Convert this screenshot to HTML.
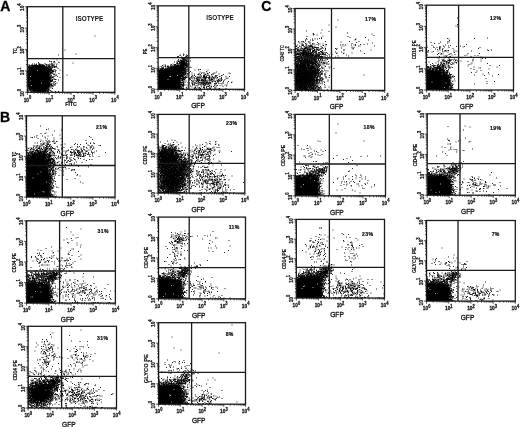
<!DOCTYPE html>
<html><head><meta charset="utf-8"><title>Figure</title>
<style>
html,body{margin:0;padding:0;background:#fff;}
svg{display:block;}
.d{fill:none;stroke-width:1.7;stroke-linecap:square;}
text{font-family:"Liberation Sans", sans-serif;fill:#111;font-weight:bold;}
.t{font-size:5.6px;stroke:#111;stroke-width:.25px;}
.s{font-size:4.7px;}
.yl{font-size:5.2px;stroke:#111;stroke-width:.15px;}
.xl{font-size:6.6px;font-weight:normal;fill:#111;stroke:#111;stroke-width:.3px;}
.iso{font-size:6.4px;}
.pc{font-size:5.1px;letter-spacing:.35px;stroke:#111;stroke-width:.2px;}
.pl{font-size:14px;fill:#000;stroke:#000;stroke-width:.3px;}
</style></head><body>
<svg width="520" height="427" viewBox="0 0 520 427">
<rect width="520" height="427" fill="#fff"/>
<defs><filter id="b" x="-30%" y="-30%" width="160%" height="160%"><feGaussianBlur stdDeviation="0.6"/></filter></defs>
<clipPath id="cA1"><rect x="27.4" y="6.7" width="87.40" height="85.60"/></clipPath>
<g clip-path="url(#cA1)">
<polygon points="42.2,65.6 44.0,65.8 45.7,66.5 47.1,67.6 48.2,69.0 48.9,70.7 49.1,72.5 49.1,84.7 48.9,86.5 48.2,88.2 47.1,89.6 45.7,90.7 44.0,91.4 42.2,91.6 35.3,91.6 33.5,91.4 31.8,90.7 30.4,89.6 29.3,88.2 28.6,86.5 28.4,84.7 28.4,72.5 28.6,70.7 29.3,69.0 30.4,67.6 31.8,66.5 33.5,65.8 35.3,65.6" fill="#000" filter="url(#b)"/>
<path class="d" transform="scale(.5)" d="M75 141zm-14 12zm-1 8zm23 5zm-20 5zm2 9z" stroke="#fff" opacity=".75"/>
<path class="d" transform="scale(.5)" d="M190 72zm-60 28zm22 8zm-35 2zm9 6zm-13 1zm1 3zm-15 2zm1 1zm3 0zm5 0zm1 0zm9 1zm-41 1zm31 0zm10 0zm-15 1zm7 0zm36 0zm-68 1zm12 0zm14 0zm-39 1zm4 0zm4 0zm5 0zm2 0zm20 0zm6 0zm8 0zm-56 1zm15 0zm6 0zm1 0zm4 0zm8 0zm1 0zm3 0zm2 0zm4 0zm2 0zm-41 1zm2 0zm3 0zm2 0zm1 0zm6 0zm1 0zm1 0zm1 0zm1 0zm1 0zm2 0zm1 0zm1 0zm1 0zm3 0zm3 0zm12 0zm2 0zm2 0zm4 0zm-54 1zm3 0zm2 0zm3 0zm2 0zm1 0zm1 0zm1 0zm2 0zm1 0zm1 0zm3 0zm2 0zm2 0zm2 0zm1 0zm2 0zm1 0zm5 0zm4 0zm1 0zm5 0zm2 0zm-50 1zm2 0zm2 0zm1 0zm2 0zm1 0zm1 0zm1 0zm3 0zm3 0zm1 0zm1 0zm1 0zm1 0zm1 0zm1 0zm2 0zm2 0zm1 0zm2 0zm1 0zm1 0zm2 0zm5 0zm3 0zm2 0zm1 0zm3 0zm2 0zm1 0zm-50 1zm2 0zm2 0zm7 0zm2 0zm1 0zm1 0zm2 0zm1 0zm2 0zm1 0zm1 0zm1 0zm2 0zm1 0zm1 0zm1 0zm2 0zm1 0zm6 0zm3 0zm1 0zm1 0zm2 0zm2 0zm6 0zm1 0zm2 0zm2 0zm-56 1zm1 0zm1 0zm3 0zm1 0zm1 0zm1 0zm1 0zm1 0zm19 0zm2 0zm1 0zm2 0zm1 0zm1 0zm7 0zm4 0zm2 0zm2 0zm-52 1zm1 0zm1 0zm1 0zm1 0zm2 0zm1 0zm28 0zm1 0zm2 0zm1 0zm3 0zm1 0zm1 0zm4 0zm1 0zm4 0zm1 0zm4 0zm-58 1zm2 0zm1 0zm2 0zm1 0zm31 0zm1 0zm1 0zm1 0zm1 0zm1 0zm1 0zm1 0zm1 0zm3 0zm-48 1zm2 0zm1 0zm1 0zm1 0zm1 0zm31 0zm2 0zm1 0zm1 0zm3 0zm2 0zm1 0zm13 0zm-60 1zm2 0zm2 0zm1 0zm33 0zm2 0zm1 0zm4 0zm1 0zm-46 1zm4 0zm34 0zm1 0zm1 0zm3 0zm1 0zm1 0zm1 0zm1 0zm7 0zm-54 1zm3 0zm1 0zm36 0zm1 0zm2 0zm1 0zm3 0zm3 0zm2 0zm12 0zm-64 1zm1 0zm1 0zm37 0zm3 0zm1 0zm2 0zm2 0zm1 0zm2 0zm6 0zm-56 1zm2 0zm1 0zm37 0zm1 0zm1 0zm6 0zm1 0zm1 0zm5 0zm-55 1zm1 0zm1 0zm1 0zm37 0zm1 0zm1 0zm1 0zm3 0zm3 0zm2 0zm1 0zm-52 1zm2 0zm39 0zm1 0zm1 0zm1 0zm1 0zm1 0zm2 0zm1 0zm1 0zm5 0zm-55 1zm2 0zm38 0zm1 0zm4 0zm2 0zm-47 1zm3 0zm38 0zm1 0zm1 0zm3 0zm2 0zm-47 1zm1 0zm1 0zm38 0zm1 0zm3 0zm3 0zm2 0zm12 0zm-62 1zm1 0zm39 0zm1 0zm4 0zm1 0zm8 0zm-54 1zm2 0zm39 0zm2 0zm1 0zm7 0zm2 0zm-53 1zm1 0zm2 0zm38 0zm16 0zm21 0zm-78 1zm40 0zm1 0zm3 0zm3 0zm9 0zm-56 1zm2 0zm38 0zm1 0zm1 0zm1 0zm2 0zm9 0zm-54 1zm3 0zm38 0zm1 0zm3 0zm7 0zm7 0zm-59 1zm1 0zm1 0zm38 0zm3 0zm4 0zm1 0zm1 0zm2 0zm-51 1zm1 0zm1 0zm39 0zm2 0zm2 0zm3 0zm1 0zm15 0zm-64 1zm2 0zm39 0zm2 0zm1 0zm2 0zm2 0zm3 0zm-51 1zm2 0zm1 0zm40 0zm3 0zm-46 1zm1 0zm1 0zm1 0zm38 0zm1 0zm1 0zm1 0zm1 0zm8 0zm-53 1zm1 0zm2 0zm37 0zm3 0zm1 0zm5 0zm3 0zm3 0zm1 0zm-56 1zm1 0zm1 0zm39 0zm1 0zm1 0zm1 0zm1 0zm2 0zm1 0zm13 0zm-61 1zm1 0zm1 0zm40 0zm3 0zm1 0zm2 0zm1 0zm-49 1zm1 0zm1 0zm1 0zm38 0zm2 0zm2 0zm2 0zm-47 1zm1 0zm1 0zm39 0zm4 0zm1 0zm1 0zm1 0zm2 0zm5 0zm-55 1zm1 0zm1 0zm1 0zm39 0zm1 0zm1 0zm1 0zm8 0zm-53 1zm1 0zm1 0zm1 0zm38 0zm1 0zm1 0zm-43 1zm3 0zm38 0zm2 0zm3 0zm5 0zm1 0zm6 0zm-58 1zm2 0zm1 0zm40 0zm1 0zm4 0zm7 0zm-55 1zm1 0zm1 0zm1 0zm39 0zm1 0zm1 0zm-44 1zm1 0zm1 0zm38 0zm1 0zm1 0zm2 0zm1 0zm1 0zm1 0zm5 0zm2 0zm-54 1zm1 0zm1 0zm1 0zm37 0zm2 0zm1 0zm1 0zm2 0zm2 0zm3 0zm-49 1zm39 0zm1 0zm1 0zm1 0zm3 0zm2 0zm5 0zm-54 1zm2 0zm39 0zm2 0zm1 0zm-44 1zm1 0zm1 0zm1 0zm37 0zm1 0zm1 0zm1 0zm1 0zm4 0zm2 0zm-50 1zm1 0zm1 0zm1 0zm1 0zm36 0zm1 0zm1 0zm6 0zm-45 1zm1 0zm34 0zm2 0zm4 0zm-44 1zm2 0zm1 0zm1 0zm1 0zm33 0zm1 0zm1 0zm6 0zm-46 1zm3 0zm1 0zm2 0zm31 0zm2 0zm1 0zm9 0zm-48 1zm2 0zm1 0zm32 0zm1 0zm1 0zm2 0zm1 0zm1 0zm1 0zm-40 1zm1 0zm1 0zm1 0zm1 0zm1 0zm27 0zm1 0zm4 0zm1 0zm-39 1zm3 0zm4 0zm1 0zm1 0zm22 0zm1 0zm2 0zm1 0zm3 0zm-40 1zm4 0zm1 0zm4 0zm2 0zm2 0zm2 0zm1 0zm6 0zm5 0zm1 0zm1 0zm1 0zm1 0zm2 0zm2 0zm1 0zm3 0zm1 0zm2 0zm3 0zm-44 1zm5 0zm1 0zm1 0zm2 0zm2 0zm4 0zm1 0zm1 0zm1 0zm2 0zm1 0zm1 0zm1 0zm1 0zm1 0zm1 0zm1 0zm1 0zm4 0zm1 0zm1 0zm1 0zm2 0zm3 0zm5 0zm-40 1zm2 0zm4 0zm1 0zm1 0zm1 0zm1 0zm1 0zm1 0zm2 0zm1 0zm1 0zm1 0zm1 0zm1 0zm1 0zm1 0zm2 0zm1 0zm1 0zm1 0zm1 0zm1 0zm1 0zm1 0zm3 0zm2 0zm7 0zm7 0zm6 0z" stroke="#000"/>
</g>
<rect x="27.4" y="6.7" width="87.40" height="85.60" fill="none" stroke="#1a1a1a" stroke-width="1.3"/>
<path d="M62.8 6.7V92.3M27.4 58.7H114.8" stroke="#1a1a1a" stroke-width="1.3" fill="none"/>
<path d="M27.4 92.3v2.6M27.4 92.3h-2.6M34.0 92.3v1.5M27.4 85.9h-1.5M37.8 92.3v1.5M27.4 82.1h-1.5M40.6 92.3v1.5M27.4 79.4h-1.5M42.7 92.3v1.5M27.4 77.3h-1.5M44.4 92.3v1.5M27.4 75.6h-1.5M45.9 92.3v1.5M27.4 74.2h-1.5M47.1 92.3v1.5M27.4 73.0h-1.5M48.3 92.3v1.5M27.4 71.9h-1.5M49.2 92.3v2.6M27.4 70.9h-2.6M55.8 92.3v1.5M27.4 64.5h-1.5M59.7 92.3v1.5M27.4 60.7h-1.5M62.4 92.3v1.5M27.4 58.0h-1.5M64.5 92.3v1.5M27.4 55.9h-1.5M66.3 92.3v1.5M27.4 54.2h-1.5M67.7 92.3v1.5M27.4 52.8h-1.5M69.0 92.3v1.5M27.4 51.6h-1.5M70.1 92.3v1.5M27.4 50.5h-1.5M71.1 92.3v2.6M27.4 49.5h-2.6M77.7 92.3v1.5M27.4 43.1h-1.5M81.5 92.3v1.5M27.4 39.3h-1.5M84.3 92.3v1.5M27.4 36.6h-1.5M86.4 92.3v1.5M27.4 34.5h-1.5M88.1 92.3v1.5M27.4 32.8h-1.5M89.6 92.3v1.5M27.4 31.4h-1.5M90.8 92.3v1.5M27.4 30.2h-1.5M92.0 92.3v1.5M27.4 29.1h-1.5M93.0 92.3v2.6M27.4 28.1h-2.6M99.5 92.3v1.5M27.4 21.7h-1.5M103.4 92.3v1.5M27.4 17.9h-1.5M106.1 92.3v1.5M27.4 15.2h-1.5M108.2 92.3v1.5M27.4 13.1h-1.5M110.0 92.3v1.5M27.4 11.4h-1.5M111.4 92.3v1.5M27.4 10.0h-1.5M112.7 92.3v1.5M27.4 8.8h-1.5M113.8 92.3v1.5M27.4 7.7h-1.5M114.8 92.3v2.6M27.4 6.7h-2.6" stroke="#111" stroke-width="0.7" fill="none"/>
<text transform="translate(27.5 101.5) scale(.86 1)" class="t" text-anchor="middle">10<tspan dy="-2.6" class="s">0</tspan></text>
<text transform="translate(23.8 92.8) rotate(-90) scale(.86 1)" class="t" text-anchor="middle">10<tspan dy="-2.6" class="s">0</tspan></text>
<text transform="translate(49.4 101.5) scale(.86 1)" class="t" text-anchor="middle">10<tspan dy="-2.6" class="s">1</tspan></text>
<text transform="translate(23.8 71.4) rotate(-90) scale(.86 1)" class="t" text-anchor="middle">10<tspan dy="-2.6" class="s">1</tspan></text>
<text transform="translate(71.2 101.5) scale(.86 1)" class="t" text-anchor="middle">10<tspan dy="-2.6" class="s">2</tspan></text>
<text transform="translate(23.8 50.0) rotate(-90) scale(.86 1)" class="t" text-anchor="middle">10<tspan dy="-2.6" class="s">2</tspan></text>
<text transform="translate(93.1 101.5) scale(.86 1)" class="t" text-anchor="middle">10<tspan dy="-2.6" class="s">3</tspan></text>
<text transform="translate(23.8 28.6) rotate(-90) scale(.86 1)" class="t" text-anchor="middle">10<tspan dy="-2.6" class="s">3</tspan></text>
<text transform="translate(114.9 101.5) scale(.86 1)" class="t" text-anchor="middle">10<tspan dy="-2.6" class="s">4</tspan></text>
<text transform="translate(23.8 7.2) rotate(-90) scale(.86 1)" class="t" text-anchor="middle">10<tspan dy="-2.6" class="s">4</tspan></text>
<text transform="translate(16.7 53.9) rotate(-90)" class="yl" textLength="5.9" lengthAdjust="spacingAndGlyphs">TC</text>
<text x="71.1" y="105.7" class="yl" text-anchor="middle">FITC</text>
<text x="89.5" y="20.8" class="iso" text-anchor="middle">ISOTYPE</text>
<clipPath id="cA2"><rect x="158.1" y="5.85" width="86.40" height="83.45"/></clipPath>
<g clip-path="url(#cA2)">
<polygon points="173.8,68.2 175.3,68.1 176.8,68.5 178.0,69.2 179.0,70.2 179.6,71.6 179.8,73.1 179.8,93.7 179.6,95.3 179.0,96.9 178.0,98.3 176.8,99.5 175.3,100.4 173.8,100.9 152.1,105.3 150.6,105.4 149.1,105.1 147.9,104.4 146.9,103.3 146.3,102.0 146.1,100.4 146.1,79.8 146.3,78.2 146.9,76.6 147.9,75.2 149.1,74.0 150.6,73.1 152.1,72.6" fill="#000" filter="url(#b)"/>
<path class="d" transform="scale(.5)" d="M355 151zm-15 2zm1 0zm-5 6z" stroke="#fff" opacity=".75"/>
<path class="d" transform="scale(.5)" d="M367 108zm1 1zm-7 1zm12 0zm-13 1zm7 0zm8 0zm-3 1zm-17 1zm2 0zm16 0zm1 0zm-11 1zm8 0zm2 0zm2 1zm-12 1zm1 0zm3 0zm8 0zm1 0zm-11 1zm1 0zm2 0zm1 0zm5 0zm6 0zm-15 1zm3 0zm2 0zm1 0zm1 0zm-15 1zm9 0zm1 0zm1 0zm6 0zm-13 1zm3 0zm3 0zm2 0zm1 0zm1 0zm1 0zm2 0zm-18 1zm5 0zm2 0zm1 0zm2 0zm1 0zm1 0zm2 0zm1 0zm1 0zm1 0zm3 0zm-19 1zm1 0zm4 0zm1 0zm1 0zm2 0zm1 0zm1 0zm4 0zm9 0zm-27 1zm3 0zm2 0zm4 0zm2 0zm1 0zm1 0zm1 0zm1 0zm5 0zm1 0zm2 0zm-28 1zm12 0zm1 0zm1 0zm1 0zm1 0zm1 0zm1 0zm2 0zm1 0zm2 0zm1 0zm3 0zm-21 1zm4 0zm1 0zm2 0zm1 0zm1 0zm1 0zm1 0zm1 0zm1 0zm1 0zm1 0zm2 0zm1 0zm-20 1zm6 0zm2 0zm1 0zm1 0zm1 0zm2 0zm1 0zm1 0zm1 0zm5 0zm-20 1zm1 0zm4 0zm4 0zm2 0zm1 0zm1 0zm1 0zm1 0zm2 0zm1 0zm1 0zm1 0zm3 0zm-31 1zm9 0zm1 0zm1 0zm3 0zm1 0zm1 0zm1 0zm1 0zm1 0zm1 0zm1 0zm1 0zm4 0zm2 0zm4 0zm-35 1zm6 0zm1 0zm1 0zm9 0zm1 0zm1 0zm1 0zm1 0zm1 0zm1 0zm1 0zm2 0zm2 0zm2 0zm3 0zm-48 1zm3 0zm10 0zm7 0zm4 0zm2 0zm2 0zm4 0zm1 0zm1 0zm1 0zm1 0zm1 0zm1 0zm1 0zm1 0zm1 0zm1 0zm1 0zm1 0zm1 0zm2 0zm1 0zm-51 1zm23 0zm1 0zm3 0zm1 0zm1 0zm2 0zm1 0zm1 0zm3 0zm1 0zm1 0zm2 0zm1 0zm1 0zm2 0zm1 0zm1 0zm2 0zm1 0zm2 0zm-45 1zm4 0zm2 0zm4 0zm2 0zm1 0zm1 0zm4 0zm1 0zm1 0zm2 0zm1 0zm1 0zm1 0zm1 0zm1 0zm1 0zm1 0zm1 0zm1 0zm2 0zm1 0zm1 0zm1 0zm1 0zm5 0zm-51 1zm8 0zm1 0zm4 0zm7 0zm1 0zm1 0zm3 0zm1 0zm1 0zm2 0zm1 0zm1 0zm1 0zm1 0zm1 0zm1 0zm1 0zm1 0zm1 0zm1 0zm1 0zm1 0zm1 0zm1 0zm1 0zm1 0zm2 0zm3 0zm1 0zm1 0zm1 0zm-58 1zm1 0zm6 0zm3 0zm7 0zm2 0zm1 0zm1 0zm2 0zm2 0zm2 0zm1 0zm2 0zm1 0zm1 0zm1 0zm2 0zm1 0zm1 0zm2 0zm1 0zm1 0zm3 0zm1 0zm1 0zm1 0zm1 0zm1 0zm1 0zm5 0zm1 0zm1 0zm1 0zm5 0zm-54 1zm10 0zm1 0zm3 0zm1 0zm1 0zm1 0zm1 0zm2 0zm1 0zm2 0zm2 0zm1 0zm1 0zm1 0zm1 0zm1 0zm1 0zm1 0zm1 0zm2 0zm1 0zm1 0zm1 0zm1 0zm1 0zm1 0zm3 0zm1 0zm1 0zm6 0zm4 0zm-59 1zm1 0zm2 0zm5 0zm5 0zm1 0zm1 0zm2 0zm2 0zm1 0zm1 0zm1 0zm2 0zm3 0zm1 0zm1 0zm1 0zm1 0zm1 0zm1 0zm1 0zm1 0zm1 0zm1 0zm1 0zm1 0zm1 0zm1 0zm1 0zm1 0zm2 0zm1 0zm2 0zm6 0zm-57 1zm5 0zm2 0zm4 0zm1 0zm3 0zm3 0zm1 0zm2 0zm1 0zm1 0zm1 0zm1 0zm1 0zm1 0zm1 0zm1 0zm1 0zm1 0zm1 0zm1 0zm1 0zm1 0zm1 0zm2 0zm1 0zm1 0zm1 0zm1 0zm1 0zm1 0zm1 0zm1 0zm1 0zm2 0zm1 0zm1 0zm3 0zm-57 1zm3 0zm1 0zm1 0zm2 0zm1 0zm2 0zm2 0zm2 0zm1 0zm1 0zm2 0zm1 0zm2 0zm1 0zm1 0zm2 0zm1 0zm1 0zm1 0zm1 0zm1 0zm1 0zm1 0zm1 0zm1 0zm1 0zm1 0zm1 0zm1 0zm1 0zm1 0zm1 0zm1 0zm1 0zm1 0zm1 0zm1 0zm1 0zm2 0zm1 0zm1 0zm1 0zm1 0zm1 0zm-54 1zm1 0zm3 0zm2 0zm2 0zm3 0zm1 0zm1 0zm1 0zm2 0zm3 0zm1 0zm2 0zm2 0zm1 0zm1 0zm1 0zm1 0zm1 0zm6 0zm1 0zm1 0zm1 0zm1 0zm1 0zm1 0zm1 0zm1 0zm1 0zm1 0zm1 0zm2 0zm1 0zm1 0zm1 0zm2 0zm4 0zm2 0zm22 0zm3 0zm-84 1zm4 0zm1 0zm1 0zm2 0zm1 0zm2 0zm1 0zm1 0zm1 0zm1 0zm2 0zm1 0zm1 0zm1 0zm1 0zm1 0zm2 0zm1 0zm12 0zm1 0zm1 0zm1 0zm1 0zm1 0zm1 0zm2 0zm1 0zm1 0zm1 0zm1 0zm1 0zm1 0zm1 0zm2 0zm1 0zm1 0zm17 0zm7 0zm19 0zm-99 1zm1 0zm1 0zm1 0zm1 0zm1 0zm1 0zm1 0zm1 0zm1 0zm1 0zm1 0zm2 0zm1 0zm1 0zm1 0zm2 0zm2 0zm19 0zm1 0zm1 0zm1 0zm1 0zm1 0zm2 0zm1 0zm1 0zm1 0zm2 0zm2 0zm6 0zm1 0zm-60 1zm1 0zm1 0zm1 0zm1 0zm1 0zm2 0zm1 0zm1 0zm1 0zm1 0zm1 0zm2 0zm25 0zm1 0zm1 0zm1 0zm1 0zm1 0zm1 0zm1 0zm1 0zm1 0zm2 0zm1 0zm2 0zm1 0zm3 0zm-57 1zm1 0zm1 0zm2 0zm1 0zm1 0zm1 0zm1 0zm1 0zm31 0zm1 0zm1 0zm1 0zm1 0zm1 0zm1 0zm3 0zm3 0zm2 0zm5 0zm5 0zm32 0zm-96 1zm1 0zm1 0zm1 0zm1 0zm1 0zm35 0zm1 0zm1 0zm1 0zm1 0zm1 0zm2 0zm2 0zm1 0zm3 0zm2 0zm1 0zm27 0zm14 0zm19 0zm-116 1zm1 0zm40 0zm1 0zm1 0zm2 0zm1 0zm2 0zm1 0zm1 0zm1 0zm1 0zm2 0zm8 0zm25 0zm15 0zm-60 1zm1 0zm1 0zm1 0zm2 0zm2 0zm1 0zm2 0zm1 0zm14 0zm23 0zm2 0zm19 0zm2 0zm28 0zm-100 1zm1 0zm1 0zm1 0zm2 0zm1 0zm1 0zm1 0zm1 0zm1 0zm3 0zm1 0zm3 0zm28 0zm12 0zm45 0zm-102 1zm1 0zm1 0zm1 0zm1 0zm1 0zm2 0zm2 0zm2 0zm5 0zm2 0zm13 0zm8 0zm2 0zm13 0zm5 0zm8 0zm2 0zm11 0zm-80 1zm1 0zm1 0zm1 0zm1 0zm1 0zm1 0zm1 0zm2 0zm2 0zm2 0zm25 0zm1 0zm4 0zm9 0zm1 0zm12 0zm24 0zm-89 1zm1 0zm1 0zm1 0zm1 0zm2 0zm1 0zm2 0zm2 0zm5 0zm10 0zm24 0zm7 0zm-57 1zm1 0zm1 0zm1 0zm1 0zm1 0zm1 0zm1 0zm1 0zm2 0zm21 0zm18 0zm2 0zm5 0zm4 0zm13 0zm3 0zm9 0zm1 0zm-86 1zm1 0zm1 0zm1 0zm1 0zm1 0zm1 0zm1 0zm1 0zm6 0zm2 0zm2 0zm9 0zm1 0zm12 0zm3 0zm2 0zm7 0zm8 0zm6 0zm9 0zm-75 1zm4 0zm1 0zm2 0zm1 0zm5 0zm12 0zm8 0zm16 0zm1 0zm1 0zm4 0zm6 0zm6 0zm5 0zm9 0zm1 0zm12 0zm7 0zm-101 1zm1 0zm1 0zm1 0zm1 0zm3 0zm2 0zm1 0zm2 0zm24 0zm1 0zm4 0zm4 0zm5 0zm1 0zm1 0zm2 0zm1 0zm9 0zm9 0zm1 0zm-75 1zm1 0zm1 0zm1 0zm1 0zm5 0zm1 0zm2 0zm1 0zm1 0zm2 0zm1 0zm8 0zm6 0zm6 0zm2 0zm1 0zm1 0zm3 0zm5 0zm1 0zm1 0zm3 0zm1 0zm2 0zm2 0zm2 0zm1 0zm7 0zm1 0zm8 0zm8 0zm-83 1zm1 0zm2 0zm2 0zm2 0zm11 0zm2 0zm3 0zm2 0zm3 0zm10 0zm10 0zm1 0zm8 0zm2 0zm3 0zm1 0zm3 0zm1 0zm2 0zm1 0zm4 0zm18 0zm4 0zm-98 1zm1 0zm1 0zm1 0zm1 0zm1 0zm2 0zm2 0zm1 0zm3 0zm8 0zm1 0zm10 0zm3 0zm1 0zm8 0zm8 0zm1 0zm1 0zm6 0zm22 0zm3 0zm11 0zm-97 1zm1 0zm2 0zm1 0zm1 0zm1 0zm1 0zm1 0zm4 0zm1 0zm9 0zm10 0zm6 0zm2 0zm2 0zm5 0zm3 0zm3 0zm8 0zm1 0zm1 0zm3 0zm1 0zm4 0zm6 0zm9 0zm-85 1zm1 0zm6 0zm1 0zm1 0zm1 0zm1 0zm12 0zm13 0zm1 0zm1 0zm8 0zm1 0zm6 0zm9 0zm3 0zm1 0zm1 0zm12 0zm3 0zm4 0zm6 0zm-92 1zm1 0zm1 0zm2 0zm2 0zm2 0zm13 0zm7 0zm7 0zm4 0zm2 0zm1 0zm3 0zm1 0zm1 0zm1 0zm2 0zm1 0zm2 0zm3 0zm6 0zm3 0zm2 0zm3 0zm9 0zm-78 1zm3 0zm2 0zm1 0zm18 0zm5 0zm4 0zm3 0zm1 0zm3 0zm3 0zm1 0zm1 0zm2 0zm1 0zm4 0zm1 0zm4 0zm4 0zm2 0zm12 0zm1 0zm4 0zm3 0zm1 0zm5 0zm-91 1zm1 0zm1 0zm1 0zm1 0zm3 0zm3 0zm2 0zm3 0zm12 0zm11 0zm2 0zm7 0zm2 0zm3 0zm2 0zm8 0zm8 0zm3 0zm7 0zm5 0zm-84 1zm1 0zm7 0zm20 0zm7 0zm4 0zm11 0zm6 0zm10 0zm1 0zm5 0zm1 0zm4 0zm2 0zm3 0zm7 0zm10 0zm-97 1zm1 0zm6 0zm18 0zm3 0zm4 0zm5 0zm1 0zm4 0zm3 0zm2 0zm1 0zm1 0zm2 0zm2 0zm1 0zm2 0zm4 0zm4 0zm11 0zm29 0zm-106 1zm1 0zm1 0zm1 0zm1 0zm1 0zm1 0zm1 0zm1 0zm4 0zm6 0zm14 0zm6 0zm3 0zm1 0zm2 0zm1 0zm1 0zm4 0zm6 0zm1 0zm4 0zm1 0zm1 0zm42 0zm-105 1zm1 0zm1 0zm3 0zm1 0zm3 0zm12 0zm4 0zm3 0zm4 0zm10 0zm5 0zm1 0zm1 0zm4 0zm1 0zm1 0zm1 0zm2 0zm1 0zm4 0zm10 0zm2 0zm4 0zm8 0zm2 0zm8 0zm-97 1zm1 0zm1 0zm7 0zm18 0zm5 0zm3 0zm3 0zm7 0zm4 0zm2 0zm3 0zm4 0zm1 0zm1 0zm2 0zm9 0zm4 0zm5 0zm4 0zm-84 1zm3 0zm1 0zm4 0zm2 0zm21 0zm7 0zm2 0zm3 0zm4 0zm3 0zm2 0zm2 0zm5 0zm5 0zm7 0zm2 0zm1 0zm-72 1zm1 0zm1 0zm1 0zm2 0zm2 0zm18 0zm3 0zm10 0zm4 0zm5 0zm4 0zm3 0zm2 0zm-58 1zm1 0zm1 0zm1 0zm2 0zm2 0zm1 0zm2 0zm2 0zm4 0zm4 0zm7 0zm1 0zm3 0zm13 0zm4 0zm2 0zm2 0zm9 0zm25 0zm6 0zm4 0zm-96 1zm1 0zm1 0zm4 0zm1 0zm2 0zm25 0zm4 0zm14 0zm9 0zm10 0zm6 0zm5 0zm-82 1zm2 0zm4 0zm17 0zm13 0zm9 0zm5 0zm1 0zm7 0zm6 0zm8 0zm3 0zm20 0zm-95 1zm1 0zm1 0zm1 0zm1 0zm5 0zm47 0zm2 0zm1 0zm6 0zm4 0zm19 0zm-88 1zm1 0zm1 0zm1 0zm3 0zm1 0zm11 0zm8 0zm7 0zm11 0zm5 0zm6 0zm6 0zm4 0zm-65 1zm1 0zm1 0zm3 0zm10 0zm18 0zm5 0zm3 0zm8 0zm2 0zm4 0zm7 0zm10 0zm-72 1zm1 0zm1 0zm7 0zm22 0zm1 0zm42 0zm-75 1zm1 0zm1 0zm1 0zm1 0zm1 0zm1 0zm1 0zm1 0zm1 0zm1 0zm7 0zm15 0zm3 0zm6 0zm2 0zm1 0zm8 0zm5 0zm4 0zm2 0zm1 0zm9 0zm8 0zm1 0zm13 0z" stroke="#000"/>
</g>
<rect x="158.1" y="5.85" width="86.40" height="83.45" fill="none" stroke="#1a1a1a" stroke-width="1.3"/>
<path d="M188.8 5.85V89.3M158.1 57.6H244.5" stroke="#1a1a1a" stroke-width="1.3" fill="none"/>
<path d="M158.1 89.3v2.6M158.1 89.3h-2.6M164.6 89.3v1.5M158.1 83.0h-1.5M168.4 89.3v1.5M158.1 79.3h-1.5M171.1 89.3v1.5M158.1 76.7h-1.5M173.2 89.3v1.5M158.1 74.7h-1.5M174.9 89.3v1.5M158.1 73.1h-1.5M176.4 89.3v1.5M158.1 71.7h-1.5M177.6 89.3v1.5M158.1 70.5h-1.5M178.7 89.3v1.5M158.1 69.4h-1.5M179.7 89.3v2.6M158.1 68.4h-2.6M186.2 89.3v1.5M158.1 62.2h-1.5M190.0 89.3v1.5M158.1 58.5h-1.5M192.7 89.3v1.5M158.1 55.9h-1.5M194.8 89.3v1.5M158.1 53.9h-1.5M196.5 89.3v1.5M158.1 52.2h-1.5M198.0 89.3v1.5M158.1 50.8h-1.5M199.2 89.3v1.5M158.1 49.6h-1.5M200.3 89.3v1.5M158.1 48.5h-1.5M201.3 89.3v2.6M158.1 47.6h-2.6M207.8 89.3v1.5M158.1 41.3h-1.5M211.6 89.3v1.5M158.1 37.6h-1.5M214.3 89.3v1.5M158.1 35.0h-1.5M216.4 89.3v1.5M158.1 33.0h-1.5M218.1 89.3v1.5M158.1 31.3h-1.5M219.6 89.3v1.5M158.1 29.9h-1.5M220.8 89.3v1.5M158.1 28.7h-1.5M221.9 89.3v1.5M158.1 27.7h-1.5M222.9 89.3v2.6M158.1 26.7h-2.6M229.4 89.3v1.5M158.1 20.4h-1.5M233.2 89.3v1.5M158.1 16.8h-1.5M235.9 89.3v1.5M158.1 14.2h-1.5M238.0 89.3v1.5M158.1 12.1h-1.5M239.7 89.3v1.5M158.1 10.5h-1.5M241.2 89.3v1.5M158.1 9.1h-1.5M242.4 89.3v1.5M158.1 7.9h-1.5M243.5 89.3v1.5M158.1 6.8h-1.5M244.5 89.3v2.6M158.1 5.8h-2.6" stroke="#111" stroke-width="0.7" fill="none"/>
<text transform="translate(158.2 98.5) scale(.86 1)" class="t" text-anchor="middle">10<tspan dy="-2.6" class="s">0</tspan></text>
<text transform="translate(154.5 89.8) rotate(-90) scale(.86 1)" class="t" text-anchor="middle">10<tspan dy="-2.6" class="s">0</tspan></text>
<text transform="translate(179.8 98.5) scale(.86 1)" class="t" text-anchor="middle">10<tspan dy="-2.6" class="s">1</tspan></text>
<text transform="translate(154.5 68.9) rotate(-90) scale(.86 1)" class="t" text-anchor="middle">10<tspan dy="-2.6" class="s">1</tspan></text>
<text transform="translate(201.4 98.5) scale(.86 1)" class="t" text-anchor="middle">10<tspan dy="-2.6" class="s">2</tspan></text>
<text transform="translate(154.5 48.1) rotate(-90) scale(.86 1)" class="t" text-anchor="middle">10<tspan dy="-2.6" class="s">2</tspan></text>
<text transform="translate(223.0 98.5) scale(.86 1)" class="t" text-anchor="middle">10<tspan dy="-2.6" class="s">3</tspan></text>
<text transform="translate(154.5 27.2) rotate(-90) scale(.86 1)" class="t" text-anchor="middle">10<tspan dy="-2.6" class="s">3</tspan></text>
<text transform="translate(244.6 98.5) scale(.86 1)" class="t" text-anchor="middle">10<tspan dy="-2.6" class="s">4</tspan></text>
<text transform="translate(154.5 6.3) rotate(-90) scale(.86 1)" class="t" text-anchor="middle">10<tspan dy="-2.6" class="s">4</tspan></text>
<text transform="translate(147.4 54.2) rotate(-90)" class="yl" textLength="5.6" lengthAdjust="spacingAndGlyphs">PE</text>
<text x="198.0" y="108.1" class="xl" text-anchor="middle">GFP</text>
<text x="220" y="19.7" class="iso" text-anchor="middle">ISOTYPE</text>
<clipPath id="cB1"><rect x="26.5" y="115.8" width="88.55" height="81.30"/></clipPath>
<g clip-path="url(#cB1)">
<polygon points="41.1,167.9 43.0,168.2 44.8,169.0 46.3,170.2 47.4,171.8 48.2,173.5 48.4,175.4 48.4,203.4 48.2,205.3 47.4,207.0 46.3,208.5 44.8,209.6 43.0,210.2 41.1,210.4 20.2,209.8 18.3,209.5 16.5,208.7 15.0,207.5 13.9,206.0 13.1,204.2 12.9,202.3 12.9,174.4 13.1,172.5 13.9,170.8 15.0,169.3 16.5,168.2 18.3,167.5 20.2,167.3" fill="#000" filter="url(#b)"/>
<path class="d" transform="scale(.5)" d="M82 344zm-6 4zm-10 8zm27 8zm-7 19zm2 1zm-19 4z" stroke="#fff" opacity=".75"/>
<path class="d" transform="scale(.5)" d="M81 252zm16 6zm-4 1zm30 1zm-14 2zm-17 4zm-10 1zm8 0zm15 3zm15 0zm-46 1zm11 1zm11 0zm83 1zm-110 1zm4 0zm17 0zm-28 1zm3 0zm117 0zm-91 1zm17 0zm-32 1zm46 0zm-27 1zm90 1zm-103 1zm26 0zm-16 1zm80 0zm-86 1zm11 0zm2 0zm8 0zm-26 1zm13 0zm11 0zm3 0zm5 0zm1 0zm-19 1zm4 0zm1 0zm-30 2zm5 0zm11 0zm3 0zm3 0zm3 0zm2 0zm11 0zm3 0zm62 0zm8 0zm6 0zm-100 1zm7 0zm15 0zm42 0zm22 0zm8 0zm8 0zm-108 1zm2 0zm4 0zm10 0zm33 0zm-44 1zm2 0zm7 0zm2 0zm3 0zm24 0zm25 0zm6 0zm6 0zm-76 1zm8 0zm2 0zm6 0zm21 0zm54 0zm-101 1zm7 0zm9 0zm8 0zm79 0zm6 0zm14 0zm3 0zm-134 1zm2 0zm3 0zm2 0zm2 0zm3 0zm5 0zm9 0zm2 0zm89 0zm-104 1zm8 0zm5 0zm3 0zm3 0zm4 0zm11 0zm41 0zm4 0zm9 0zm-95 1zm7 0zm7 0zm6 0zm2 0zm2 0zm4 0zm14 0zm29 0zm23 0zm1 0zm12 0zm1 0zm2 0zm4 0zm-120 1zm7 0zm5 0zm9 0zm3 0zm1 0zm10 0zm3 0zm23 0zm13 0zm15 0zm17 0zm9 0zm-128 1zm6 0zm3 0zm4 0zm4 0zm6 0zm6 0zm8 0zm2 0zm3 0zm27 0zm39 0zm26 0zm-131 1zm6 0zm13 0zm1 0zm1 0zm1 0zm4 0zm5 0zm5 0zm2 0zm1 0zm3 0zm2 0zm3 0zm2 0zm1 0zm1 0zm2 0zm64 0zm12 0zm-132 1zm9 0zm2 0zm3 0zm6 0zm5 0zm2 0zm3 0zm4 0zm3 0zm9 0zm3 0zm20 0zm30 0zm9 0zm5 0zm14 0zm-120 1zm7 0zm6 0zm10 0zm1 0zm5 0zm1 0zm2 0zm1 0zm6 0zm10 0zm6 0zm27 0zm3 0zm5 0zm12 0zm5 0zm17 0zm-131 1zm6 0zm1 0zm3 0zm3 0zm1 0zm5 0zm1 0zm1 0zm5 0zm1 0zm5 0zm3 0zm2 0zm1 0zm4 0zm2 0zm2 0zm3 0zm15 0zm19 0zm18 0zm8 0zm6 0zm9 0zm-124 1zm2 0zm14 0zm1 0zm2 0zm1 0zm1 0zm3 0zm12 0zm1 0zm1 0zm10 0zm1 0zm14 0zm19 0zm12 0zm6 0zm3 0zm1 0zm7 0zm7 0zm-101 1zm3 0zm1 0zm1 0zm1 0zm1 0zm2 0zm1 0zm2 0zm3 0zm2 0zm2 0zm1 0zm3 0zm2 0zm7 0zm3 0zm22 0zm4 0zm2 0zm16 0zm5 0zm3 0zm5 0zm12 0zm8 0zm10 0zm-133 1zm4 0zm1 0zm1 0zm1 0zm7 0zm1 0zm2 0zm3 0zm1 0zm3 0zm1 0zm1 0zm1 0zm1 0zm1 0zm2 0zm1 0zm2 0zm1 0zm10 0zm10 0zm4 0zm22 0zm7 0zm7 0zm3 0zm7 0zm7 0zm1 0zm-119 1zm6 0zm1 0zm1 0zm2 0zm1 0zm5 0zm1 0zm4 0zm2 0zm4 0zm1 0zm4 0zm4 0zm4 0zm6 0zm1 0zm5 0zm19 0zm7 0zm11 0zm5 0zm8 0zm1 0zm4 0zm2 0zm20 0zm6 0zm-135 1zm2 0zm3 0zm4 0zm6 0zm1 0zm4 0zm3 0zm2 0zm1 0zm1 0zm1 0zm2 0zm2 0zm1 0zm2 0zm1 0zm2 0zm1 0zm6 0zm3 0zm5 0zm1 0zm7 0zm26 0zm2 0zm2 0zm3 0zm2 0zm1 0zm4 0zm3 0zm1 0zm18 0zm7 0zm2 0zm25 0zm-157 1zm3 0zm3 0zm4 0zm1 0zm1 0zm1 0zm2 0zm1 0zm1 0zm1 0zm1 0zm3 0zm1 0zm1 0zm1 0zm2 0zm2 0zm1 0zm2 0zm4 0zm2 0zm6 0zm3 0zm3 0zm15 0zm3 0zm9 0zm30 0zm4 0zm3 0zm3 0zm-117 1zm3 0zm1 0zm3 0zm1 0zm1 0zm2 0zm3 0zm1 0zm1 0zm2 0zm2 0zm1 0zm1 0zm1 0zm2 0zm1 0zm1 0zm1 0zm1 0zm3 0zm1 0zm1 0zm1 0zm1 0zm4 0zm4 0zm2 0zm8 0zm1 0zm40 0zm2 0zm6 0zm3 0zm7 0zm3 0zm2 0zm5 0zm8 0zm-131 1zm10 0zm3 0zm1 0zm1 0zm4 0zm3 0zm2 0zm1 0zm1 0zm1 0zm1 0zm1 0zm1 0zm1 0zm1 0zm2 0zm1 0zm1 0zm2 0zm3 0zm1 0zm4 0zm5 0zm18 0zm2 0zm18 0zm1 0zm4 0zm5 0zm5 0zm-104 1zm3 0zm2 0zm3 0zm2 0zm1 0zm1 0zm2 0zm1 0zm1 0zm1 0zm1 0zm1 0zm1 0zm1 0zm1 0zm1 0zm1 0zm1 0zm1 0zm1 0zm2 0zm2 0zm1 0zm1 0zm1 0zm1 0zm1 0zm1 0zm2 0zm1 0zm1 0zm1 0zm2 0zm1 0zm1 0zm23 0zm11 0zm15 0zm9 0zm1 0zm1 0zm2 0zm5 0zm8 0zm1 0zm2 0zm2 0zm-123 1zm3 0zm1 0zm3 0zm1 0zm1 0zm1 0zm1 0zm2 0zm1 0zm2 0zm1 0zm1 0zm1 0zm2 0zm1 0zm2 0zm1 0zm1 0zm1 0zm1 0zm1 0zm1 0zm1 0zm1 0zm1 0zm1 0zm5 0zm2 0zm1 0zm3 0zm5 0zm2 0zm15 0zm1 0zm3 0zm4 0zm9 0zm8 0zm3 0zm1 0zm1 0zm1 0zm15 0zm15 0zm-131 1zm1 0zm2 0zm1 0zm1 0zm1 0zm1 0zm1 0zm2 0zm1 0zm1 0zm1 0zm1 0zm1 0zm1 0zm1 0zm1 0zm1 0zm1 0zm1 0zm1 0zm1 0zm1 0zm1 0zm1 0zm1 0zm1 0zm1 0zm1 0zm1 0zm1 0zm1 0zm1 0zm1 0zm1 0zm1 0zm1 0zm1 0zm1 0zm3 0zm2 0zm1 0zm1 0zm1 0zm1 0zm3 0zm6 0zm15 0zm3 0zm3 0zm9 0zm2 0zm9 0zm3 0zm1 0zm3 0zm2 0zm5 0zm4 0zm-117 1zm2 0zm2 0zm1 0zm2 0zm1 0zm2 0zm1 0zm1 0zm2 0zm1 0zm1 0zm1 0zm1 0zm1 0zm1 0zm1 0zm1 0zm1 0zm1 0zm1 0zm1 0zm1 0zm1 0zm1 0zm2 0zm1 0zm1 0zm2 0zm1 0zm2 0zm1 0zm1 0zm4 0zm1 0zm2 0zm1 0zm2 0zm5 0zm8 0zm42 0zm9 0zm11 0zm-125 1zm3 0zm4 0zm2 0zm1 0zm1 0zm1 0zm1 0zm1 0zm1 0zm1 0zm1 0zm1 0zm1 0zm1 0zm1 0zm1 0zm1 0zm1 0zm1 0zm1 0zm1 0zm1 0zm1 0zm1 0zm1 0zm2 0zm1 0zm1 0zm1 0zm2 0zm3 0zm1 0zm1 0zm1 0zm1 0zm2 0zm16 0zm32 0zm7 0zm5 0zm3 0zm1 0zm2 0zm1 0zm12 0zm6 0zm12 0zm-144 1zm1 0zm1 0zm1 0zm1 0zm1 0zm1 0zm1 0zm1 0zm1 0zm1 0zm1 0zm1 0zm1 0zm1 0zm1 0zm1 0zm1 0zm1 0zm2 0zm1 0zm1 0zm1 0zm1 0zm1 0zm1 0zm1 0zm1 0zm1 0zm1 0zm1 0zm1 0zm1 0zm1 0zm1 0zm1 0zm2 0zm1 0zm2 0zm4 0zm22 0zm1 0zm11 0zm1 0zm1 0zm-81 1zm2 0zm1 0zm3 0zm1 0zm1 0zm1 0zm1 0zm1 0zm1 0zm1 0zm1 0zm1 0zm1 0zm1 0zm1 0zm2 0zm1 0zm1 0zm1 0zm1 0zm1 0zm1 0zm1 0zm1 0zm1 0zm1 0zm2 0zm1 0zm1 0zm2 0zm1 0zm1 0zm3 0zm1 0zm2 0zm1 0zm12 0zm5 0zm12 0zm14 0zm14 0zm-102 1zm1 0zm1 0zm1 0zm1 0zm1 0zm1 0zm1 0zm1 0zm1 0zm1 0zm1 0zm1 0zm1 0zm1 0zm1 0zm1 0zm1 0zm1 0zm1 0zm1 0zm2 0zm1 0zm1 0zm1 0zm2 0zm1 0zm1 0zm1 0zm1 0zm1 0zm1 0zm1 0zm1 0zm1 0zm1 0zm6 0zm1 0zm1 0zm2 0zm2 0zm4 0zm10 0zm3 0zm1 0zm12 0zm6 0zm-85 1zm1 0zm1 0zm1 0zm1 0zm2 0zm1 0zm1 0zm1 0zm1 0zm1 0zm1 0zm1 0zm1 0zm1 0zm1 0zm1 0zm1 0zm1 0zm1 0zm1 0zm1 0zm1 0zm1 0zm1 0zm1 0zm1 0zm1 0zm2 0zm1 0zm1 0zm1 0zm1 0zm1 0zm1 0zm1 0zm1 0zm1 0zm4 0zm1 0zm4 0zm1 0zm1 0zm1 0zm8 0zm21 0zm13 0zm10 0zm4 0zm-107 1zm1 0zm1 0zm2 0zm1 0zm2 0zm2 0zm1 0zm1 0zm1 0zm1 0zm1 0zm1 0zm1 0zm1 0zm1 0zm1 0zm1 0zm1 0zm1 0zm1 0zm1 0zm1 0zm1 0zm1 0zm1 0zm1 0zm1 0zm1 0zm1 0zm1 0zm3 0zm1 0zm1 0zm1 0zm1 0zm1 0zm1 0zm1 0zm1 0zm2 0zm1 0zm2 0zm1 0zm5 0zm5 0zm19 0zm7 0zm-86 1zm1 0zm1 0zm1 0zm2 0zm1 0zm1 0zm1 0zm1 0zm1 0zm1 0zm1 0zm1 0zm1 0zm1 0zm1 0zm1 0zm1 0zm1 0zm1 0zm1 0zm1 0zm1 0zm1 0zm1 0zm1 0zm1 0zm1 0zm1 0zm1 0zm1 0zm1 0zm1 0zm1 0zm1 0zm1 0zm2 0zm1 0zm1 0zm1 0zm1 0zm1 0zm1 0zm1 0zm2 0zm1 0zm3 0zm1 0zm1 0zm35 0zm7 0zm19 0zm11 0zm5 0zm-130 1zm1 0zm1 0zm1 0zm1 0zm1 0zm1 0zm2 0zm1 0zm1 0zm1 0zm2 0zm1 0zm1 0zm1 0zm1 0zm1 0zm1 0zm1 0zm1 0zm1 0zm1 0zm1 0zm1 0zm1 0zm1 0zm1 0zm1 0zm1 0zm1 0zm1 0zm1 0zm1 0zm1 0zm2 0zm1 0zm1 0zm1 0zm2 0zm1 0zm1 0zm1 0zm1 0zm1 0zm3 0zm25 0zm22 0zm-97 1zm1 0zm1 0zm1 0zm1 0zm1 0zm1 0zm1 0zm1 0zm1 0zm1 0zm1 0zm2 0zm1 0zm1 0zm1 0zm1 0zm1 0zm1 0zm1 0zm1 0zm1 0zm1 0zm1 0zm1 0zm1 0zm1 0zm1 0zm1 0zm1 0zm1 0zm1 0zm1 0zm1 0zm1 0zm2 0zm2 0zm2 0zm1 0zm1 0zm2 0zm2 0zm1 0zm4 0zm1 0zm1 0zm1 0zm22 0zm5 0zm1 0zm5 0zm2 0zm29 0zm-119 1zm1 0zm1 0zm2 0zm1 0zm1 0zm1 0zm1 0zm1 0zm1 0zm1 0zm1 0zm1 0zm1 0zm1 0zm1 0zm1 0zm1 0zm1 0zm1 0zm1 0zm1 0zm1 0zm1 0zm1 0zm1 0zm1 0zm1 0zm1 0zm1 0zm1 0zm1 0zm1 0zm1 0zm1 0zm2 0zm2 0zm2 0zm1 0zm4 0zm29 0zm-75 1zm1 0zm2 0zm1 0zm1 0zm1 0zm1 0zm1 0zm1 0zm1 0zm1 0zm1 0zm1 0zm1 0zm1 0zm1 0zm1 0zm1 0zm1 0zm1 0zm1 0zm1 0zm1 0zm1 0zm1 0zm1 0zm1 0zm1 0zm1 0zm1 0zm1 0zm1 0zm1 0zm1 0zm1 0zm1 0zm1 0zm2 0zm1 0zm1 0zm1 0zm1 0zm1 0zm3 0zm1 0zm3 0zm2 0zm1 0zm2 0zm8 0zm21 0zm2 0zm-87 1zm1 0zm1 0zm1 0zm1 0zm1 0zm1 0zm1 0zm1 0zm1 0zm1 0zm1 0zm1 0zm1 0zm1 0zm1 0zm1 0zm1 0zm1 0zm1 0zm1 0zm1 0zm1 0zm1 0zm1 0zm1 0zm1 0zm1 0zm1 0zm1 0zm1 0zm1 0zm1 0zm1 0zm1 0zm1 0zm1 0zm1 0zm1 0zm1 0zm1 0zm1 0zm1 0zm2 0zm2 0zm1 0zm4 0zm20 0zm9 0zm1 0zm18 0zm-99 1zm1 0zm1 0zm1 0zm1 0zm1 0zm1 0zm1 0zm1 0zm1 0zm1 0zm1 0zm1 0zm1 0zm1 0zm1 0zm1 0zm1 0zm1 0zm1 0zm1 0zm1 0zm1 0zm1 0zm1 0zm1 0zm1 0zm1 0zm1 0zm1 0zm1 0zm1 0zm1 0zm1 0zm1 0zm1 0zm1 0zm1 0zm2 0zm2 0zm1 0zm2 0zm2 0zm2 0zm1 0zm1 0zm1 0zm3 0zm1 0zm6 0zm1 0zm7 0zm1 0zm9 0zm31 0zm-110 1zm1 0zm1 0zm2 0zm1 0zm1 0zm1 0zm1 0zm1 0zm1 0zm1 0zm1 0zm1 0zm1 0zm2 0zm1 0zm1 0zm1 0zm1 0zm1 0zm1 0zm1 0zm1 0zm1 0zm1 0zm1 0zm1 0zm1 0zm1 0zm1 0zm1 0zm1 0zm1 0zm1 0zm1 0zm1 0zm1 0zm1 0zm1 0zm1 0zm1 0zm1 0zm1 0zm1 0zm2 0zm3 0zm1 0zm1 0zm5 0zm3 0zm9 0zm6 0zm20 0zm-95 1zm1 0zm1 0zm1 0zm1 0zm1 0zm1 0zm1 0zm1 0zm1 0zm1 0zm3 0zm1 0zm1 0zm1 0zm1 0zm1 0zm1 0zm1 0zm1 0zm1 0zm1 0zm1 0zm1 0zm1 0zm1 0zm1 0zm1 0zm1 0zm2 0zm1 0zm1 0zm1 0zm1 0zm1 0zm1 0zm2 0zm1 0zm1 0zm1 0zm3 0zm2 0zm1 0zm2 0zm4 0zm33 0zm-88 1zm2 0zm1 0zm1 0zm1 0zm1 0zm2 0zm1 0zm1 0zm1 0zm1 0zm1 0zm1 0zm1 0zm1 0zm1 0zm1 0zm1 0zm1 0zm1 0zm1 0zm1 0zm1 0zm1 0zm1 0zm1 0zm1 0zm1 0zm1 0zm1 0zm1 0zm1 0zm1 0zm1 0zm1 0zm1 0zm3 0zm1 0zm1 0zm1 0zm1 0zm4 0zm3 0zm2 0zm1 0zm1 0zm11 0zm19 0zm4 0zm5 0zm-94 1zm1 0zm1 0zm2 0zm1 0zm1 0zm1 0zm1 0zm1 0zm1 0zm1 0zm2 0zm1 0zm1 0zm1 0zm1 0zm1 0zm1 0zm1 0zm1 0zm1 0zm1 0zm1 0zm1 0zm1 0zm1 0zm1 0zm1 0zm1 0zm1 0zm1 0zm1 0zm1 0zm1 0zm1 0zm1 0zm1 0zm1 0zm3 0zm1 0zm1 0zm3 0zm6 0zm3 0zm21 0zm12 0zm39 0zm-128 1zm1 0zm1 0zm1 0zm1 0zm1 0zm1 0zm1 0zm1 0zm2 0zm1 0zm1 0zm1 0zm1 0zm1 0zm1 0zm1 0zm1 0zm1 0zm1 0zm1 0zm1 0zm1 0zm1 0zm1 0zm1 0zm1 0zm1 0zm1 0zm1 0zm1 0zm1 0zm2 0zm1 0zm1 0zm1 0zm1 0zm1 0zm1 0zm1 0zm1 0zm1 0zm1 0zm3 0zm2 0zm6 0zm1 0zm1 0zm3 0zm5 0zm34 0zm-99 1zm2 0zm2 0zm1 0zm1 0zm1 0zm1 0zm1 0zm1 0zm1 0zm2 0zm1 0zm1 0zm1 0zm1 0zm1 0zm1 0zm1 0zm1 0zm1 0zm1 0zm1 0zm1 0zm1 0zm1 0zm1 0zm1 0zm1 0zm1 0zm1 0zm1 0zm1 0zm1 0zm1 0zm2 0zm1 0zm1 0zm1 0zm1 0zm1 0zm3 0zm2 0zm3 0zm3 0zm6 0zm2 0zm20 0zm-82 1zm3 0zm2 0zm1 0zm1 0zm1 0zm1 0zm1 0zm1 0zm1 0zm1 0zm1 0zm1 0zm1 0zm1 0zm1 0zm1 0zm2 0zm1 0zm1 0zm1 0zm1 0zm1 0zm1 0zm1 0zm1 0zm1 0zm1 0zm1 0zm1 0zm2 0zm1 0zm1 0zm1 0zm1 0zm3 0zm4 0zm2 0zm4 0zm2 0zm-54 1zm1 0zm1 0zm1 0zm1 0zm1 0zm1 0zm1 0zm2 0zm1 0zm1 0zm1 0zm1 0zm1 0zm1 0zm1 0zm1 0zm1 0zm1 0zm1 0zm1 0zm1 0zm2 0zm1 0zm2 0zm1 0zm1 0zm1 0zm1 0zm1 0zm1 0zm1 0zm1 0zm1 0zm1 0zm1 0zm2 0zm1 0zm1 0zm1 0zm2 0zm2 0zm1 0zm5 0zm50 0zm-103 1zm1 0zm1 0zm1 0zm1 0zm1 0zm1 0zm1 0zm2 0zm1 0zm1 0zm1 0zm1 0zm1 0zm1 0zm1 0zm1 0zm1 0zm1 0zm1 0zm3 0zm2 0zm1 0zm1 0zm3 0zm1 0zm1 0zm1 0zm1 0zm1 0zm1 0zm1 0zm1 0zm3 0zm2 0zm1 0zm1 0zm5 0zm1 0zm3 0zm21 0zm48 0zm-123 1zm1 0zm1 0zm1 0zm1 0zm2 0zm2 0zm1 0zm1 0zm1 0zm1 0zm1 0zm1 0zm1 0zm1 0zm1 0zm1 0zm1 0zm1 0zm1 0zm1 0zm1 0zm1 0zm1 0zm1 0zm1 0zm1 0zm1 0zm1 0zm1 0zm1 0zm1 0zm2 0zm1 0zm1 0zm1 0zm1 0zm1 0zm2 0zm3 0zm1 0zm2 0zm3 0zm2 0zm11 0zm2 0zm2 0zm5 0zm4 0zm-77 1zm1 0zm1 0zm1 0zm1 0zm1 0zm1 0zm1 0zm1 0zm1 0zm1 0zm1 0zm1 0zm1 0zm1 0zm1 0zm1 0zm1 0zm1 0zm1 0zm1 0zm1 0zm1 0zm1 0zm1 0zm1 0zm1 0zm1 0zm1 0zm1 0zm2 0zm1 0zm1 0zm1 0zm1 0zm1 0zm1 0zm1 0zm1 0zm1 0zm1 0zm3 0zm3 0zm5 0zm6 0zm-58 1zm1 0zm1 0zm1 0zm3 0zm2 0zm1 0zm1 0zm1 0zm1 0zm1 0zm1 0zm1 0zm1 0zm1 0zm1 0zm1 0zm1 0zm1 0zm1 0zm1 0zm1 0zm1 0zm1 0zm1 0zm1 0zm1 0zm2 0zm3 0zm2 0zm1 0zm1 0zm1 0zm1 0zm1 0zm1 0zm6 0zm1 0zm3 0zm5 0zm6 0zm21 0zm-70 1zm1 0zm2 0zm1 0zm1 0zm1 0zm1 0zm1 0zm1 0zm1 0zm1 0zm2 0zm1 0zm1 0zm2 0zm1 0zm1 0zm3 0zm1 0zm1 0zm2 0zm1 0zm3 0zm4 0zm1 0zm3 0zm9 0zm11 0zm6 0zm-46 1zm1 0zm1 0zm1 0zm1 0zm2 0zm1 0zm1 0zm1 0zm1 0zm3 0zm1 0zm2 0zm1 0zm3 0zm6 0zm32 0zm2 0zm3 0zm-60 1zm1 0zm2 0zm4 0zm1 0zm7 0zm3 0zm3 0zm10 0zm26 0zm3 0zm-59 1zm1 0zm1 0zm2 0zm1 0zm1 0zm3 0zm2 0zm1 0zm3 0zm1 0zm1 0zm1 0zm16 0zm19 0zm-50 1zm2 0zm1 0zm4 0zm6 0zm1 0zm20 0zm-35 1zm1 0zm1 0zm2 0zm1 0zm3 0zm1 0zm4 0zm5 0zm2 0zm-19 1zm1 0zm1 0zm1 0zm2 0zm2 0zm5 0zm6 0zm-18 1zm1 0zm1 0zm3 0zm1 0zm7 0zm45 0zm-57 1zm1 0zm1 0zm5 0zm1 0zm2 0zm2 0zm2 0zm2 0zm16 0zm-30 1zm2 0zm1 0zm8 0zm5 0zm-15 1zm1 0zm2 0zm1 0zm3 0zm2 0zm1 0zm3 0zm-13 1zm2 0zm2 0zm1 0zm3 0zm2 0zm48 0zm-56 1zm2 0zm7 0zm3 0zm16 0zm-32 1zm1 0zm1 0zm1 0zm4 0zm1 0zm1 0zm14 0zm36 0zm-59 1zm1 0zm1 0zm1 0zm1 0zm3 0zm1 0zm57 0zm-65 1zm1 0zm2 0zm1 0zm1 0zm1 0zm3 0zm2 0zm19 0zm-29 1zm1 0zm2 0zm2 0zm8 0zm-14 1zm1 0zm1 0zm1 0zm2 0zm1 0zm1 0zm1 0zm1 0zm-9 1zm1 0zm1 0zm1 0zm1 0zm2 0zm-6 1zm1 0zm1 0zm1 0zm2 0zm1 0zm2 0zm1 0zm5 0zm41 0zm-55 1zm1 0zm1 0zm2 0zm1 0zm1 0zm1 0zm3 0zm1 0zm-10 1zm1 0zm1 0zm3 0zm4 0zm29 0zm-39 1zm1 0zm3 0zm1 0zm1 0zm2 0zm3 0zm-11 1zm1 0zm3 0zm3 0zm4 0zm2 0zm-13 1zm1 0zm1 0zm1 0zm1 0zm2 0zm1 0zm-6 1zm3 0zm1 0zm2 0zm1 0zm7 0zm1 0zm-16 1zm2 0zm2 0zm2 0zm3 0zm3 0zm54 0zm-66 1zm4 0zm2 0zm1 0zm-7 1zm1 0zm1 0zm1 0zm3 0zm2 0zm2 0zm1 0zm60 0zm-71 1zm1 0zm1 0zm4 0zm-6 1zm1 0zm1 0zm1 0zm1 0zm2 0zm1 0zm2 0zm1 0zm6 0zm-13 1zm1 0zm-4 1zm2 0zm1 0zm1 0zm1 0zm1 0zm1 0zm3 0zm-10 1zm1 0zm1 0zm2 0zm8 0zm-12 1zm2 0zm1 0zm1 0zm3 0zm1 0zm-8 1zm1 0zm1 0zm3 0zm1 0zm1 0zm6 0zm-13 1zm1 0zm1 0zm1 0zm3 0zm2 0zm1 0zm3 0zm6 0zm-17 1zm1 0zm2 0zm1 0zm2 0zm3 0zm11 0zm-21 1zm1 0zm1 0zm2 0zm1 0zm3 0zm1 0zm1 0zm-10 1zm1 0zm1 0zm1 0zm1 0zm1 0zm1 0zm5 0zm-11 1zm1 0zm1 0zm1 0zm1 0zm4 0zm1 0zm-8 1zm3 0zm2 0zm-6 1zm1 0zm1 0zm1 0zm1 0zm2 0zm-5 1zm2 0zm1 0zm3 0zm-7 1zm1 0zm2 0zm3 0zm4 0zm1 0zm1 0zm-12 1zm1 0zm1 0zm1 0zm2 0zm-5 1zm2 0zm1 0zm3 0zm1 0zm7 0zm3 0zm-17 1zm1 0zm1 0zm1 0zm2 0zm1 0zm-6 1zm1 0zm1 0zm1 0zm2 0zm-5 1zm1 0zm2 0zm1 0zm3 0zm-7 1zm1 0zm1 0zm1 0zm1 0zm1 0zm1 0zm9 0zm-15 1zm1 0zm1 0zm1 0zm1 0zm3 0zm1 0zm1 0zm2 0zm-11 1zm1 0zm1 0zm3 0zm1 0zm2 0zm1 0zm-8 1zm2 0zm1 0zm1 0zm1 0zm3 0zm4 0zm-13 1zm2 0zm1 0zm1 0zm1 0zm2 0zm3 0zm8 0zm-18 1zm1 0zm1 0zm1 0zm1 0zm1 0zm1 0zm1 0zm1 0zm1 0zm1 0zm1 0zm1 0zm1 0zm3 0z" stroke="#000"/>
</g>
<rect x="26.5" y="115.8" width="88.55" height="81.30" fill="none" stroke="#1a1a1a" stroke-width="1.3"/>
<path d="M62.3 115.8V197.1M26.5 165.5H115.05" stroke="#1a1a1a" stroke-width="1.3" fill="none"/>
<path d="M26.5 197.1v2.6M26.5 197.1h-2.6M33.2 197.1v1.5M26.5 191.0h-1.5M37.1 197.1v1.5M26.5 187.4h-1.5M39.8 197.1v1.5M26.5 184.9h-1.5M42.0 197.1v1.5M26.5 182.9h-1.5M43.7 197.1v1.5M26.5 181.3h-1.5M45.2 197.1v1.5M26.5 179.9h-1.5M46.5 197.1v1.5M26.5 178.7h-1.5M47.6 197.1v1.5M26.5 177.7h-1.5M48.6 197.1v2.6M26.5 176.8h-2.6M55.3 197.1v1.5M26.5 170.7h-1.5M59.2 197.1v1.5M26.5 167.1h-1.5M62.0 197.1v1.5M26.5 164.5h-1.5M64.1 197.1v1.5M26.5 162.6h-1.5M65.9 197.1v1.5M26.5 161.0h-1.5M67.3 197.1v1.5M26.5 159.6h-1.5M68.6 197.1v1.5M26.5 158.4h-1.5M69.8 197.1v1.5M26.5 157.4h-1.5M70.8 197.1v2.6M26.5 156.4h-2.6M77.4 197.1v1.5M26.5 150.3h-1.5M81.3 197.1v1.5M26.5 146.8h-1.5M84.1 197.1v1.5M26.5 144.2h-1.5M86.2 197.1v1.5M26.5 142.2h-1.5M88.0 197.1v1.5M26.5 140.6h-1.5M89.5 197.1v1.5M26.5 139.3h-1.5M90.8 197.1v1.5M26.5 138.1h-1.5M91.9 197.1v1.5M26.5 137.1h-1.5M92.9 197.1v2.6M26.5 136.1h-2.6M99.6 197.1v1.5M26.5 130.0h-1.5M103.5 197.1v1.5M26.5 126.4h-1.5M106.2 197.1v1.5M26.5 123.9h-1.5M108.4 197.1v1.5M26.5 121.9h-1.5M110.1 197.1v1.5M26.5 120.3h-1.5M111.6 197.1v1.5M26.5 118.9h-1.5M112.9 197.1v1.5M26.5 117.8h-1.5M114.0 197.1v1.5M26.5 116.7h-1.5M115.0 197.1v2.6M26.5 115.8h-2.6" stroke="#111" stroke-width="0.7" fill="none"/>
<text transform="translate(26.6 206.3) scale(.86 1)" class="t" text-anchor="middle">10<tspan dy="-2.6" class="s">0</tspan></text>
<text transform="translate(22.9 197.6) rotate(-90) scale(.86 1)" class="t" text-anchor="middle">10<tspan dy="-2.6" class="s">0</tspan></text>
<text transform="translate(48.7 206.3) scale(.86 1)" class="t" text-anchor="middle">10<tspan dy="-2.6" class="s">1</tspan></text>
<text transform="translate(22.9 177.3) rotate(-90) scale(.86 1)" class="t" text-anchor="middle">10<tspan dy="-2.6" class="s">1</tspan></text>
<text transform="translate(70.9 206.3) scale(.86 1)" class="t" text-anchor="middle">10<tspan dy="-2.6" class="s">2</tspan></text>
<text transform="translate(22.9 156.9) rotate(-90) scale(.86 1)" class="t" text-anchor="middle">10<tspan dy="-2.6" class="s">2</tspan></text>
<text transform="translate(93.0 206.3) scale(.86 1)" class="t" text-anchor="middle">10<tspan dy="-2.6" class="s">3</tspan></text>
<text transform="translate(22.9 136.6) rotate(-90) scale(.86 1)" class="t" text-anchor="middle">10<tspan dy="-2.6" class="s">3</tspan></text>
<text transform="translate(115.1 206.3) scale(.86 1)" class="t" text-anchor="middle">10<tspan dy="-2.6" class="s">4</tspan></text>
<text transform="translate(22.9 116.3) rotate(-90) scale(.86 1)" class="t" text-anchor="middle">10<tspan dy="-2.6" class="s">4</tspan></text>
<text transform="translate(15.8 167.5) rotate(-90)" class="yl" textLength="15.7" lengthAdjust="spacingAndGlyphs">CD45 TC</text>
<text x="67.4" y="215.9" class="xl" text-anchor="middle">GFP</text>
<text x="101.7" y="128.8" class="pc" text-anchor="middle">21%</text>
<clipPath id="cB2"><rect x="158.1" y="114.4" width="86.70" height="78.70"/></clipPath>
<g clip-path="url(#cB2)">
<path class="d" transform="scale(.5)" d="" stroke="#fff" opacity=".75"/>
<path class="d" transform="scale(.5)" d="M344 280zm6 1zm-15 1zm85 1zm12 0zm-111 1zm33 0zm77 0zm-84 1zm65 0zm-50 1zm-45 1zm13 0zm89 0zm-82 1zm4 0zm73 0zm7 0zm11 0zm-96 1zm11 0zm1 0zm9 0zm48 0zm26 0zm-114 1zm8 0zm15 0zm4 0zm1 0zm2 0zm44 0zm9 0zm37 0zm1 0zm-121 1zm10 0zm1 0zm1 0zm11 0zm2 0zm2 0zm-27 1zm7 0zm1 0zm2 0zm4 0zm5 0zm6 0zm1 0zm11 0zm40 0zm18 0zm-95 1zm1 0zm7 0zm2 0zm6 0zm5 0zm5 0zm5 0zm3 0zm58 0zm-92 1zm5 0zm3 0zm2 0zm13 0zm5 0zm7 0zm1 0zm11 0zm22 0zm14 0zm28 0zm-111 1zm3 0zm4 0zm2 0zm2 0zm3 0zm2 0zm4 0zm3 0zm2 0zm2 0zm1 0zm4 0zm2 0zm42 0zm12 0zm21 0zm8 0zm4 0zm-121 1zm7 0zm2 0zm4 0zm1 0zm3 0zm2 0zm5 0zm6 0zm4 0zm6 0zm14 0zm43 0zm4 0zm-101 1zm3 0zm4 0zm1 0zm2 0zm2 0zm1 0zm1 0zm6 0zm2 0zm1 0zm2 0zm3 0zm4 0zm4 0zm5 0zm36 0zm6 0zm1 0zm14 0zm1 0zm5 0zm3 0zm-107 1zm9 0zm1 0zm1 0zm2 0zm3 0zm7 0zm1 0zm1 0zm5 0zm1 0zm3 0zm27 0zm13 0zm3 0zm21 0zm3 0zm10 0zm-111 1zm2 0zm5 0zm3 0zm1 0zm1 0zm1 0zm1 0zm1 0zm1 0zm2 0zm2 0zm2 0zm4 0zm2 0zm1 0zm2 0zm3 0zm50 0zm4 0zm9 0zm3 0zm2 0zm1 0zm1 0zm-104 1zm4 0zm2 0zm1 0zm1 0zm1 0zm7 0zm2 0zm2 0zm1 0zm1 0zm1 0zm1 0zm1 0zm1 0zm1 0zm1 0zm2 0zm2 0zm1 0zm1 0zm1 0zm2 0zm3 0zm27 0zm5 0zm2 0zm11 0zm7 0zm3 0zm11 0zm6 0zm1 0zm-113 1zm1 0zm1 0zm4 0zm2 0zm3 0zm1 0zm1 0zm1 0zm1 0zm2 0zm3 0zm1 0zm1 0zm1 0zm1 0zm2 0zm2 0zm1 0zm3 0zm2 0zm3 0zm2 0zm2 0zm2 0zm3 0zm2 0zm4 0zm11 0zm9 0zm10 0zm1 0zm6 0zm18 0zm-107 1zm6 0zm2 0zm1 0zm1 0zm1 0zm1 0zm1 0zm3 0zm1 0zm1 0zm1 0zm1 0zm2 0zm2 0zm1 0zm1 0zm2 0zm1 0zm1 0zm3 0zm1 0zm1 0zm1 0zm1 0zm2 0zm1 0zm1 0zm38 0zm1 0zm14 0zm8 0zm2 0zm7 0zm10 0zm2 0zm-123 1zm1 0zm3 0zm2 0zm2 0zm1 0zm1 0zm1 0zm1 0zm1 0zm1 0zm1 0zm2 0zm1 0zm1 0zm2 0zm1 0zm1 0zm3 0zm1 0zm1 0zm1 0zm3 0zm10 0zm2 0zm25 0zm7 0zm6 0zm4 0zm5 0zm4 0zm7 0zm44 0zm-146 1zm2 0zm1 0zm5 0zm1 0zm3 0zm2 0zm1 0zm2 0zm1 0zm1 0zm2 0zm1 0zm1 0zm1 0zm1 0zm2 0zm1 0zm1 0zm1 0zm2 0zm1 0zm4 0zm8 0zm20 0zm6 0zm5 0zm14 0zm2 0zm7 0zm1 0zm4 0zm-101 1zm1 0zm1 0zm1 0zm1 0zm1 0zm1 0zm1 0zm1 0zm1 0zm1 0zm1 0zm2 0zm2 0zm2 0zm1 0zm3 0zm1 0zm1 0zm1 0zm1 0zm1 0zm1 0zm4 0zm1 0zm1 0zm44 0zm1 0zm4 0zm5 0zm8 0zm24 0zm-122 1zm2 0zm1 0zm1 0zm3 0zm1 0zm1 0zm1 0zm2 0zm2 0zm2 0zm2 0zm1 0zm1 0zm3 0zm3 0zm3 0zm1 0zm1 0zm4 0zm1 0zm3 0zm6 0zm5 0zm3 0zm4 0zm14 0zm9 0zm2 0zm6 0zm15 0zm2 0zm-105 1zm1 0zm1 0zm2 0zm1 0zm1 0zm1 0zm1 0zm1 0zm1 0zm1 0zm1 0zm1 0zm1 0zm1 0zm1 0zm1 0zm1 0zm1 0zm1 0zm2 0zm1 0zm1 0zm1 0zm1 0zm1 0zm1 0zm1 0zm1 0zm3 0zm1 0zm1 0zm3 0zm5 0zm30 0zm3 0zm23 0zm-99 1zm3 0zm1 0zm2 0zm1 0zm2 0zm1 0zm1 0zm1 0zm1 0zm1 0zm1 0zm1 0zm1 0zm1 0zm1 0zm1 0zm1 0zm1 0zm1 0zm1 0zm1 0zm2 0zm1 0zm1 0zm1 0zm4 0zm1 0zm1 0zm4 0zm3 0zm2 0zm5 0zm3 0zm6 0zm3 0zm9 0zm8 0zm5 0zm4 0zm5 0zm2 0zm9 0zm-104 1zm1 0zm2 0zm1 0zm1 0zm1 0zm2 0zm2 0zm1 0zm3 0zm1 0zm1 0zm1 0zm1 0zm1 0zm2 0zm2 0zm1 0zm1 0zm1 0zm1 0zm1 0zm1 0zm1 0zm1 0zm2 0zm3 0zm1 0zm1 0zm3 0zm2 0zm3 0zm2 0zm6 0zm4 0zm9 0zm14 0zm4 0zm1 0zm2 0zm1 0zm2 0zm5 0zm1 0zm2 0zm14 0zm-113 1zm1 0zm1 0zm2 0zm2 0zm1 0zm1 0zm1 0zm1 0zm1 0zm2 0zm1 0zm1 0zm1 0zm1 0zm1 0zm1 0zm1 0zm1 0zm1 0zm1 0zm1 0zm1 0zm1 0zm1 0zm2 0zm1 0zm1 0zm2 0zm1 0zm1 0zm4 0zm1 0zm1 0zm5 0zm1 0zm27 0zm6 0zm3 0zm5 0zm12 0zm-100 1zm1 0zm3 0zm1 0zm2 0zm1 0zm1 0zm1 0zm2 0zm1 0zm1 0zm1 0zm1 0zm2 0zm1 0zm1 0zm1 0zm1 0zm1 0zm1 0zm2 0zm1 0zm1 0zm1 0zm1 0zm1 0zm1 0zm1 0zm2 0zm1 0zm1 0zm1 0zm1 0zm9 0zm6 0zm5 0zm1 0zm10 0zm13 0zm2 0zm1 0zm3 0zm13 0zm8 0zm-110 1zm3 0zm1 0zm1 0zm1 0zm1 0zm1 0zm1 0zm1 0zm1 0zm1 0zm1 0zm1 0zm1 0zm1 0zm1 0zm2 0zm1 0zm1 0zm1 0zm2 0zm1 0zm1 0zm1 0zm1 0zm2 0zm1 0zm1 0zm1 0zm1 0zm1 0zm2 0zm1 0zm1 0zm1 0zm1 0zm3 0zm2 0zm3 0zm3 0zm9 0zm3 0zm4 0zm18 0zm4 0zm5 0zm-95 1zm2 0zm1 0zm1 0zm1 0zm1 0zm1 0zm1 0zm1 0zm1 0zm1 0zm1 0zm1 0zm1 0zm1 0zm1 0zm1 0zm2 0zm1 0zm1 0zm2 0zm1 0zm1 0zm1 0zm1 0zm1 0zm1 0zm1 0zm1 0zm1 0zm1 0zm1 0zm1 0zm1 0zm1 0zm2 0zm1 0zm1 0zm4 0zm1 0zm5 0zm16 0zm2 0zm6 0zm5 0zm17 0zm2 0zm2 0zm2 0zm-103 1zm2 0zm2 0zm1 0zm1 0zm1 0zm1 0zm1 0zm1 0zm2 0zm1 0zm1 0zm1 0zm1 0zm1 0zm1 0zm2 0zm1 0zm1 0zm1 0zm2 0zm1 0zm1 0zm1 0zm1 0zm1 0zm1 0zm1 0zm1 0zm1 0zm3 0zm1 0zm2 0zm1 0zm1 0zm2 0zm1 0zm14 0zm7 0zm2 0zm11 0zm8 0zm6 0zm9 0zm-102 1zm2 0zm3 0zm1 0zm2 0zm1 0zm1 0zm1 0zm1 0zm1 0zm1 0zm1 0zm1 0zm1 0zm1 0zm1 0zm1 0zm1 0zm1 0zm1 0zm1 0zm1 0zm1 0zm1 0zm1 0zm1 0zm1 0zm1 0zm1 0zm1 0zm1 0zm2 0zm1 0zm1 0zm2 0zm3 0zm2 0zm1 0zm3 0zm2 0zm11 0zm13 0zm1 0zm4 0zm4 0zm2 0zm8 0zm-94 1zm1 0zm1 0zm1 0zm2 0zm1 0zm1 0zm1 0zm1 0zm1 0zm1 0zm1 0zm1 0zm1 0zm1 0zm1 0zm1 0zm1 0zm1 0zm1 0zm1 0zm1 0zm1 0zm1 0zm1 0zm1 0zm1 0zm1 0zm1 0zm1 0zm1 0zm1 0zm3 0zm1 0zm2 0zm1 0zm9 0zm4 0zm2 0zm7 0zm7 0zm8 0zm3 0zm5 0zm7 0zm2 0zm9 0zm-102 1zm1 0zm4 0zm1 0zm2 0zm1 0zm1 0zm1 0zm1 0zm1 0zm1 0zm1 0zm1 0zm1 0zm1 0zm1 0zm1 0zm1 0zm1 0zm1 0zm1 0zm1 0zm1 0zm1 0zm1 0zm1 0zm1 0zm1 0zm1 0zm1 0zm1 0zm1 0zm1 0zm2 0zm1 0zm3 0zm1 0zm9 0zm1 0zm4 0zm3 0zm10 0zm6 0zm23 0zm2 0zm-101 1zm1 0zm1 0zm1 0zm2 0zm1 0zm1 0zm1 0zm1 0zm1 0zm1 0zm1 0zm1 0zm1 0zm1 0zm1 0zm1 0zm1 0zm1 0zm1 0zm1 0zm1 0zm1 0zm1 0zm1 0zm2 0zm1 0zm1 0zm1 0zm1 0zm1 0zm1 0zm1 0zm1 0zm1 0zm6 0zm3 0zm1 0zm6 0zm2 0zm3 0zm31 0zm6 0zm3 0zm13 0zm-110 1zm1 0zm1 0zm1 0zm1 0zm1 0zm1 0zm1 0zm1 0zm1 0zm1 0zm1 0zm1 0zm1 0zm1 0zm1 0zm1 0zm1 0zm1 0zm1 0zm1 0zm1 0zm1 0zm1 0zm1 0zm1 0zm1 0zm1 0zm1 0zm1 0zm1 0zm1 0zm1 0zm1 0zm1 0zm2 0zm1 0zm3 0zm1 0zm2 0zm1 0zm1 0zm1 0zm4 0zm3 0zm3 0zm9 0zm14 0zm18 0zm2 0zm4 0zm-103 1zm3 0zm2 0zm1 0zm1 0zm1 0zm2 0zm1 0zm1 0zm1 0zm1 0zm1 0zm1 0zm1 0zm1 0zm1 0zm1 0zm1 0zm1 0zm1 0zm1 0zm1 0zm1 0zm1 0zm1 0zm1 0zm1 0zm1 0zm1 0zm1 0zm1 0zm2 0zm1 0zm5 0zm1 0zm6 0zm2 0zm2 0zm7 0zm5 0zm2 0zm12 0zm9 0zm-88 1zm2 0zm1 0zm1 0zm1 0zm2 0zm1 0zm1 0zm1 0zm1 0zm1 0zm1 0zm1 0zm1 0zm1 0zm1 0zm1 0zm1 0zm1 0zm1 0zm1 0zm1 0zm1 0zm1 0zm1 0zm1 0zm1 0zm1 0zm1 0zm1 0zm1 0zm1 0zm1 0zm1 0zm1 0zm1 0zm2 0zm6 0zm1 0zm1 0zm2 0zm5 0zm3 0zm6 0zm4 0zm9 0zm9 0zm2 0zm12 0zm2 0zm-101 1zm1 0zm2 0zm2 0zm2 0zm1 0zm2 0zm1 0zm1 0zm1 0zm1 0zm1 0zm1 0zm1 0zm2 0zm1 0zm1 0zm2 0zm1 0zm1 0zm1 0zm1 0zm1 0zm1 0zm1 0zm1 0zm2 0zm1 0zm1 0zm1 0zm2 0zm1 0zm1 0zm1 0zm1 0zm2 0zm2 0zm1 0zm2 0zm3 0zm5 0zm3 0zm1 0zm5 0zm11 0zm2 0zm4 0zm10 0zm10 0zm18 0zm-121 1zm1 0zm3 0zm1 0zm1 0zm2 0zm1 0zm1 0zm2 0zm2 0zm1 0zm1 0zm1 0zm1 0zm1 0zm1 0zm2 0zm1 0zm3 0zm1 0zm2 0zm1 0zm1 0zm1 0zm1 0zm1 0zm3 0zm2 0zm1 0zm5 0zm1 0zm1 0zm2 0zm1 0zm1 0zm2 0zm1 0zm3 0zm1 0zm1 0zm1 0zm7 0zm7 0zm8 0zm41 0zm-123 1zm1 0zm2 0zm2 0zm1 0zm1 0zm2 0zm1 0zm1 0zm1 0zm2 0zm1 0zm1 0zm1 0zm1 0zm1 0zm1 0zm1 0zm1 0zm1 0zm1 0zm1 0zm1 0zm1 0zm1 0zm1 0zm2 0zm1 0zm1 0zm2 0zm1 0zm1 0zm2 0zm1 0zm1 0zm2 0zm1 0zm2 0zm1 0zm1 0zm3 0zm1 0zm1 0zm1 0zm2 0zm1 0zm1 0zm1 0zm6 0zm37 0zm-102 1zm3 0zm1 0zm1 0zm2 0zm1 0zm1 0zm1 0zm1 0zm1 0zm1 0zm1 0zm1 0zm2 0zm1 0zm1 0zm1 0zm1 0zm1 0zm1 0zm1 0zm1 0zm2 0zm1 0zm1 0zm1 0zm1 0zm3 0zm1 0zm1 0zm1 0zm1 0zm1 0zm4 0zm3 0zm4 0zm2 0zm1 0zm1 0zm12 0zm5 0zm3 0zm12 0zm14 0zm6 0zm-106 1zm2 0zm1 0zm1 0zm1 0zm1 0zm1 0zm1 0zm1 0zm1 0zm3 0zm1 0zm1 0zm1 0zm1 0zm1 0zm1 0zm1 0zm1 0zm1 0zm1 0zm1 0zm1 0zm1 0zm1 0zm1 0zm1 0zm1 0zm1 0zm1 0zm1 0zm1 0zm1 0zm3 0zm1 0zm2 0zm2 0zm1 0zm1 0zm2 0zm1 0zm1 0zm2 0zm1 0zm1 0zm1 0zm1 0zm2 0zm2 0zm4 0zm4 0zm36 0zm16 0zm-119 1zm3 0zm1 0zm1 0zm1 0zm1 0zm1 0zm2 0zm1 0zm1 0zm1 0zm1 0zm1 0zm1 0zm1 0zm1 0zm1 0zm1 0zm1 0zm1 0zm2 0zm1 0zm1 0zm1 0zm1 0zm1 0zm1 0zm1 0zm1 0zm1 0zm1 0zm1 0zm1 0zm2 0zm1 0zm1 0zm1 0zm1 0zm4 0zm4 0zm2 0zm1 0zm1 0zm1 0zm4 0zm4 0zm6 0zm-69 1zm3 0zm1 0zm2 0zm1 0zm1 0zm1 0zm1 0zm2 0zm1 0zm1 0zm1 0zm1 0zm1 0zm1 0zm1 0zm1 0zm1 0zm1 0zm1 0zm1 0zm1 0zm1 0zm1 0zm1 0zm1 0zm2 0zm1 0zm1 0zm1 0zm1 0zm1 0zm1 0zm1 0zm6 0zm2 0zm1 0zm1 0zm1 0zm1 0zm1 0zm1 0zm3 0zm4 0zm3 0zm3 0zm7 0zm-72 1zm2 0zm1 0zm1 0zm2 0zm1 0zm1 0zm1 0zm1 0zm1 0zm1 0zm1 0zm1 0zm3 0zm1 0zm1 0zm1 0zm1 0zm2 0zm1 0zm1 0zm1 0zm1 0zm1 0zm1 0zm2 0zm3 0zm1 0zm2 0zm3 0zm1 0zm1 0zm2 0zm2 0zm1 0zm1 0zm1 0zm1 0zm1 0zm1 0zm2 0zm2 0zm1 0zm2 0zm2 0zm3 0zm1 0zm7 0zm29 0zm-101 1zm1 0zm1 0zm1 0zm1 0zm1 0zm1 0zm1 0zm1 0zm1 0zm1 0zm1 0zm2 0zm1 0zm1 0zm1 0zm1 0zm1 0zm2 0zm2 0zm2 0zm1 0zm2 0zm1 0zm1 0zm1 0zm1 0zm1 0zm2 0zm1 0zm1 0zm1 0zm1 0zm1 0zm2 0zm2 0zm2 0zm1 0zm3 0zm2 0zm1 0zm1 0zm1 0zm2 0zm2 0zm9 0zm42 0zm17 0zm-126 1zm2 0zm1 0zm3 0zm2 0zm1 0zm1 0zm1 0zm2 0zm1 0zm1 0zm3 0zm1 0zm1 0zm1 0zm1 0zm1 0zm1 0zm1 0zm1 0zm1 0zm1 0zm1 0zm1 0zm1 0zm3 0zm2 0zm2 0zm2 0zm2 0zm3 0zm1 0zm2 0zm2 0zm1 0zm1 0zm1 0zm2 0zm2 0zm6 0zm-63 1zm2 0zm1 0zm1 0zm2 0zm1 0zm1 0zm1 0zm2 0zm1 0zm1 0zm1 0zm1 0zm1 0zm1 0zm1 0zm1 0zm1 0zm1 0zm1 0zm1 0zm2 0zm1 0zm2 0zm2 0zm1 0zm1 0zm1 0zm1 0zm1 0zm4 0zm2 0zm1 0zm2 0zm3 0zm1 0zm2 0zm1 0zm1 0zm1 0zm1 0zm2 0zm5 0zm1 0zm1 0zm2 0zm4 0zm2 0zm20 0zm-91 1zm1 0zm1 0zm3 0zm1 0zm1 0zm1 0zm1 0zm1 0zm1 0zm2 0zm1 0zm1 0zm1 0zm1 0zm1 0zm3 0zm1 0zm1 0zm1 0zm1 0zm1 0zm3 0zm1 0zm1 0zm2 0zm1 0zm1 0zm1 0zm2 0zm3 0zm1 0zm1 0zm1 0zm2 0zm2 0zm2 0zm1 0zm1 0zm1 0zm1 0zm2 0zm1 0zm3 0zm3 0zm7 0zm18 0zm-88 1zm3 0zm3 0zm3 0zm1 0zm1 0zm1 0zm1 0zm1 0zm1 0zm1 0zm1 0zm1 0zm1 0zm1 0zm2 0zm1 0zm2 0zm2 0zm1 0zm2 0zm1 0zm1 0zm1 0zm1 0zm1 0zm2 0zm1 0zm1 0zm1 0zm2 0zm1 0zm1 0zm3 0zm1 0zm1 0zm1 0zm1 0zm1 0zm1 0zm4 0zm1 0zm2 0zm20 0zm18 0zm1 0zm-99 1zm2 0zm1 0zm1 0zm1 0zm2 0zm1 0zm1 0zm1 0zm2 0zm2 0zm1 0zm2 0zm2 0zm1 0zm1 0zm1 0zm1 0zm1 0zm3 0zm1 0zm2 0zm1 0zm1 0zm1 0zm2 0zm1 0zm1 0zm1 0zm1 0zm2 0zm1 0zm1 0zm1 0zm1 0zm1 0zm3 0zm1 0zm1 0zm1 0zm1 0zm2 0zm2 0zm1 0zm3 0zm24 0zm7 0zm2 0zm2 0zm-96 1zm2 0zm1 0zm3 0zm2 0zm2 0zm3 0zm2 0zm1 0zm1 0zm1 0zm2 0zm2 0zm1 0zm1 0zm1 0zm1 0zm1 0zm1 0zm2 0zm1 0zm2 0zm1 0zm1 0zm3 0zm3 0zm2 0zm3 0zm1 0zm1 0zm2 0zm1 0zm2 0zm1 0zm2 0zm2 0zm1 0zm2 0zm9 0zm-70 1zm4 0zm2 0zm1 0zm1 0zm1 0zm3 0zm2 0zm1 0zm1 0zm1 0zm1 0zm2 0zm4 0zm1 0zm1 0zm1 0zm2 0zm1 0zm1 0zm1 0zm2 0zm1 0zm3 0zm1 0zm3 0zm1 0zm1 0zm1 0zm1 0zm2 0zm1 0zm3 0zm3 0zm5 0zm4 0zm-63 1zm1 0zm2 0zm1 0zm1 0zm1 0zm3 0zm1 0zm1 0zm1 0zm1 0zm1 0zm1 0zm1 0zm3 0zm1 0zm1 0zm1 0zm1 0zm1 0zm1 0zm1 0zm1 0zm1 0zm2 0zm1 0zm1 0zm1 0zm1 0zm1 0zm1 0zm2 0zm1 0zm1 0zm2 0zm1 0zm1 0zm1 0zm2 0zm2 0zm1 0zm1 0zm1 0zm4 0zm1 0zm1 0zm2 0zm1 0zm3 0zm4 0zm-69 1zm1 0zm4 0zm1 0zm2 0zm1 0zm1 0zm1 0zm1 0zm1 0zm2 0zm1 0zm1 0zm1 0zm2 0zm2 0zm1 0zm1 0zm1 0zm1 0zm2 0zm1 0zm1 0zm2 0zm1 0zm1 0zm2 0zm1 0zm2 0zm1 0zm1 0zm1 0zm1 0zm1 0zm1 0zm1 0zm1 0zm2 0zm1 0zm1 0zm1 0zm1 0zm1 0zm2 0zm2 0zm5 0zm26 0zm5 0zm6 0zm15 0zm10 0zm-125 1zm2 0zm4 0zm2 0zm1 0zm1 0zm3 0zm3 0zm3 0zm1 0zm1 0zm1 0zm3 0zm1 0zm1 0zm1 0zm2 0zm2 0zm1 0zm1 0zm1 0zm1 0zm3 0zm1 0zm2 0zm1 0zm1 0zm2 0zm1 0zm1 0zm3 0zm2 0zm1 0zm3 0zm1 0zm5 0zm3 0zm3 0zm20 0zm4 0zm3 0zm2 0zm35 0zm-133 1zm4 0zm1 0zm1 0zm1 0zm1 0zm2 0zm2 0zm1 0zm1 0zm1 0zm1 0zm1 0zm2 0zm1 0zm1 0zm1 0zm1 0zm1 0zm2 0zm2 0zm1 0zm1 0zm1 0zm1 0zm1 0zm1 0zm2 0zm1 0zm1 0zm1 0zm2 0zm1 0zm2 0zm1 0zm1 0zm1 0zm1 0zm2 0zm1 0zm2 0zm1 0zm2 0zm3 0zm1 0zm6 0zm11 0zm12 0zm11 0zm7 0zm-107 1zm2 0zm1 0zm1 0zm4 0zm1 0zm1 0zm1 0zm1 0zm1 0zm2 0zm1 0zm1 0zm1 0zm1 0zm2 0zm1 0zm1 0zm1 0zm1 0zm1 0zm1 0zm1 0zm3 0zm2 0zm1 0zm2 0zm1 0zm1 0zm1 0zm1 0zm2 0zm1 0zm4 0zm1 0zm2 0zm1 0zm9 0zm1 0zm3 0zm1 0zm11 0zm21 0zm5 0zm6 0zm-108 1zm1 0zm1 0zm3 0zm1 0zm2 0zm1 0zm2 0zm2 0zm1 0zm1 0zm1 0zm1 0zm1 0zm1 0zm1 0zm1 0zm1 0zm1 0zm1 0zm1 0zm1 0zm2 0zm1 0zm1 0zm1 0zm1 0zm1 0zm1 0zm1 0zm1 0zm1 0zm1 0zm2 0zm1 0zm2 0zm1 0zm1 0zm1 0zm1 0zm2 0zm3 0zm2 0zm1 0zm2 0zm10 0zm1 0zm1 0zm8 0zm5 0zm8 0zm14 0zm8 0zm13 0zm-125 1zm5 0zm2 0zm1 0zm1 0zm1 0zm1 0zm1 0zm1 0zm3 0zm1 0zm3 0zm1 0zm1 0zm1 0zm1 0zm1 0zm2 0zm1 0zm1 0zm1 0zm1 0zm1 0zm1 0zm1 0zm3 0zm1 0zm2 0zm1 0zm1 0zm1 0zm1 0zm1 0zm1 0zm2 0zm5 0zm2 0zm1 0zm2 0zm1 0zm5 0zm16 0zm6 0zm2 0zm7 0zm8 0zm-103 1zm3 0zm1 0zm1 0zm1 0zm2 0zm1 0zm2 0zm1 0zm2 0zm1 0zm1 0zm2 0zm1 0zm1 0zm1 0zm2 0zm1 0zm1 0zm1 0zm2 0zm1 0zm1 0zm1 0zm1 0zm4 0zm1 0zm1 0zm1 0zm1 0zm1 0zm1 0zm1 0zm3 0zm1 0zm1 0zm1 0zm1 0zm1 0zm2 0zm8 0zm3 0zm1 0zm21 0zm4 0zm-90 1zm5 0zm2 0zm2 0zm2 0zm1 0zm1 0zm1 0zm2 0zm4 0zm2 0zm2 0zm2 0zm1 0zm2 0zm1 0zm1 0zm1 0zm1 0zm1 0zm1 0zm1 0zm1 0zm2 0zm1 0zm1 0zm1 0zm2 0zm2 0zm1 0zm2 0zm4 0zm3 0zm1 0zm10 0zm10 0zm2 0zm2 0zm14 0zm3 0zm8 0zm1 0zm7 0zm9 0zm-119 1zm1 0zm4 0zm1 0zm1 0zm1 0zm1 0zm1 0zm1 0zm1 0zm1 0zm1 0zm2 0zm2 0zm1 0zm1 0zm1 0zm1 0zm3 0zm1 0zm1 0zm1 0zm1 0zm1 0zm1 0zm1 0zm1 0zm2 0zm1 0zm1 0zm1 0zm1 0zm1 0zm1 0zm4 0zm1 0zm2 0zm2 0zm4 0zm4 0zm1 0zm28 0zm8 0zm5 0zm3 0zm1 0zm-108 1zm2 0zm3 0zm2 0zm1 0zm1 0zm1 0zm1 0zm1 0zm1 0zm1 0zm1 0zm1 0zm1 0zm1 0zm1 0zm1 0zm1 0zm1 0zm1 0zm1 0zm1 0zm1 0zm1 0zm1 0zm1 0zm1 0zm1 0zm3 0zm1 0zm1 0zm1 0zm1 0zm1 0zm1 0zm1 0zm2 0zm1 0zm1 0zm1 0zm1 0zm1 0zm2 0zm1 0zm2 0zm1 0zm4 0zm1 0zm1 0zm16 0zm27 0zm1 0zm24 0zm-128 1zm3 0zm3 0zm1 0zm4 0zm1 0zm1 0zm1 0zm2 0zm1 0zm1 0zm1 0zm2 0zm2 0zm1 0zm1 0zm1 0zm1 0zm1 0zm1 0zm1 0zm1 0zm1 0zm1 0zm1 0zm2 0zm1 0zm1 0zm2 0zm1 0zm1 0zm1 0zm2 0zm1 0zm1 0zm1 0zm2 0zm3 0zm1 0zm1 0zm1 0zm2 0zm8 0zm13 0zm5 0zm6 0zm8 0zm2 0zm5 0zm5 0zm1 0zm17 0zm-128 1zm2 0zm4 0zm1 0zm1 0zm3 0zm1 0zm1 0zm1 0zm1 0zm1 0zm1 0zm1 0zm1 0zm1 0zm1 0zm1 0zm1 0zm1 0zm2 0zm1 0zm1 0zm1 0zm1 0zm1 0zm1 0zm1 0zm2 0zm1 0zm1 0zm1 0zm1 0zm1 0zm2 0zm1 0zm2 0zm1 0zm1 0zm1 0zm1 0zm2 0zm1 0zm1 0zm7 0zm1 0zm18 0zm3 0zm45 0zm-127 1zm3 0zm1 0zm2 0zm2 0zm1 0zm1 0zm1 0zm1 0zm1 0zm1 0zm1 0zm2 0zm1 0zm1 0zm1 0zm2 0zm1 0zm1 0zm1 0zm1 0zm1 0zm1 0zm1 0zm1 0zm1 0zm1 0zm1 0zm1 0zm1 0zm1 0zm1 0zm1 0zm1 0zm1 0zm1 0zm1 0zm1 0zm1 0zm1 0zm1 0zm1 0zm2 0zm2 0zm1 0zm3 0zm1 0zm1 0zm1 0zm5 0zm15 0zm5 0zm2 0zm9 0zm7 0zm11 0zm9 0zm4 0zm1 0zm3 0zm1 0zm4 0zm-134 1zm3 0zm1 0zm1 0zm1 0zm2 0zm3 0zm1 0zm3 0zm1 0zm1 0zm2 0zm2 0zm2 0zm2 0zm1 0zm1 0zm1 0zm1 0zm1 0zm1 0zm3 0zm1 0zm1 0zm1 0zm1 0zm2 0zm1 0zm1 0zm1 0zm3 0zm1 0zm1 0zm3 0zm1 0zm1 0zm5 0zm1 0zm1 0zm8 0zm22 0zm5 0zm3 0zm19 0zm1 0zm13 0zm16 0zm-147 1zm3 0zm1 0zm1 0zm5 0zm1 0zm1 0zm1 0zm3 0zm1 0zm1 0zm1 0zm1 0zm1 0zm1 0zm1 0zm1 0zm1 0zm1 0zm1 0zm1 0zm1 0zm1 0zm1 0zm1 0zm1 0zm2 0zm1 0zm1 0zm1 0zm1 0zm2 0zm1 0zm5 0zm1 0zm1 0zm1 0zm6 0zm1 0zm2 0zm8 0zm8 0zm9 0zm6 0zm4 0zm3 0zm5 0zm2 0zm1 0zm4 0zm3 0zm2 0zm1 0zm8 0zm3 0zm-126 1zm1 0zm3 0zm1 0zm1 0zm2 0zm1 0zm1 0zm1 0zm1 0zm1 0zm1 0zm2 0zm1 0zm4 0zm1 0zm1 0zm1 0zm1 0zm1 0zm2 0zm1 0zm1 0zm1 0zm1 0zm3 0zm1 0zm1 0zm2 0zm1 0zm1 0zm3 0zm2 0zm2 0zm2 0zm2 0zm3 0zm1 0zm26 0zm4 0zm2 0zm5 0zm5 0zm15 0zm5 0zm-118 1zm1 0zm4 0zm1 0zm4 0zm1 0zm2 0zm2 0zm1 0zm1 0zm1 0zm1 0zm1 0zm1 0zm1 0zm1 0zm1 0zm1 0zm1 0zm1 0zm1 0zm1 0zm1 0zm1 0zm1 0zm1 0zm1 0zm1 0zm1 0zm1 0zm2 0zm1 0zm1 0zm1 0zm1 0zm1 0zm2 0zm1 0zm1 0zm1 0zm1 0zm14 0zm5 0zm19 0zm11 0zm13 0zm19 0zm-131 1zm1 0zm3 0zm3 0zm1 0zm1 0zm1 0zm1 0zm1 0zm1 0zm2 0zm1 0zm1 0zm1 0zm1 0zm1 0zm1 0zm2 0zm1 0zm1 0zm1 0zm1 0zm1 0zm1 0zm1 0zm3 0zm2 0zm1 0zm2 0zm2 0zm2 0zm1 0zm1 0zm1 0zm1 0zm3 0zm1 0zm1 0zm1 0zm1 0zm1 0zm3 0zm3 0zm26 0zm1 0zm15 0zm3 0zm3 0zm10 0zm3 0zm-121 1zm1 0zm2 0zm1 0zm1 0zm6 0zm1 0zm2 0zm2 0zm2 0zm1 0zm3 0zm1 0zm1 0zm1 0zm1 0zm1 0zm1 0zm1 0zm1 0zm1 0zm1 0zm1 0zm1 0zm1 0zm1 0zm1 0zm1 0zm1 0zm2 0zm1 0zm1 0zm1 0zm1 0zm1 0zm2 0zm1 0zm1 0zm2 0zm1 0zm5 0zm2 0zm3 0zm19 0zm33 0zm-115 1zm2 0zm1 0zm1 0zm1 0zm1 0zm2 0zm2 0zm1 0zm1 0zm1 0zm1 0zm1 0zm1 0zm1 0zm2 0zm1 0zm1 0zm2 0zm1 0zm1 0zm1 0zm1 0zm1 0zm2 0zm1 0zm2 0zm1 0zm1 0zm1 0zm1 0zm1 0zm1 0zm1 0zm1 0zm2 0zm1 0zm1 0zm1 0zm1 0zm1 0zm2 0zm12 0zm15 0zm14 0zm8 0zm3 0zm20 0zm4 0zm-126 1zm1 0zm4 0zm3 0zm2 0zm3 0zm1 0zm1 0zm1 0zm1 0zm1 0zm1 0zm1 0zm1 0zm1 0zm1 0zm1 0zm1 0zm1 0zm1 0zm1 0zm1 0zm1 0zm1 0zm1 0zm1 0zm1 0zm1 0zm1 0zm1 0zm2 0zm1 0zm1 0zm2 0zm1 0zm1 0zm1 0zm1 0zm1 0zm3 0zm1 0zm2 0zm23 0zm7 0zm4 0zm7 0zm6 0zm4 0zm1 0zm1 0zm1 0zm4 0zm3 0zm3 0zm5 0zm1 0zm8 0zm2 0zm-134 1zm2 0zm3 0zm4 0zm1 0zm1 0zm2 0zm1 0zm1 0zm1 0zm1 0zm2 0zm2 0zm1 0zm1 0zm1 0zm1 0zm1 0zm1 0zm1 0zm1 0zm1 0zm1 0zm1 0zm2 0zm1 0zm1 0zm1 0zm1 0zm1 0zm1 0zm1 0zm1 0zm1 0zm2 0zm1 0zm1 0zm4 0zm1 0zm1 0zm5 0zm30 0zm8 0zm5 0zm4 0zm6 0zm1 0zm3 0zm16 0zm10 0zm-141 1zm4 0zm1 0zm3 0zm1 0zm2 0zm1 0zm1 0zm1 0zm1 0zm1 0zm1 0zm1 0zm1 0zm1 0zm1 0zm1 0zm1 0zm2 0zm1 0zm1 0zm1 0zm1 0zm1 0zm1 0zm1 0zm1 0zm1 0zm1 0zm1 0zm1 0zm1 0zm1 0zm1 0zm1 0zm1 0zm1 0zm1 0zm4 0zm2 0zm1 0zm3 0zm8 0zm1 0zm2 0zm7 0zm12 0zm9 0zm2 0zm8 0zm4 0zm6 0zm1 0zm-114 1zm4 0zm2 0zm3 0zm1 0zm1 0zm1 0zm1 0zm1 0zm1 0zm1 0zm1 0zm1 0zm1 0zm1 0zm1 0zm1 0zm1 0zm1 0zm1 0zm1 0zm1 0zm1 0zm1 0zm1 0zm1 0zm1 0zm1 0zm1 0zm2 0zm1 0zm1 0zm1 0zm1 0zm1 0zm2 0zm1 0zm1 0zm1 0zm1 0zm1 0zm2 0zm4 0zm1 0zm2 0zm1 0zm18 0zm2 0zm2 0zm1 0zm9 0zm2 0zm1 0zm1 0zm4 0zm1 0zm1 0zm9 0zm6 0zm2 0zm1 0zm3 0zm2 0zm-123 1zm4 0zm1 0zm1 0zm2 0zm1 0zm1 0zm1 0zm1 0zm1 0zm1 0zm1 0zm1 0zm2 0zm1 0zm1 0zm1 0zm1 0zm1 0zm2 0zm1 0zm1 0zm1 0zm1 0zm1 0zm2 0zm1 0zm1 0zm1 0zm2 0zm1 0zm1 0zm1 0zm2 0zm1 0zm2 0zm2 0zm3 0zm3 0zm8 0zm2 0zm30 0zm15 0zm13 0zm6 0zm-127 1zm2 0zm1 0zm2 0zm2 0zm1 0zm2 0zm1 0zm1 0zm3 0zm1 0zm1 0zm2 0zm2 0zm1 0zm1 0zm1 0zm1 0zm1 0zm1 0zm1 0zm1 0zm2 0zm1 0zm1 0zm1 0zm1 0zm1 0zm1 0zm2 0zm1 0zm1 0zm1 0zm1 0zm1 0zm4 0zm5 0zm11 0zm9 0zm16 0zm4 0zm1 0zm2 0zm2 0zm13 0zm1 0zm6 0zm1 0zm-119 1zm1 0zm4 0zm2 0zm2 0zm1 0zm1 0zm2 0zm1 0zm2 0zm2 0zm1 0zm1 0zm1 0zm1 0zm1 0zm2 0zm1 0zm1 0zm1 0zm1 0zm1 0zm1 0zm1 0zm1 0zm1 0zm1 0zm1 0zm1 0zm1 0zm2 0zm3 0zm1 0zm2 0zm1 0zm1 0zm2 0zm8 0zm1 0zm9 0zm13 0zm13 0zm19 0zm3 0zm1 0zm1 0zm2 0zm14 0zm36 0zm-165 1zm2 0zm1 0zm1 0zm1 0zm1 0zm1 0zm1 0zm1 0zm1 0zm1 0zm1 0zm1 0zm1 0zm1 0zm1 0zm1 0zm2 0zm1 0zm1 0zm1 0zm1 0zm1 0zm1 0zm1 0zm1 0zm1 0zm2 0zm1 0zm1 0zm1 0zm1 0zm1 0zm1 0zm5 0zm1 0zm4 0zm1 0zm1 0zm6 0zm5 0zm4 0zm4 0zm10 0zm4 0zm4 0zm8 0zm1 0zm9 0zm1 0zm1 0zm1 0zm2 0zm10 0zm5 0zm-128 1zm3 0zm3 0zm1 0zm2 0zm2 0zm1 0zm1 0zm3 0zm1 0zm1 0zm1 0zm1 0zm1 0zm1 0zm1 0zm1 0zm1 0zm1 0zm1 0zm1 0zm1 0zm1 0zm1 0zm1 0zm1 0zm1 0zm1 0zm1 0zm1 0zm1 0zm1 0zm1 0zm2 0zm2 0zm1 0zm1 0zm1 0zm4 0zm4 0zm7 0zm24 0zm9 0zm2 0zm4 0zm5 0zm1 0zm1 0zm2 0zm6 0zm-116 1zm1 0zm1 0zm5 0zm1 0zm1 0zm1 0zm1 0zm1 0zm1 0zm1 0zm1 0zm1 0zm1 0zm1 0zm1 0zm1 0zm1 0zm1 0zm1 0zm1 0zm1 0zm1 0zm1 0zm1 0zm2 0zm1 0zm1 0zm2 0zm1 0zm1 0zm1 0zm3 0zm1 0zm1 0zm1 0zm3 0zm2 0zm3 0zm1 0zm1 0zm1 0zm3 0zm19 0zm3 0zm9 0zm1 0zm8 0zm6 0zm1 0zm5 0zm9 0zm3 0zm1 0zm2 0zm3 0zm6 0zm-133 1zm3 0zm3 0zm4 0zm1 0zm1 0zm1 0zm1 0zm1 0zm1 0zm2 0zm2 0zm2 0zm1 0zm1 0zm1 0zm1 0zm1 0zm1 0zm1 0zm1 0zm1 0zm1 0zm1 0zm2 0zm1 0zm1 0zm1 0zm1 0zm2 0zm1 0zm1 0zm4 0zm1 0zm2 0zm1 0zm1 0zm10 0zm15 0zm10 0zm22 0zm2 0zm1 0zm1 0zm3 0zm17 0zm-133 1zm1 0zm2 0zm1 0zm3 0zm2 0zm5 0zm1 0zm2 0zm1 0zm1 0zm1 0zm1 0zm1 0zm1 0zm1 0zm1 0zm1 0zm1 0zm1 0zm1 0zm1 0zm1 0zm2 0zm1 0zm1 0zm1 0zm1 0zm1 0zm1 0zm2 0zm2 0zm2 0zm1 0zm2 0zm1 0zm2 0zm2 0zm1 0zm2 0zm9 0zm24 0zm14 0zm15 0zm6 0zm8 0zm3 0zm4 0zm-139 1zm1 0zm4 0zm1 0zm1 0zm3 0zm2 0zm1 0zm3 0zm1 0zm1 0zm1 0zm1 0zm3 0zm1 0zm1 0zm1 0zm1 0zm1 0zm3 0zm1 0zm1 0zm1 0zm1 0zm1 0zm1 0zm1 0zm1 0zm2 0zm3 0zm3 0zm4 0zm1 0zm2 0zm5 0zm10 0zm2 0zm40 0zm5 0zm18 0zm-134 1zm4 0zm2 0zm1 0zm2 0zm1 0zm1 0zm1 0zm1 0zm3 0zm1 0zm1 0zm1 0zm1 0zm1 0zm1 0zm2 0zm1 0zm1 0zm1 0zm1 0zm1 0zm1 0zm1 0zm2 0zm1 0zm2 0zm2 0zm1 0zm1 0zm1 0zm1 0zm1 0zm1 0zm4 0zm1 0zm2 0zm1 0zm30 0zm16 0zm7 0zm16 0zm5 0zm4 0zm10 0zm-140 1zm1 0zm1 0zm1 0zm3 0zm1 0zm1 0zm1 0zm1 0zm1 0zm1 0zm1 0zm2 0zm1 0zm1 0zm1 0zm1 0zm1 0zm1 0zm1 0zm1 0zm1 0zm1 0zm1 0zm1 0zm1 0zm2 0zm1 0zm2 0zm1 0zm2 0zm2 0zm2 0zm1 0zm1 0zm2 0zm1 0zm1 0zm2 0zm1 0zm9 0zm8 0zm8 0zm15 0zm23 0zm7 0zm11 0zm-130 1zm2 0zm2 0zm4 0zm1 0zm1 0zm1 0zm1 0zm2 0zm1 0zm1 0zm1 0zm1 0zm1 0zm3 0zm1 0zm3 0zm1 0zm1 0zm1 0zm1 0zm1 0zm1 0zm1 0zm1 0zm1 0zm1 0zm1 0zm2 0zm1 0zm1 0zm2 0zm3 0zm2 0zm2 0zm5 0zm27 0zm5 0zm9 0zm15 0zm2 0zm11 0zm3 0zm-127 1zm1 0zm2 0zm1 0zm1 0zm1 0zm2 0zm3 0zm1 0zm1 0zm4 0zm1 0zm1 0zm1 0zm2 0zm1 0zm1 0zm2 0zm1 0zm1 0zm2 0zm1 0zm3 0zm2 0zm1 0zm1 0zm1 0zm1 0zm2 0zm1 0zm1 0zm4 0zm6 0zm1 0zm6 0zm27 0zm10 0zm11 0zm1 0zm11 0zm2 0zm1 0zm16 0zm-140 1zm4 0zm1 0zm1 0zm1 0zm2 0zm2 0zm3 0zm2 0zm1 0zm1 0zm1 0zm1 0zm1 0zm1 0zm1 0zm1 0zm1 0zm1 0zm2 0zm1 0zm1 0zm1 0zm3 0zm1 0zm2 0zm2 0zm1 0zm1 0zm1 0zm1 0zm5 0zm1 0zm3 0zm11 0zm3 0zm41 0zm1 0zm10 0zm16 0zm-134 1zm4 0zm2 0zm1 0zm1 0zm2 0zm2 0zm2 0zm2 0zm2 0zm1 0zm1 0zm1 0zm1 0zm1 0zm3 0zm1 0zm1 0zm1 0zm1 0zm1 0zm1 0zm1 0zm2 0zm1 0zm1 0zm7 0zm5 0zm6 0zm9 0zm39 0zm16 0zm2 0zm3 0zm-124 1zm2 0zm3 0zm3 0zm2 0zm1 0zm4 0zm1 0zm1 0zm1 0zm1 0zm1 0zm1 0zm1 0zm1 0zm1 0zm1 0zm1 0zm3 0zm1 0zm2 0zm1 0zm1 0zm1 0zm1 0zm2 0zm3 0zm1 0zm6 0zm3 0zm7 0zm35 0zm6 0zm9 0zm3 0zm11 0zm6 0zm-128 1zm1 0zm6 0zm2 0zm1 0zm1 0zm2 0zm2 0zm2 0zm1 0zm1 0zm2 0zm1 0zm1 0zm1 0zm2 0zm1 0zm1 0zm1 0zm1 0zm3 0zm2 0zm3 0zm1 0zm1 0zm2 0zm4 0zm1 0zm3 0zm5 0zm1 0zm1 0zm30 0zm8 0zm7 0zm1 0zm12 0zm3 0zm33 0zm-151 1zm1 0zm1 0zm3 0zm3 0zm1 0zm5 0zm2 0zm1 0zm2 0zm1 0zm1 0zm1 0zm1 0zm2 0zm3 0zm1 0zm1 0zm1 0zm3 0zm1 0zm1 0zm1 0zm2 0zm2 0zm1 0zm1 0zm2 0zm3 0zm5 0zm61 0zm20 0zm3 0zm7 0zm-144 1zm3 0zm5 0zm1 0zm5 0zm1 0zm2 0zm3 0zm1 0zm2 0zm1 0zm3 0zm1 0zm2 0zm2 0zm1 0zm1 0zm2 0zm1 0zm2 0zm1 0zm2 0zm4 0zm9 0zm28 0zm14 0zm20 0zm1 0zm2 0zm-120 1zm2 0zm2 0zm1 0zm5 0zm1 0zm2 0zm1 0zm4 0zm1 0zm7 0zm1 0zm1 0zm2 0zm2 0zm1 0zm1 0zm1 0zm1 0zm1 0zm1 0zm1 0zm2 0zm3 0zm1 0zm51 0zm15 0zm3 0zm14 0zm-128 1zm7 0zm3 0zm3 0zm1 0zm2 0zm1 0zm1 0zm1 0zm1 0zm2 0zm2 0zm1 0zm1 0zm1 0zm2 0zm2 0zm2 0zm3 0zm1 0zm14 0zm1 0zm4 0zm50 0zm12 0zm-118 1zm2 0zm2 0zm1 0zm6 0zm1 0zm2 0zm2 0zm3 0zm1 0zm2 0zm2 0zm1 0zm1 0zm1 0zm1 0zm1 0zm1 0zm2 0zm4 0zm1 0zm4 0zm14 0zm58 0zm1 0zm16 0zm3 0zm3 0zm-136 1zm1 0zm1 0zm1 0zm1 0zm1 0zm1 0zm1 0zm1 0zm1 0zm1 0zm1 0zm1 0zm1 0zm1 0zm1 0zm1 0zm1 0zm1 0zm1 0zm1 0zm1 0zm1 0zm1 0zm1 0zm1 0zm1 0zm1 0zm1 0zm1 0zm1 0zm1 0zm1 0zm1 0zm1 0zm1 0zm1 0zm1 0zm1 0zm1 0zm1 0zm1 0zm1 0zm1 0zm1 0zm1 0zm1 0zm1 0zm1 0zm1 0zm2 0zm1 0zm5 0zm12 0zm14 0zm3 0zm6 0zm11 0zm1 0zm4 0zm4 0zm2 0zm1 0zm6 0zm5 0zm1 0zm3 0zm3 0zm1 0zm4 0zm5 0zm8 0z" stroke="#000"/>
</g>
<rect x="158.1" y="114.4" width="86.70" height="78.70" fill="none" stroke="#1a1a1a" stroke-width="1.3"/>
<path d="M189.2 114.4V193.1M158.1 163.4H244.8" stroke="#1a1a1a" stroke-width="1.3" fill="none"/>
<path d="M158.1 193.1v2.6M158.1 193.1h-2.6M164.6 193.1v1.5M158.1 187.2h-1.5M168.4 193.1v1.5M158.1 183.7h-1.5M171.1 193.1v1.5M158.1 181.3h-1.5M173.3 193.1v1.5M158.1 179.3h-1.5M175.0 193.1v1.5M158.1 177.8h-1.5M176.4 193.1v1.5M158.1 176.5h-1.5M177.7 193.1v1.5M158.1 175.3h-1.5M178.8 193.1v1.5M158.1 174.3h-1.5M179.8 193.1v2.6M158.1 173.4h-2.6M186.3 193.1v1.5M158.1 167.5h-1.5M190.1 193.1v1.5M158.1 164.0h-1.5M192.8 193.1v1.5M158.1 161.6h-1.5M194.9 193.1v1.5M158.1 159.7h-1.5M196.6 193.1v1.5M158.1 158.1h-1.5M198.1 193.1v1.5M158.1 156.8h-1.5M199.3 193.1v1.5M158.1 155.7h-1.5M200.5 193.1v1.5M158.1 154.7h-1.5M201.4 193.1v2.6M158.1 153.8h-2.6M208.0 193.1v1.5M158.1 147.8h-1.5M211.8 193.1v1.5M158.1 144.4h-1.5M214.5 193.1v1.5M158.1 141.9h-1.5M216.6 193.1v1.5M158.1 140.0h-1.5M218.3 193.1v1.5M158.1 138.4h-1.5M219.8 193.1v1.5M158.1 137.1h-1.5M221.0 193.1v1.5M158.1 136.0h-1.5M222.1 193.1v1.5M158.1 135.0h-1.5M223.1 193.1v2.6M158.1 134.1h-2.6M229.6 193.1v1.5M158.1 128.2h-1.5M233.5 193.1v1.5M158.1 124.7h-1.5M236.2 193.1v1.5M158.1 122.2h-1.5M238.3 193.1v1.5M158.1 120.3h-1.5M240.0 193.1v1.5M158.1 118.8h-1.5M241.4 193.1v1.5M158.1 117.4h-1.5M242.7 193.1v1.5M158.1 116.3h-1.5M243.8 193.1v1.5M158.1 115.3h-1.5M244.8 193.1v2.6M158.1 114.4h-2.6" stroke="#111" stroke-width="0.7" fill="none"/>
<text transform="translate(158.2 202.3) scale(.86 1)" class="t" text-anchor="middle">10<tspan dy="-2.6" class="s">0</tspan></text>
<text transform="translate(154.5 193.6) rotate(-90) scale(.86 1)" class="t" text-anchor="middle">10<tspan dy="-2.6" class="s">0</tspan></text>
<text transform="translate(179.9 202.3) scale(.86 1)" class="t" text-anchor="middle">10<tspan dy="-2.6" class="s">1</tspan></text>
<text transform="translate(154.5 173.9) rotate(-90) scale(.86 1)" class="t" text-anchor="middle">10<tspan dy="-2.6" class="s">1</tspan></text>
<text transform="translate(201.5 202.3) scale(.86 1)" class="t" text-anchor="middle">10<tspan dy="-2.6" class="s">2</tspan></text>
<text transform="translate(154.5 154.2) rotate(-90) scale(.86 1)" class="t" text-anchor="middle">10<tspan dy="-2.6" class="s">2</tspan></text>
<text transform="translate(223.2 202.3) scale(.86 1)" class="t" text-anchor="middle">10<tspan dy="-2.6" class="s">3</tspan></text>
<text transform="translate(154.5 134.6) rotate(-90) scale(.86 1)" class="t" text-anchor="middle">10<tspan dy="-2.6" class="s">3</tspan></text>
<text transform="translate(244.9 202.3) scale(.86 1)" class="t" text-anchor="middle">10<tspan dy="-2.6" class="s">4</tspan></text>
<text transform="translate(154.5 114.9) rotate(-90) scale(.86 1)" class="t" text-anchor="middle">10<tspan dy="-2.6" class="s">4</tspan></text>
<text transform="translate(147.4 164.5) rotate(-90)" class="yl" textLength="18.9" lengthAdjust="spacingAndGlyphs">CD19 PE</text>
<text x="198.2" y="211.9" class="xl" text-anchor="middle">GFP</text>
<text x="231.7" y="124.5" class="pc" text-anchor="middle">23%</text>
<clipPath id="cB3"><rect x="26.6" y="220.8" width="88.80" height="82.30"/></clipPath>
<g clip-path="url(#cB3)">
<polygon points="43.2,284.2 44.7,284.4 46.0,284.9 47.2,285.8 48.1,287.0 48.6,288.3 48.8,289.8 48.8,314.7 48.6,316.2 48.1,317.5 47.2,318.7 46.0,319.6 44.7,320.1 43.2,320.3 17.8,320.3 16.3,320.1 15.0,319.6 13.8,318.7 12.9,317.5 12.4,316.2 12.2,314.7 12.2,289.8 12.4,288.3 12.9,287.0 13.8,285.8 15.0,284.9 16.3,284.4 17.8,284.2" fill="#000" filter="url(#b)"/>
<path class="d" transform="scale(.5)" d="M80 574zm-9 9zm11 1zm-20 10zm3 0z" stroke="#fff" opacity=".75"/>
<path class="d" transform="scale(.5)" d="M133 455zm29 3zm-20 6zm4 6zm10 5zm-4 1zm-9 1zm-9 1zm-6 2zm16 1zm-9 4zm2 1zm17 0zm0 4zm8 0zm-59 4zm58 0zm-39 2zm-30 1zm52 1zm3 0zm-71 2zm6 1zm59 0zm-37 1zm12 0zm41 1zm-19 1zm-31 1zm-28 1zm27 0zm-31 1zm12 0zm-8 1zm57 0zm1 0zm1 1zm24 1zm-85 1zm4 0zm27 0zm36 0zm-61 1zm20 0zm-40 1zm8 0zm87 0zm-76 1zm24 0zm-43 1zm9 0zm12 0zm15 0zm25 0zm-30 1zm8 0zm11 0zm26 0zm-65 1zm15 0zm14 0zm13 0zm8 0zm-48 1zm58 0zm28 0zm-86 1zm7 0zm4 0zm28 0zm26 0zm-68 1zm10 0zm5 0zm46 0zm-39 1zm3 0zm24 0zm8 0zm2 0zm5 0zm-71 1zm14 0zm37 0zm11 0zm2 0zm5 0zm-81 1zm21 0zm17 0zm5 0zm7 0zm16 0zm30 0zm-69 1zm9 0zm7 0zm12 0zm-30 1zm1 0zm10 0zm-12 1zm55 0zm13 0zm-68 1zm60 0zm-29 1zm24 0zm-49 1zm59 0zm-55 1zm4 0zm3 0zm3 0zm24 0zm18 0zm-56 1zm50 0zm2 0zm4 0zm-61 1zm46 0zm6 0zm1 0zm-18 1zm2 0zm27 1zm-81 1zm72 0zm10 0zm-25 1zm5 1zm5 0zm-48 1zm14 0zm4 0zm8 0zm3 0zm3 0zm4 0zm4 0zm-41 1zm5 0zm42 0zm-40 1zm41 0zm-55 1zm17 0zm10 0zm7 0zm4 0zm5 0zm4 0zm-51 1zm6 0zm13 0zm2 0zm3 0zm14 0zm12 0zm6 0zm14 0zm-68 1zm12 0zm37 0zm21 0zm-87 1zm9 0zm17 0zm13 0zm1 0zm5 0zm2 0zm2 0zm1 0zm1 0zm1 0zm2 0zm5 0zm4 0zm5 0zm1 0zm10 0zm-72 1zm10 0zm6 0zm10 0zm9 0zm4 0zm7 0zm2 0zm4 0zm1 0zm4 0zm-64 1zm9 0zm1 0zm1 0zm7 0zm11 0zm3 0zm2 0zm7 0zm1 0zm4 0zm1 0zm4 0zm1 0zm1 0zm2 0zm1 0zm3 0zm3 0zm2 0zm30 0zm-94 1zm22 0zm1 0zm6 0zm1 0zm2 0zm1 0zm2 0zm3 0zm1 0zm4 0zm1 0zm3 0zm2 0zm4 0zm1 0zm1 0zm1 0zm2 0zm1 0zm1 0zm1 0zm15 0zm2 0zm35 0zm-100 1zm3 0zm1 0zm1 0zm1 0zm5 0zm2 0zm3 0zm1 0zm5 0zm3 0zm4 0zm1 0zm2 0zm1 0zm1 0zm2 0zm3 0zm2 0zm2 0zm1 0zm1 0zm1 0zm3 0zm-62 1zm2 0zm7 0zm6 0zm3 0zm1 0zm1 0zm1 0zm1 0zm3 0zm4 0zm4 0zm2 0zm2 0zm2 0zm1 0zm1 0zm1 0zm8 0zm2 0zm1 0zm2 0zm1 0zm1 0zm1 0zm1 0zm1 0zm2 0zm2 0zm1 0zm1 0zm-64 1zm1 0zm2 0zm8 0zm6 0zm2 0zm2 0zm8 0zm1 0zm4 0zm3 0zm9 0zm1 0zm3 0zm1 0zm2 0zm1 0zm1 0zm1 0zm1 0zm1 0zm7 0zm1 0zm-68 1zm1 0zm3 0zm1 0zm4 0zm1 0zm7 0zm5 0zm1 0zm3 0zm4 0zm2 0zm2 0zm11 0zm1 0zm2 0zm1 0zm2 0zm1 0zm1 0zm2 0zm1 0zm2 0zm1 0zm10 0zm-67 1zm5 0zm3 0zm3 0zm4 0zm2 0zm3 0zm1 0zm2 0zm1 0zm1 0zm1 0zm1 0zm1 0zm4 0zm3 0zm1 0zm1 0zm1 0zm2 0zm1 0zm2 0zm1 0zm1 0zm1 0zm1 0zm1 0zm3 0zm1 0zm1 0zm1 0zm1 0zm1 0zm4 0zm-62 1zm2 0zm1 0zm9 0zm8 0zm4 0zm3 0zm1 0zm4 0zm2 0zm1 0zm1 0zm4 0zm1 0zm3 0zm1 0zm1 0zm1 0zm1 0zm1 0zm2 0zm1 0zm1 0zm1 0zm1 0zm1 0zm12 0zm-68 1zm4 0zm6 0zm2 0zm1 0zm6 0zm1 0zm1 0zm2 0zm8 0zm1 0zm4 0zm1 0zm4 0zm2 0zm1 0zm3 0zm1 0zm1 0zm1 0zm2 0zm1 0zm2 0zm1 0zm56 0zm21 0zm-133 1zm3 0zm3 0zm5 0zm1 0zm10 0zm4 0zm2 0zm1 0zm5 0zm6 0zm1 0zm4 0zm2 0zm2 0zm1 0zm1 0zm1 0zm1 0zm3 0zm1 0zm1 0zm4 0zm1 0zm4 0zm-67 1zm10 0zm2 0zm1 0zm3 0zm1 0zm2 0zm1 0zm2 0zm3 0zm4 0zm1 0zm1 0zm2 0zm1 0zm7 0zm1 0zm1 0zm1 0zm2 0zm1 0zm2 0zm1 0zm1 0zm3 0zm1 0zm1 0zm2 0zm1 0zm9 0zm-68 1zm5 0zm2 0zm4 0zm1 0zm1 0zm2 0zm4 0zm1 0zm2 0zm11 0zm4 0zm1 0zm2 0zm1 0zm2 0zm2 0zm1 0zm1 0zm3 0zm1 0zm3 0zm1 0zm3 0zm-58 1zm2 0zm3 0zm1 0zm5 0zm3 0zm2 0zm6 0zm7 0zm1 0zm4 0zm1 0zm3 0zm1 0zm1 0zm1 0zm2 0zm1 0zm2 0zm1 0zm1 0zm1 0zm1 0zm3 0zm2 0zm1 0zm1 0zm3 0zm2 0zm3 0zm-65 1zm2 0zm1 0zm11 0zm1 0zm3 0zm5 0zm2 0zm1 0zm2 0zm4 0zm5 0zm2 0zm4 0zm3 0zm3 0zm2 0zm1 0zm5 0zm3 0zm36 0zm-96 1zm1 0zm4 0zm3 0zm3 0zm3 0zm1 0zm4 0zm3 0zm4 0zm4 0zm1 0zm1 0zm1 0zm4 0zm1 0zm4 0zm2 0zm1 0zm3 0zm3 0zm1 0zm1 0zm1 0zm23 0zm8 0zm2 0zm-87 1zm3 0zm2 0zm1 0zm4 0zm1 0zm2 0zm2 0zm3 0zm4 0zm4 0zm2 0zm1 0zm5 0zm1 0zm1 0zm1 0zm1 0zm1 0zm5 0zm3 0zm3 0zm1 0zm3 0zm47 0zm-101 1zm8 0zm2 0zm1 0zm1 0zm2 0zm1 0zm1 0zm1 0zm2 0zm6 0zm1 0zm2 0zm2 0zm1 0zm1 0zm2 0zm2 0zm1 0zm1 0zm1 0zm4 0zm1 0zm8 0zm50 0zm11 0zm-113 1zm3 0zm1 0zm2 0zm1 0zm1 0zm1 0zm1 0zm1 0zm1 0zm3 0zm1 0zm1 0zm8 0zm8 0zm4 0zm3 0zm3 0zm1 0zm4 0zm1 0zm1 0zm2 0zm15 0zm-67 1zm4 0zm1 0zm1 0zm1 0zm1 0zm1 0zm2 0zm1 0zm2 0zm2 0zm1 0zm4 0zm1 0zm1 0zm2 0zm4 0zm3 0zm2 0zm1 0zm2 0zm1 0zm1 0zm1 0zm3 0zm1 0zm1 0zm9 0zm19 0zm7 0zm16 0zm-96 1zm1 0zm1 0zm1 0zm5 0zm1 0zm1 0zm3 0zm1 0zm1 0zm1 0zm1 0zm1 0zm1 0zm3 0zm2 0zm1 0zm1 0zm2 0zm2 0zm1 0zm2 0zm1 0zm1 0zm3 0zm3 0zm1 0zm2 0zm6 0zm43 0zm-93 1zm1 0zm2 0zm1 0zm1 0zm5 0zm1 0zm1 0zm1 0zm4 0zm1 0zm2 0zm1 0zm2 0zm3 0zm2 0zm1 0zm2 0zm4 0zm1 0zm5 0zm2 0zm2 0zm6 0zm2 0zm20 0zm43 0zm-116 1zm1 0zm2 0zm1 0zm1 0zm2 0zm1 0zm1 0zm1 0zm1 0zm1 0zm1 0zm2 0zm1 0zm1 0zm1 0zm1 0zm4 0zm2 0zm1 0zm1 0zm2 0zm1 0zm1 0zm4 0zm3 0zm1 0zm1 0zm2 0zm2 0zm7 0zm5 0zm40 0zm16 0zm22 0zm-134 1zm1 0zm1 0zm1 0zm1 0zm1 0zm1 0zm1 0zm1 0zm2 0zm1 0zm1 0zm1 0zm3 0zm1 0zm5 0zm1 0zm1 0zm2 0zm2 0zm1 0zm1 0zm1 0zm1 0zm2 0zm2 0zm3 0zm7 0zm3 0zm2 0zm29 0zm3 0zm6 0zm17 0zm4 0zm-110 1zm1 0zm1 0zm2 0zm1 0zm1 0zm1 0zm3 0zm1 0zm2 0zm2 0zm1 0zm2 0zm1 0zm2 0zm1 0zm1 0zm4 0zm2 0zm1 0zm1 0zm1 0zm1 0zm1 0zm3 0zm1 0zm2 0zm2 0zm1 0zm2 0zm1 0zm54 0zm21 0zm41 0zm-162 1zm1 0zm1 0zm2 0zm1 0zm1 0zm1 0zm1 0zm1 0zm1 0zm1 0zm1 0zm1 0zm1 0zm2 0zm1 0zm1 0zm1 0zm1 0zm2 0zm2 0zm1 0zm4 0zm1 0zm2 0zm3 0zm1 0zm1 0zm1 0zm1 0zm1 0zm1 0zm1 0zm1 0zm2 0zm36 0zm29 0zm-110 1zm9 0zm14 0zm1 0zm7 0zm4 0zm1 0zm2 0zm1 0zm1 0zm1 0zm1 0zm4 0zm34 0zm5 0zm10 0zm23 0zm9 0zm-88 1zm1 0zm1 0zm1 0zm1 0zm1 0zm1 0zm4 0zm8 0zm15 0zm31 0zm6 0zm20 0zm-90 1zm1 0zm1 0zm2 0zm2 0zm3 0zm1 0zm22 0zm43 0zm-74 1zm4 0zm2 0zm4 0zm7 0zm19 0zm7 0zm6 0zm7 0zm17 0zm25 0zm-98 1zm1 0zm1 0zm1 0zm1 0zm3 0zm26 0zm8 0zm25 0zm4 0zm8 0zm-77 1zm1 0zm1 0zm1 0zm1 0zm1 0zm7 0zm19 0zm19 0zm15 0zm3 0zm6 0zm4 0zm-78 1zm4 0zm1 0zm6 0zm4 0zm57 0zm1 0zm21 0zm21 0zm-114 1zm2 0zm2 0zm1 0zm3 0zm1 0zm11 0zm38 0zm2 0zm3 0zm11 0zm11 0zm-85 1zm1 0zm1 0zm26 0zm12 0zm9 0zm3 0zm23 0zm8 0zm4 0zm-88 1zm2 0zm1 0zm2 0zm2 0zm1 0zm2 0zm18 0zm13 0zm17 0zm18 0zm2 0zm3 0zm18 0zm-98 1zm2 0zm3 0zm3 0zm40 0zm8 0zm13 0zm2 0zm16 0zm-86 1zm1 0zm3 0zm3 0zm3 0zm14 0zm23 0zm5 0zm12 0zm8 0zm24 0zm28 0zm9 0zm-134 1zm1 0zm1 0zm2 0zm2 0zm1 0zm34 0zm5 0zm6 0zm16 0zm17 0zm11 0zm7 0zm4 0zm-107 1zm1 0zm1 0zm1 0zm1 0zm3 0zm8 0zm17 0zm2 0zm3 0zm23 0zm5 0zm4 0zm2 0zm16 0zm12 0zm-98 1zm2 0zm1 0zm4 0zm6 0zm13 0zm10 0zm7 0zm19 0zm11 0zm9 0zm11 0zm-94 1zm1 0zm1 0zm2 0zm3 0zm3 0zm1 0zm7 0zm42 0zm8 0zm5 0zm2 0zm13 0zm-87 1zm1 0zm3 0zm2 0zm3 0zm14 0zm27 0zm7 0zm4 0zm11 0zm17 0zm17 0zm-107 1zm1 0zm1 0zm1 0zm1 0zm3 0zm2 0zm16 0zm23 0zm2 0zm32 0zm2 0zm8 0zm4 0zm-97 1zm1 0zm1 0zm1 0zm2 0zm2 0zm8 0zm22 0zm5 0zm38 0zm25 0zm19 0zm-123 1zm1 0zm1 0zm1 0zm1 0zm1 0zm7 0zm5 0zm37 0zm10 0zm27 0zm3 0zm8 0zm-101 1zm1 0zm1 0zm2 0zm2 0zm43 0zm17 0zm10 0zm32 0zm8 0zm-117 1zm2 0zm1 0zm2 0zm1 0zm2 0zm1 0zm9 0zm1 0zm11 0zm5 0zm3 0zm43 0zm27 0zm8 0zm-116 1zm5 0zm2 0zm1 0zm41 0zm39 0zm18 0zm-106 1zm1 0zm2 0zm2 0zm2 0zm1 0zm33 0zm13 0zm69 0zm-123 1zm1 0zm1 0zm1 0zm1 0zm1 0zm2 0zm2 0zm41 0zm42 0zm-93 1zm1 0zm1 0zm1 0zm2 0zm4 0zm1 0zm21 0zm49 0zm10 0zm21 0zm-110 1zm1 0zm1 0zm1 0zm66 0zm6 0zm8 0zm6 0zm17 0zm4 0zm15 0zm-125 1zm2 0zm1 0zm1 0zm1 0zm48 0zm12 0zm28 0zm-92 1zm1 0zm1 0zm3 0zm4 0zm1 0zm32 0zm72 0zm11 0zm-127 1zm1 0zm3 0zm1 0zm1 0zm3 0zm3 0zm1 0zm24 0zm17 0zm16 0zm12 0zm1 0zm3 0zm8 0zm-92 1zm2 0zm2 0zm1 0zm30 0zm18 0zm14 0zm6 0zm-73 1zm1 0zm1 0zm2 0zm10 0zm1 0zm-17 1zm1 0zm1 0zm1 0zm5 0zm2 0zm3 0zm1 0zm1 0zm41 0zm-55 1zm1 0zm1 0zm1 0zm1 0zm1 0zm2 0zm2 0zm50 0zm-60 1zm1 0zm1 0zm1 0zm1 0zm1 0zm1 0zm1 0zm1 0zm1 0zm1 0zm1 0zm1 0zm2 0zm7 0zm6 0zm3 0zm5 0zm15 0zm4 0zm2 0zm3 0zm1 0zm3 0zm6 0zm5 0zm15 0zm3 0zm3 0zm1 0zm4 0zm2 0zm5 0zm14 0zm3 0z" stroke="#000"/>
</g>
<rect x="26.6" y="220.8" width="88.80" height="82.30" fill="none" stroke="#1a1a1a" stroke-width="1.3"/>
<path d="M59.6 220.8V303.1M26.6 271H115.4" stroke="#1a1a1a" stroke-width="1.3" fill="none"/>
<path d="M26.6 303.1v2.6M26.6 303.1h-2.6M33.3 303.1v1.5M26.6 296.9h-1.5M37.2 303.1v1.5M26.6 293.3h-1.5M40.0 303.1v1.5M26.6 290.7h-1.5M42.1 303.1v1.5M26.6 288.7h-1.5M43.9 303.1v1.5M26.6 287.1h-1.5M45.4 303.1v1.5M26.6 285.7h-1.5M46.6 303.1v1.5M26.6 284.5h-1.5M47.8 303.1v1.5M26.6 283.5h-1.5M48.8 303.1v2.6M26.6 282.5h-2.6M55.5 303.1v1.5M26.6 276.3h-1.5M59.4 303.1v1.5M26.6 272.7h-1.5M62.2 303.1v1.5M26.6 270.1h-1.5M64.3 303.1v1.5M26.6 268.1h-1.5M66.1 303.1v1.5M26.6 266.5h-1.5M67.6 303.1v1.5M26.6 265.1h-1.5M68.8 303.1v1.5M26.6 263.9h-1.5M70.0 303.1v1.5M26.6 262.9h-1.5M71.0 303.1v2.6M26.6 262.0h-2.6M77.7 303.1v1.5M26.6 255.8h-1.5M81.6 303.1v1.5M26.6 252.1h-1.5M84.4 303.1v1.5M26.6 249.6h-1.5M86.5 303.1v1.5M26.6 247.6h-1.5M88.3 303.1v1.5M26.6 245.9h-1.5M89.8 303.1v1.5M26.6 244.6h-1.5M91.0 303.1v1.5M26.6 243.4h-1.5M92.2 303.1v1.5M26.6 242.3h-1.5M93.2 303.1v2.6M26.6 241.4h-2.6M99.9 303.1v1.5M26.6 235.2h-1.5M103.8 303.1v1.5M26.6 231.6h-1.5M106.6 303.1v1.5M26.6 229.0h-1.5M108.7 303.1v1.5M26.6 227.0h-1.5M110.5 303.1v1.5M26.6 225.4h-1.5M112.0 303.1v1.5M26.6 224.0h-1.5M113.2 303.1v1.5M26.6 222.8h-1.5M114.4 303.1v1.5M26.6 221.7h-1.5M115.4 303.1v2.6M26.6 220.8h-2.6" stroke="#111" stroke-width="0.7" fill="none"/>
<text transform="translate(26.7 312.3) scale(.86 1)" class="t" text-anchor="middle">10<tspan dy="-2.6" class="s">0</tspan></text>
<text transform="translate(23.0 303.6) rotate(-90) scale(.86 1)" class="t" text-anchor="middle">10<tspan dy="-2.6" class="s">0</tspan></text>
<text transform="translate(48.9 312.3) scale(.86 1)" class="t" text-anchor="middle">10<tspan dy="-2.6" class="s">1</tspan></text>
<text transform="translate(23.0 283.0) rotate(-90) scale(.86 1)" class="t" text-anchor="middle">10<tspan dy="-2.6" class="s">1</tspan></text>
<text transform="translate(71.1 312.3) scale(.86 1)" class="t" text-anchor="middle">10<tspan dy="-2.6" class="s">2</tspan></text>
<text transform="translate(23.0 262.5) rotate(-90) scale(.86 1)" class="t" text-anchor="middle">10<tspan dy="-2.6" class="s">2</tspan></text>
<text transform="translate(93.3 312.3) scale(.86 1)" class="t" text-anchor="middle">10<tspan dy="-2.6" class="s">3</tspan></text>
<text transform="translate(23.0 241.9) rotate(-90) scale(.86 1)" class="t" text-anchor="middle">10<tspan dy="-2.6" class="s">3</tspan></text>
<text transform="translate(115.5 312.3) scale(.86 1)" class="t" text-anchor="middle">10<tspan dy="-2.6" class="s">4</tspan></text>
<text transform="translate(23.0 221.3) rotate(-90) scale(.86 1)" class="t" text-anchor="middle">10<tspan dy="-2.6" class="s">4</tspan></text>
<text transform="translate(15.9 272.5) rotate(-90)" class="yl" textLength="19.4" lengthAdjust="spacingAndGlyphs">CD34 PE</text>
<text x="67.6" y="321.9" class="xl" text-anchor="middle">GFP</text>
<text x="103.2" y="232.5" class="pc" text-anchor="middle">31%</text>
<clipPath id="cB4"><rect x="158.5" y="217.1" width="87.00" height="81.70"/></clipPath>
<g clip-path="url(#cB4)">
<polygon points="172.1,279.5 174.3,279.8 176.3,280.6 178.1,281.9 179.4,283.7 180.2,285.7 180.5,287.9 180.5,304.4 180.2,306.6 179.4,308.6 178.1,310.4 176.3,311.7 174.3,312.5 172.1,312.8 153.7,312.8 151.5,312.5 149.5,311.7 147.7,310.4 146.4,308.6 145.6,306.6 145.3,304.4 145.3,287.9 145.6,285.7 146.4,283.7 147.7,281.9 149.5,280.6 151.5,279.8 153.7,279.5" fill="#000" filter="url(#b)"/>
<path class="d" transform="scale(.5)" d="M343 571zm-12 17zm16 0zm11 4zm-31 1z" stroke="#fff" opacity=".75"/>
<path class="d" transform="scale(.5)" d="M370 462zm56 1zm-64 1zm-19 1zm8 1zm4 1zm14 0zm2 0zm6 0zm-16 1zm15 0zm-19 1zm-14 1zm3 0zm8 0zm5 0zm5 0zm57 0zm-69 1zm14 0zm3 0zm41 0zm-60 1zm6 0zm16 0zm23 0zm20 0zm-72 1zm9 0zm7 0zm15 0zm7 0zm3 0zm-38 1zm11 0zm8 0zm-23 1zm11 0zm4 0zm4 0zm10 0zm-21 1zm7 0zm1 0zm2 0zm3 0zm4 0zm5 0zm4 0zm55 0zm3 0zm-87 1zm8 0zm1 0zm2 0zm8 0zm-16 1zm6 0zm2 0zm2 0zm2 0zm1 0zm3 0zm2 0zm37 0zm-51 1zm1 0zm3 0zm1 0zm3 0zm2 0zm9 0zm4 0zm-16 1zm2 0zm2 0zm-14 1zm1 0zm7 0zm6 0zm2 0zm3 0zm2 0zm48 0zm38 0zm-109 1zm3 0zm5 0zm2 0zm-16 1zm6 0zm2 0zm1 0zm3 0zm1 0zm2 0zm4 0zm-7 1zm1 0zm5 0zm3 0zm61 0zm-86 1zm5 0zm1 0zm10 0zm3 0zm-13 1zm9 0zm1 0zm2 0zm2 0zm-18 1zm21 0zm2 0zm5 0zm6 0zm44 0zm-54 1zm-21 1zm4 1zm1 0zm3 0zm18 0zm-23 1zm15 0zm69 1zm29 0zm-128 1zm32 0zm-15 1zm-4 1zm8 0zm-1 1zm3 0zm62 0zm5 0zm11 0zm-98 1zm19 0zm9 0zm-13 1zm-4 1zm3 0zm5 1zm15 1zm6 0zm82 0zm-106 1zm67 0zm-66 1zm74 0zm-81 1zm11 0zm6 0zm-15 1zm102 0zm-100 2zm7 0zm6 1zm-22 1zm9 1zm1 0zm11 0zm2 0zm-9 1zm1 1zm-6 1zm2 1zm-16 1zm34 1zm-18 1zm19 1zm-22 1zm10 0zm3 0zm-8 1zm-3 1zm65 0zm-86 2zm3 0zm11 0zm3 1zm2 0zm6 1zm-8 1zm43 0zm-44 1zm7 0zm-5 1zm-9 1zm22 0zm40 0zm-23 2zm17 0zm7 0zm-59 1zm41 0zm-21 1zm8 0zm20 0zm3 0zm2 0zm-16 1zm-18 1zm10 0zm7 0zm3 0zm12 0zm-69 1zm7 0zm5 0zm23 0zm4 0zm3 0zm1 0zm5 0zm3 0zm3 0zm2 0zm-33 1zm12 0zm2 0zm2 0zm6 0zm1 0zm1 0zm2 0zm1 0zm9 0zm8 0zm-61 1zm33 0zm2 0zm3 0zm10 0zm-36 1zm2 0zm23 0zm3 0zm1 0zm1 0zm3 0zm3 0zm-41 1zm3 0zm6 0zm2 0zm4 0zm11 0zm2 0zm4 0zm2 0zm1 0zm2 0zm1 0zm-34 1zm5 0zm10 0zm9 0zm2 0zm1 0zm1 0zm3 0zm2 0zm1 0zm1 0zm1 0zm3 0zm-47 1zm23 0zm3 0zm3 0zm1 0zm2 0zm3 0zm3 0zm1 0zm4 0zm3 0zm3 0zm-37 1zm2 0zm1 0zm7 0zm2 0zm6 0zm1 0zm1 0zm4 0zm1 0zm1 0zm1 0zm2 0zm-37 1zm5 0zm3 0zm6 0zm1 0zm8 0zm1 0zm3 0zm1 0zm1 0zm7 0zm1 0zm1 0zm4 0zm4 0zm-45 1zm4 0zm8 0zm8 0zm1 0zm2 0zm1 0zm1 0zm1 0zm2 0zm1 0zm2 0zm1 0zm2 0zm-45 1zm1 0zm17 0zm2 0zm1 0zm8 0zm2 0zm1 0zm1 0zm1 0zm1 0zm2 0zm1 0zm1 0zm2 0zm1 0zm1 0zm2 0zm1 0zm4 0zm-53 1zm1 0zm2 0zm3 0zm8 0zm4 0zm2 0zm2 0zm8 0zm2 0zm2 0zm4 0zm4 0zm1 0zm1 0zm1 0zm2 0zm1 0zm1 0zm3 0zm-50 1zm6 0zm3 0zm2 0zm3 0zm9 0zm8 0zm2 0zm1 0zm4 0zm2 0zm1 0zm1 0zm2 0zm1 0zm4 0zm6 0zm-53 1zm10 0zm5 0zm2 0zm4 0zm2 0zm5 0zm2 0zm3 0zm2 0zm1 0zm1 0zm1 0zm3 0zm1 0zm6 0zm-58 1zm11 0zm5 0zm8 0zm2 0zm6 0zm2 0zm10 0zm2 0zm2 0zm1 0zm13 0zm-62 1zm1 0zm2 0zm10 0zm12 0zm1 0zm3 0zm3 0zm6 0zm1 0zm1 0zm4 0zm2 0zm1 0zm1 0zm1 0zm2 0zm1 0zm2 0zm-54 1zm6 0zm2 0zm2 0zm1 0zm1 0zm5 0zm6 0zm9 0zm3 0zm6 0zm2 0zm1 0zm2 0zm2 0zm7 0zm1 0zm-56 1zm1 0zm2 0zm5 0zm2 0zm5 0zm3 0zm2 0zm1 0zm6 0zm4 0zm12 0zm4 0zm1 0zm1 0zm1 0zm4 0zm24 0zm-78 1zm1 0zm1 0zm1 0zm4 0zm3 0zm4 0zm1 0zm3 0zm1 0zm1 0zm1 0zm1 0zm4 0zm1 0zm2 0zm1 0zm1 0zm6 0zm1 0zm1 0zm3 0zm3 0zm2 0zm4 0zm-51 1zm3 0zm1 0zm1 0zm3 0zm1 0zm1 0zm5 0zm1 0zm2 0zm4 0zm1 0zm1 0zm3 0zm1 0zm1 0zm1 0zm4 0zm3 0zm2 0zm1 0zm1 0zm8 0zm1 0zm56 0zm-106 1zm1 0zm1 0zm2 0zm1 0zm1 0zm1 0zm1 0zm1 0zm2 0zm2 0zm4 0zm1 0zm1 0zm2 0zm3 0zm2 0zm2 0zm4 0zm2 0zm8 0zm12 0zm-54 1zm5 0zm1 0zm1 0zm1 0zm2 0zm3 0zm1 0zm1 0zm1 0zm1 0zm2 0zm3 0zm1 0zm9 0zm1 0zm6 0zm1 0zm1 0zm5 0zm-46 1zm1 0zm1 0zm1 0zm1 0zm1 0zm1 0zm1 0zm1 0zm3 0zm1 0zm2 0zm2 0zm2 0zm1 0zm2 0zm2 0zm2 0zm2 0zm1 0zm2 0zm1 0zm2 0zm6 0zm2 0zm3 0zm9 0zm1 0zm35 0zm-89 1zm3 0zm2 0zm2 0zm2 0zm1 0zm3 0zm1 0zm1 0zm1 0zm1 0zm1 0zm4 0zm1 0zm1 0zm1 0zm2 0zm3 0zm3 0zm1 0zm2 0zm1 0zm6 0zm2 0zm4 0zm36 0zm-85 1zm1 0zm1 0zm1 0zm1 0zm1 0zm1 0zm1 0zm1 0zm1 0zm2 0zm3 0zm3 0zm1 0zm1 0zm1 0zm1 0zm1 0zm2 0zm1 0zm1 0zm1 0zm2 0zm1 0zm1 0zm2 0zm1 0zm3 0zm1 0zm1 0zm2 0zm2 0zm2 0zm3 0zm-48 1zm2 0zm3 0zm2 0zm1 0zm1 0zm1 0zm1 0zm1 0zm1 0zm1 0zm1 0zm5 0zm1 0zm2 0zm1 0zm1 0zm1 0zm1 0zm2 0zm3 0zm2 0zm1 0zm1 0zm1 0zm1 0zm1 0zm1 0zm1 0zm1 0zm1 0zm10 0zm22 0zm-44 1zm1 0zm1 0zm1 0zm1 0zm1 0zm1 0zm1 0zm1 0zm2 0zm2 0zm8 0zm-17 1zm1 0zm1 0zm1 0zm1 0zm2 0zm1 0zm1 0zm1 0zm1 0zm1 0zm1 0zm4 0zm7 0zm21 0zm15 0zm-58 1zm3 0zm1 0zm1 0zm1 0zm1 0zm1 0zm2 0zm5 0zm13 0zm19 0zm11 0zm-57 1zm2 0zm2 0zm1 0zm4 0zm4 0zm-12 1zm1 0zm3 0zm1 0zm1 0zm1 0zm3 0zm3 0zm1 0zm30 0zm-42 1zm1 0zm1 0zm2 0zm2 0zm5 0zm1 0zm12 0zm24 0zm-48 1zm1 0zm2 0zm1 0zm1 0zm1 0zm8 0zm3 0zm13 0zm35 0zm-65 1zm1 0zm1 0zm1 0zm1 0zm5 0zm1 0zm1 0zm14 0zm14 0zm4 0zm-42 1zm1 0zm2 0zm1 0zm1 0zm1 0zm3 0zm4 0zm-13 1zm1 0zm1 0zm1 0zm3 0zm4 0zm12 0zm7 0zm2 0zm13 0zm3 0zm-46 1zm1 0zm1 0zm1 0zm1 0zm20 0zm20 0zm19 0zm-63 1zm1 0zm2 0zm2 0zm2 0zm19 0zm13 0zm21 0zm-60 1zm1 0zm1 0zm1 0zm2 0zm4 0zm31 0zm2 0zm5 0zm1 0zm4 0zm21 0zm-73 1zm1 0zm2 0zm19 0zm21 0zm21 0zm3 0zm-64 1zm1 0zm1 0zm1 0zm1 0zm1 0zm1 0zm12 0zm8 0zm2 0zm2 0zm12 0zm9 0zm22 0zm-76 1zm1 0zm3 0zm1 0zm4 0zm39 0zm16 0zm27 0zm-91 1zm1 0zm1 0zm1 0zm1 0zm1 0zm3 0zm29 0zm4 0zm2 0zm-43 1zm2 0zm1 0zm4 0zm19 0zm25 0zm1 0zm15 0zm-67 1zm1 0zm1 0zm1 0zm1 0zm3 0zm-6 1zm2 0zm1 0zm1 0zm1 0zm8 0zm1 0zm36 0zm-50 1zm2 0zm1 0zm1 0zm25 0zm18 0zm1 0zm10 0zm-58 1zm2 0zm2 0zm5 0zm1 0zm13 0zm4 0zm25 0zm4 0zm19 0zm-74 1zm1 0zm3 0zm1 0zm42 0zm10 0zm5 0zm-62 1zm2 0zm1 0zm1 0zm1 0zm2 0zm1 0zm2 0zm36 0zm1 0zm11 0zm4 0zm-63 1zm1 0zm2 0zm2 0zm1 0zm1 0zm6 0zm16 0zm11 0zm-39 1zm2 0zm1 0zm2 0zm1 0zm35 0zm7 0zm6 0zm-56 1zm1 0zm1 0zm1 0zm2 0zm3 0zm53 0zm-61 1zm1 0zm2 0zm1 0zm4 0zm-7 1zm1 0zm1 0zm2 0zm23 0zm14 0zm-42 1zm1 0zm1 0zm1 0zm3 0zm4 0zm46 0zm13 0zm16 0zm-79 1zm34 0zm1 0zm10 0zm-50 1zm1 0zm2 0zm2 0zm73 0zm-79 1zm1 0zm1 0zm1 0zm1 0zm1 0zm1 0zm1 0zm1 0zm59 0zm-67 1zm1 0zm1 0zm2 0zm2 0zm76 0zm-82 1zm1 0zm1 0zm1 0zm1 0zm1 0zm1 0zm1 0zm1 0zm1 0zm1 0zm1 0zm1 0zm1 0zm2 0zm2 0zm24 0zm21 0zm10 0zm6 0zm11 0zm12 0z" stroke="#000"/>
</g>
<rect x="158.5" y="217.1" width="87.00" height="81.70" fill="none" stroke="#1a1a1a" stroke-width="1.3"/>
<path d="M189.2 217.1V298.8M158.5 267.6H245.5" stroke="#1a1a1a" stroke-width="1.3" fill="none"/>
<path d="M158.5 298.8v2.6M158.5 298.8h-2.6M165.0 298.8v1.5M158.5 292.7h-1.5M168.9 298.8v1.5M158.5 289.1h-1.5M171.6 298.8v1.5M158.5 286.5h-1.5M173.7 298.8v1.5M158.5 284.5h-1.5M175.4 298.8v1.5M158.5 282.9h-1.5M176.9 298.8v1.5M158.5 281.5h-1.5M178.1 298.8v1.5M158.5 280.4h-1.5M179.3 298.8v1.5M158.5 279.3h-1.5M180.2 298.8v2.6M158.5 278.4h-2.6M186.8 298.8v1.5M158.5 272.2h-1.5M190.6 298.8v1.5M158.5 268.6h-1.5M193.3 298.8v1.5M158.5 266.1h-1.5M195.5 298.8v1.5M158.5 264.1h-1.5M197.2 298.8v1.5M158.5 262.5h-1.5M198.6 298.8v1.5M158.5 261.1h-1.5M199.9 298.8v1.5M158.5 259.9h-1.5M201.0 298.8v1.5M158.5 258.9h-1.5M202.0 298.8v2.6M158.5 257.9h-2.6M208.5 298.8v1.5M158.5 251.8h-1.5M212.4 298.8v1.5M158.5 248.2h-1.5M215.1 298.8v1.5M158.5 245.7h-1.5M217.2 298.8v1.5M158.5 243.7h-1.5M218.9 298.8v1.5M158.5 242.1h-1.5M220.4 298.8v1.5M158.5 240.7h-1.5M221.6 298.8v1.5M158.5 239.5h-1.5M222.8 298.8v1.5M158.5 238.5h-1.5M223.8 298.8v2.6M158.5 237.5h-2.6M230.3 298.8v1.5M158.5 231.4h-1.5M234.1 298.8v1.5M158.5 227.8h-1.5M236.8 298.8v1.5M158.5 225.2h-1.5M239.0 298.8v1.5M158.5 223.2h-1.5M240.7 298.8v1.5M158.5 221.6h-1.5M242.1 298.8v1.5M158.5 220.3h-1.5M243.4 298.8v1.5M158.5 219.1h-1.5M244.5 298.8v1.5M158.5 218.0h-1.5M245.5 298.8v2.6M158.5 217.1h-2.6" stroke="#111" stroke-width="0.7" fill="none"/>
<text transform="translate(158.6 308.0) scale(.86 1)" class="t" text-anchor="middle">10<tspan dy="-2.6" class="s">0</tspan></text>
<text transform="translate(154.9 299.3) rotate(-90) scale(.86 1)" class="t" text-anchor="middle">10<tspan dy="-2.6" class="s">0</tspan></text>
<text transform="translate(180.3 308.0) scale(.86 1)" class="t" text-anchor="middle">10<tspan dy="-2.6" class="s">1</tspan></text>
<text transform="translate(154.9 278.9) rotate(-90) scale(.86 1)" class="t" text-anchor="middle">10<tspan dy="-2.6" class="s">1</tspan></text>
<text transform="translate(202.1 308.0) scale(.86 1)" class="t" text-anchor="middle">10<tspan dy="-2.6" class="s">2</tspan></text>
<text transform="translate(154.9 258.4) rotate(-90) scale(.86 1)" class="t" text-anchor="middle">10<tspan dy="-2.6" class="s">2</tspan></text>
<text transform="translate(223.8 308.0) scale(.86 1)" class="t" text-anchor="middle">10<tspan dy="-2.6" class="s">3</tspan></text>
<text transform="translate(154.9 238.0) rotate(-90) scale(.86 1)" class="t" text-anchor="middle">10<tspan dy="-2.6" class="s">3</tspan></text>
<text transform="translate(245.6 308.0) scale(.86 1)" class="t" text-anchor="middle">10<tspan dy="-2.6" class="s">4</tspan></text>
<text transform="translate(154.9 217.6) rotate(-90) scale(.86 1)" class="t" text-anchor="middle">10<tspan dy="-2.6" class="s">4</tspan></text>
<text transform="translate(147.8 268.5) rotate(-90)" class="yl" textLength="21.6" lengthAdjust="spacingAndGlyphs">CD41 PE</text>
<text x="198.7" y="317.6" class="xl" text-anchor="middle">GFP</text>
<text x="234.2" y="228.5" class="pc" text-anchor="middle">11%</text>
<clipPath id="cB5"><rect x="28.1" y="326.3" width="88.40" height="81.70"/></clipPath>
<g clip-path="url(#cB5)">
<polygon points="48.9,392.1 48.7,393.8 48.0,395.4 47.0,397.0 45.7,398.4 44.0,399.5 42.2,400.3 40.3,400.7 38.4,400.8 36.6,400.5 34.9,399.8 33.6,398.8 32.6,397.5 31.9,396.0 31.7,394.3 31.9,392.6 32.6,391.0 33.6,389.4 34.9,388.0 36.6,386.9 38.4,386.1 40.3,385.7 42.2,385.6 44.0,385.9 45.7,386.6 47.0,387.6 48.0,388.9 48.7,390.4" fill="#000" filter="url(#b)"/>
<path class="d" transform="scale(.5)" d="M92 780zm-28 7z" stroke="#fff" opacity=".75"/>
<path class="d" transform="scale(.5)" d="M162 660zm-56 6zm-5 3zm38 2zm-36 3zm-18 5zm8 0zm1 3zm49 0zm-54 1zm6 0zm65 0zm15 0zm-91 1zm-11 2zm16 0zm11 0zm-2 2zm-10 1zm10 0zm6 0zm-28 1zm15 0zm5 0zm12 0zm67 0zm-69 2zm-23 1zm4 0zm16 0zm48 0zm9 0zm4 0zm-92 1zm20 0zm9 0zm66 0zm-70 1zm7 0zm73 0zm-85 1zm9 0zm1 0zm14 0zm-33 1zm15 0zm1 0zm6 0zm43 0zm-49 1zm61 0zm-72 1zm6 0zm4 0zm7 0zm30 0zm18 0zm-68 1zm7 0zm13 0zm-12 1zm7 0zm55 0zm-85 1zm25 0zm45 0zm-57 1zm6 0zm7 0zm10 0zm45 0zm2 0zm-66 1zm2 0zm61 0zm-59 1zm13 0zm59 0zm-81 1zm85 0zm6 0zm-86 1zm4 0zm8 0zm91 0zm-104 1zm4 0zm2 0zm17 0zm1 0zm43 0zm-5 1zm3 0zm31 0zm-83 1zm8 0zm60 0zm-73 1zm4 0zm7 0zm1 0zm45 0zm6 0zm10 0zm7 0zm-71 1zm8 0zm31 0zm2 0zm10 0zm18 0zm4 0zm-84 1zm1 0zm16 0zm58 0zm1 0zm3 0zm10 0zm-87 1zm13 0zm12 0zm1 0zm-36 1zm2 0zm22 0zm6 0zm30 0zm26 0zm4 0zm-78 1zm29 0zm20 0zm7 0zm2 0zm-57 1zm39 0zm27 0zm6 0zm-76 1zm15 0zm52 0zm2 0zm-82 1zm7 0zm3 0zm65 0zm9 0zm16 0zm-105 1zm5 0zm9 0zm18 0zm41 0zm22 0zm-80 1zm4 1zm6 0zm66 0zm2 0zm18 0zm-97 1zm65 0zm-64 1zm1 0zm1 0zm2 0zm3 0zm2 0zm60 0zm-74 1zm5 0zm4 0zm1 0zm58 0zm3 0zm9 0zm-68 1zm65 0zm-85 1zm11 0zm4 0zm5 0zm20 0zm31 0zm16 0zm-72 2zm4 0zm1 0zm44 0zm-55 1zm65 0zm14 0zm9 0zm-94 1zm13 0zm77 0zm-33 1zm6 0zm8 0zm-56 1zm10 0zm-22 1zm83 0zm-73 1zm-23 1zm12 0zm4 0zm1 2zm16 0zm16 0zm29 0zm12 0zm-72 1zm51 0zm-7 1zm25 0zm-88 1zm52 0zm1 0zm40 0zm-91 1zm12 0zm4 0zm5 0zm19 0zm1 0zm19 0zm8 0zm-79 1zm12 0zm25 0zm27 0zm6 0zm25 0zm-29 1zm4 0zm3 0zm29 0zm-100 1zm21 0zm38 0zm20 0zm-84 1zm9 0zm7 0zm5 0zm56 0zm3 0zm6 0zm-61 1zm28 0zm18 0zm-70 1zm9 0zm10 0zm4 0zm46 0zm24 0zm-82 1zm8 0zm52 0zm7 0zm-53 1zm6 0zm26 0zm8 0zm23 0zm-86 1zm27 0zm11 0zm18 0zm-28 1zm11 0zm3 0zm5 0zm16 0zm1 0zm5 0zm4 0zm-63 1zm10 0zm11 0zm11 0zm5 0zm12 0zm-39 1zm13 0zm5 0zm3 0zm9 0zm10 0zm21 0zm-84 1zm25 0zm7 0zm1 0zm13 0zm2 0zm8 0zm2 0zm2 0zm4 0zm5 0zm19 0zm-54 1zm2 0zm8 0zm6 0zm2 0zm2 0zm1 0zm1 0zm1 0zm1 0zm1 0zm6 0zm9 0zm68 0zm-130 1zm1 0zm2 0zm6 0zm1 0zm4 0zm8 0zm15 0zm6 0zm4 0zm6 0zm3 0zm2 0zm6 0zm3 0zm-72 1zm8 0zm7 0zm12 0zm3 0zm12 0zm1 0zm1 0zm3 0zm1 0zm3 0zm3 0zm5 0zm41 0zm-107 1zm19 0zm7 0zm9 0zm2 0zm6 0zm2 0zm2 0zm3 0zm3 0zm1 0zm3 0zm1 0zm4 0zm11 0zm1 0zm-64 1zm7 0zm5 0zm8 0zm2 0zm1 0zm4 0zm1 0zm1 0zm1 0zm6 0zm2 0zm1 0zm1 0zm5 0zm1 0zm1 0zm3 0zm1 0zm1 0zm3 0zm1 0zm-61 1zm3 0zm9 0zm4 0zm2 0zm5 0zm1 0zm1 0zm5 0zm3 0zm3 0zm3 0zm1 0zm1 0zm1 0zm1 0zm2 0zm1 0zm1 0zm1 0zm3 0zm2 0zm1 0zm2 0zm4 0zm1 0zm10 0zm-70 1zm3 0zm8 0zm2 0zm3 0zm2 0zm5 0zm1 0zm1 0zm1 0zm11 0zm1 0zm1 0zm2 0zm1 0zm1 0zm1 0zm1 0zm1 0zm1 0zm3 0zm1 0zm5 0zm1 0zm1 0zm-50 1zm8 0zm2 0zm5 0zm1 0zm2 0zm1 0zm2 0zm1 0zm2 0zm1 0zm1 0zm2 0zm1 0zm2 0zm1 0zm2 0zm1 0zm1 0zm1 0zm1 0zm1 0zm1 0zm1 0zm1 0zm1 0zm3 0zm1 0zm1 0zm16 0zm-78 1zm9 0zm3 0zm3 0zm2 0zm3 0zm2 0zm3 0zm2 0zm5 0zm8 0zm1 0zm1 0zm1 0zm3 0zm1 0zm1 0zm1 0zm3 0zm1 0zm3 0zm1 0zm1 0zm3 0zm24 0zm-85 1zm5 0zm3 0zm1 0zm4 0zm1 0zm1 0zm3 0zm4 0zm3 0zm1 0zm4 0zm2 0zm2 0zm1 0zm4 0zm1 0zm1 0zm1 0zm1 0zm1 0zm3 0zm1 0zm1 0zm2 0zm1 0zm1 0zm1 0zm3 0zm2 0zm2 0zm2 0zm37 0zm4 0zm-94 1zm3 0zm1 0zm1 0zm1 0zm2 0zm3 0zm4 0zm2 0zm1 0zm5 0zm1 0zm2 0zm6 0zm6 0zm1 0zm1 0zm1 0zm3 0zm3 0zm1 0zm3 0zm6 0zm1 0zm1 0zm32 0zm-101 1zm6 0zm1 0zm1 0zm2 0zm1 0zm3 0zm1 0zm2 0zm4 0zm1 0zm1 0zm1 0zm1 0zm1 0zm1 0zm6 0zm3 0zm5 0zm1 0zm3 0zm1 0zm1 0zm1 0zm2 0zm2 0zm2 0zm1 0zm2 0zm1 0zm8 0zm22 0zm28 0zm3 0zm-119 1zm4 0zm1 0zm10 0zm2 0zm1 0zm4 0zm1 0zm1 0zm2 0zm3 0zm2 0zm1 0zm1 0zm1 0zm1 0zm4 0zm1 0zm1 0zm1 0zm1 0zm1 0zm1 0zm1 0zm1 0zm1 0zm1 0zm1 0zm1 0zm1 0zm1 0zm2 0zm1 0zm8 0zm50 0zm6 0zm-119 1zm2 0zm11 0zm1 0zm1 0zm1 0zm2 0zm1 0zm3 0zm1 0zm1 0zm2 0zm1 0zm1 0zm1 0zm1 0zm1 0zm1 0zm1 0zm1 0zm1 0zm1 0zm1 0zm2 0zm1 0zm2 0zm1 0zm1 0zm1 0zm1 0zm1 0zm1 0zm1 0zm1 0zm1 0zm3 0zm4 0zm1 0zm2 0zm5 0zm25 0zm8 0zm12 0zm-112 1zm4 0zm1 0zm1 0zm1 0zm1 0zm1 0zm2 0zm4 0zm1 0zm1 0zm2 0zm1 0zm2 0zm4 0zm1 0zm1 0zm2 0zm2 0zm1 0zm1 0zm1 0zm2 0zm2 0zm1 0zm1 0zm1 0zm2 0zm3 0zm1 0zm1 0zm1 0zm1 0zm1 0zm1 0zm5 0zm12 0zm32 0zm11 0zm21 0zm-134 1zm5 0zm2 0zm1 0zm1 0zm1 0zm2 0zm2 0zm2 0zm2 0zm1 0zm1 0zm1 0zm1 0zm1 0zm1 0zm1 0zm1 0zm1 0zm1 0zm1 0zm1 0zm1 0zm2 0zm1 0zm1 0zm2 0zm1 0zm1 0zm1 0zm1 0zm1 0zm1 0zm1 0zm2 0zm1 0zm1 0zm1 0zm3 0zm2 0zm1 0zm2 0zm1 0zm1 0zm9 0zm2 0zm25 0zm38 0zm-133 1zm1 0zm3 0zm5 0zm4 0zm2 0zm1 0zm1 0zm3 0zm1 0zm1 0zm1 0zm1 0zm1 0zm1 0zm3 0zm1 0zm1 0zm1 0zm1 0zm2 0zm2 0zm1 0zm2 0zm3 0zm1 0zm1 0zm2 0zm1 0zm1 0zm1 0zm1 0zm1 0zm4 0zm1 0zm3 0zm7 0zm-67 1zm3 0zm2 0zm2 0zm1 0zm2 0zm2 0zm1 0zm1 0zm1 0zm2 0zm2 0zm1 0zm1 0zm1 0zm1 0zm1 0zm1 0zm5 0zm2 0zm1 0zm2 0zm1 0zm1 0zm1 0zm1 0zm1 0zm1 0zm1 0zm3 0zm1 0zm1 0zm1 0zm1 0zm2 0zm1 0zm1 0zm2 0zm1 0zm45 0zm-101 1zm1 0zm1 0zm10 0zm1 0zm2 0zm1 0zm1 0zm1 0zm14 0zm2 0zm1 0zm1 0zm1 0zm2 0zm1 0zm1 0zm1 0zm1 0zm1 0zm4 0zm1 0zm1 0zm1 0zm2 0zm3 0zm1 0zm3 0zm4 0zm17 0zm4 0zm15 0zm19 0zm-119 1zm2 0zm3 0zm1 0zm1 0zm1 0zm1 0zm6 0zm1 0zm15 0zm1 0zm3 0zm1 0zm2 0zm1 0zm1 0zm1 0zm1 0zm1 0zm1 0zm1 0zm1 0zm1 0zm1 0zm1 0zm1 0zm3 0zm3 0zm2 0zm1 0zm8 0zm26 0zm3 0zm5 0zm2 0zm41 0zm-140 1zm2 0zm1 0zm2 0zm1 0zm2 0zm1 0zm2 0zm20 0zm1 0zm1 0zm1 0zm1 0zm1 0zm1 0zm1 0zm1 0zm1 0zm2 0zm1 0zm1 0zm1 0zm2 0zm4 0zm4 0zm11 0zm22 0zm6 0zm-98 1zm2 0zm2 0zm1 0zm1 0zm1 0zm1 0zm1 0zm5 0zm22 0zm1 0zm1 0zm1 0zm1 0zm1 0zm1 0zm2 0zm1 0zm1 0zm1 0zm5 0zm1 0zm1 0zm2 0zm2 0zm13 0zm11 0zm25 0zm11 0zm12 0zm-130 1zm1 0zm3 0zm1 0zm2 0zm2 0zm1 0zm1 0zm1 0zm24 0zm1 0zm1 0zm1 0zm1 0zm1 0zm2 0zm1 0zm2 0zm5 0zm2 0zm3 0zm2 0zm28 0zm8 0zm23 0zm1 0zm12 0zm-130 1zm1 0zm1 0zm1 0zm1 0zm1 0zm1 0zm1 0zm1 0zm1 0zm1 0zm1 0zm26 0zm2 0zm2 0zm2 0zm1 0zm1 0zm1 0zm2 0zm4 0zm3 0zm3 0zm4 0zm24 0zm2 0zm9 0zm1 0zm3 0zm5 0zm14 0zm21 0zm-141 1zm3 0zm2 0zm2 0zm1 0zm2 0zm1 0zm27 0zm1 0zm3 0zm3 0zm1 0zm3 0zm4 0zm1 0zm1 0zm2 0zm1 0zm17 0zm4 0zm7 0zm2 0zm10 0zm13 0zm15 0zm-126 1zm1 0zm2 0zm2 0zm1 0zm2 0zm1 0zm1 0zm29 0zm1 0zm1 0zm1 0zm1 0zm5 0zm1 0zm3 0zm4 0zm2 0zm14 0zm2 0zm1 0zm13 0zm2 0zm3 0zm10 0zm4 0zm8 0zm36 0zm-151 1zm1 0zm3 0zm1 0zm1 0zm1 0zm2 0zm30 0zm1 0zm1 0zm1 0zm1 0zm1 0zm3 0zm1 0zm2 0zm2 0zm13 0zm4 0zm43 0zm11 0zm7 0zm5 0zm2 0zm-137 1zm1 0zm1 0zm4 0zm1 0zm1 0zm1 0zm31 0zm1 0zm2 0zm1 0zm1 0zm2 0zm6 0zm5 0zm6 0zm2 0zm1 0zm4 0zm3 0zm7 0zm3 0zm5 0zm10 0zm1 0zm2 0zm6 0zm1 0zm-109 1zm1 0zm1 0zm1 0zm2 0zm3 0zm1 0zm29 0zm1 0zm1 0zm1 0zm1 0zm4 0zm1 0zm17 0zm18 0zm3 0zm3 0zm2 0zm8 0zm27 0zm-125 1zm3 0zm1 0zm1 0zm1 0zm1 0zm1 0zm32 0zm2 0zm1 0zm1 0zm1 0zm2 0zm3 0zm1 0zm30 0zm5 0zm2 0zm4 0zm4 0zm1 0zm9 0zm1 0zm5 0zm20 0zm-132 1zm2 0zm1 0zm3 0zm1 0zm1 0zm32 0zm1 0zm1 0zm1 0zm1 0zm2 0zm1 0zm1 0zm1 0zm25 0zm18 0zm9 0zm6 0zm3 0zm9 0zm2 0zm1 0zm6 0zm-128 1zm3 0zm1 0zm3 0zm32 0zm1 0zm1 0zm1 0zm1 0zm1 0zm1 0zm1 0zm1 0zm1 0zm2 0zm4 0zm14 0zm24 0zm14 0zm1 0zm12 0zm6 0zm4 0zm40 0zm-169 1zm4 0zm2 0zm1 0zm1 0zm31 0zm3 0zm1 0zm1 0zm5 0zm6 0zm8 0zm5 0zm9 0zm1 0zm1 0zm9 0zm2 0zm5 0zm4 0zm1 0zm2 0zm1 0zm12 0zm7 0zm-122 1zm2 0zm3 0zm2 0zm31 0zm1 0zm1 0zm1 0zm1 0zm3 0zm1 0zm1 0zm1 0zm4 0zm2 0zm2 0zm2 0zm10 0zm10 0zm11 0zm1 0zm4 0zm2 0zm1 0zm2 0zm2 0zm4 0zm11 0zm7 0zm43 0zm1 0zm-167 1zm1 0zm4 0zm1 0zm1 0zm31 0zm2 0zm1 0zm1 0zm1 0zm3 0zm2 0zm1 0zm9 0zm7 0zm11 0zm11 0zm2 0zm5 0zm3 0zm-97 1zm1 0zm1 0zm2 0zm1 0zm1 0zm1 0zm31 0zm1 0zm1 0zm1 0zm1 0zm1 0zm1 0zm2 0zm2 0zm12 0zm5 0zm4 0zm8 0zm7 0zm1 0zm1 0zm5 0zm2 0zm3 0zm4 0zm4 0zm4 0zm2 0zm27 0zm1 0zm3 0zm-141 1zm3 0zm1 0zm1 0zm1 0zm1 0zm1 0zm30 0zm1 0zm1 0zm1 0zm1 0zm1 0zm1 0zm5 0zm2 0zm4 0zm9 0zm5 0zm12 0zm2 0zm4 0zm9 0zm8 0zm2 0zm7 0zm1 0zm1 0zm17 0zm11 0zm4 0zm-147 1zm1 0zm3 0zm1 0zm1 0zm1 0zm1 0zm28 0zm3 0zm2 0zm2 0zm1 0zm2 0zm3 0zm10 0zm8 0zm21 0zm9 0zm1 0zm5 0zm4 0zm7 0zm8 0zm7 0zm6 0zm-135 1zm1 0zm1 0zm1 0zm1 0zm1 0zm1 0zm2 0zm1 0zm1 0zm25 0zm1 0zm1 0zm1 0zm1 0zm1 0zm1 0zm1 0zm1 0zm1 0zm2 0zm2 0zm13 0zm2 0zm3 0zm23 0zm14 0zm7 0zm8 0zm6 0zm-124 1zm1 0zm1 0zm1 0zm1 0zm4 0zm2 0zm25 0zm1 0zm1 0zm1 0zm1 0zm3 0zm2 0zm3 0zm4 0zm3 0zm12 0zm23 0zm13 0zm3 0zm7 0zm13 0zm-125 1zm3 0zm1 0zm3 0zm1 0zm2 0zm1 0zm23 0zm1 0zm1 0zm2 0zm2 0zm1 0zm3 0zm2 0zm1 0zm12 0zm7 0zm11 0zm1 0zm5 0zm9 0zm1 0zm2 0zm11 0zm3 0zm2 0zm1 0zm6 0zm-118 1zm1 0zm1 0zm2 0zm1 0zm1 0zm1 0zm3 0zm1 0zm21 0zm1 0zm1 0zm2 0zm1 0zm1 0zm2 0zm1 0zm3 0zm4 0zm3 0zm4 0zm7 0zm23 0zm7 0zm2 0zm5 0zm1 0zm7 0zm7 0zm4 0zm-118 1zm3 0zm3 0zm1 0zm1 0zm1 0zm2 0zm1 0zm1 0zm1 0zm17 0zm1 0zm1 0zm1 0zm1 0zm1 0zm1 0zm1 0zm1 0zm1 0zm4 0zm2 0zm3 0zm6 0zm6 0zm15 0zm12 0zm10 0zm1 0zm1 0zm4 0zm3 0zm4 0zm9 0zm7 0zm10 0zm4 0zm-141 1zm3 0zm2 0zm1 0zm2 0zm3 0zm2 0zm1 0zm1 0zm1 0zm11 0zm3 0zm1 0zm1 0zm3 0zm4 0zm2 0zm2 0zm3 0zm9 0zm19 0zm5 0zm5 0zm4 0zm16 0zm4 0zm18 0zm2 0zm6 0zm11 0zm-145 1zm4 0zm1 0zm1 0zm1 0zm2 0zm1 0zm1 0zm1 0zm1 0zm1 0zm3 0zm1 0zm3 0zm2 0zm2 0zm1 0zm1 0zm2 0zm1 0zm1 0zm3 0zm4 0zm1 0zm1 0zm1 0zm2 0zm5 0zm1 0zm5 0zm3 0zm8 0zm3 0zm10 0zm5 0zm7 0zm2 0zm13 0zm6 0zm12 0zm6 0zm8 0zm-137 1zm2 0zm1 0zm1 0zm2 0zm1 0zm2 0zm1 0zm2 0zm1 0zm2 0zm2 0zm1 0zm1 0zm3 0zm1 0zm1 0zm1 0zm1 0zm1 0zm1 0zm1 0zm1 0zm1 0zm1 0zm1 0zm1 0zm2 0zm7 0zm1 0zm1 0zm40 0zm15 0zm1 0zm13 0zm2 0zm8 0zm10 0zm5 0zm3 0zm-142 1zm3 0zm1 0zm3 0zm2 0zm1 0zm1 0zm1 0zm1 0zm1 0zm2 0zm1 0zm1 0zm1 0zm1 0zm3 0zm1 0zm1 0zm1 0zm1 0zm1 0zm4 0zm4 0zm8 0zm2 0zm1 0zm26 0zm9 0zm1 0zm6 0zm15 0zm5 0zm4 0zm9 0zm1 0zm-123 1zm2 0zm2 0zm3 0zm2 0zm1 0zm1 0zm1 0zm1 0zm1 0zm5 0zm1 0zm4 0zm1 0zm1 0zm1 0zm1 0zm2 0zm1 0zm1 0zm1 0zm2 0zm1 0zm1 0zm1 0zm4 0zm21 0zm31 0zm5 0zm27 0zm3 0zm-129 1zm3 0zm2 0zm1 0zm1 0zm2 0zm1 0zm1 0zm1 0zm1 0zm1 0zm2 0zm1 0zm1 0zm5 0zm8 0zm2 0zm4 0zm3 0zm1 0zm3 0zm40 0zm6 0zm2 0zm1 0zm4 0zm11 0zm2 0zm4 0zm2 0zm2 0zm9 0zm19 0zm-146 1zm1 0zm3 0zm2 0zm2 0zm2 0zm3 0zm1 0zm2 0zm2 0zm1 0zm1 0zm3 0zm1 0zm1 0zm1 0zm3 0zm4 0zm2 0zm1 0zm4 0zm16 0zm-56 1zm1 0zm9 0zm4 0zm2 0zm1 0zm1 0zm1 0zm1 0zm1 0zm1 0zm1 0zm1 0zm1 0zm6 0zm1 0zm2 0zm3 0zm6 0zm42 0zm2 0zm23 0zm1 0zm17 0zm9 0zm-137 1zm6 0zm1 0zm2 0zm2 0zm6 0zm1 0zm4 0zm1 0zm3 0zm3 0zm1 0zm3 0zm9 0zm3 0zm29 0zm2 0zm18 0zm13 0zm19 0zm4 0zm-130 1zm2 0zm2 0zm3 0zm7 0zm2 0zm1 0zm6 0zm5 0zm2 0zm8 0zm3 0zm3 0zm9 0zm48 0zm11 0zm-112 1zm2 0zm3 0zm7 0zm4 0zm1 0zm1 0zm3 0zm5 0zm4 0zm3 0zm5 0zm23 0zm77 0zm-135 1zm9 0zm8 0zm2 0zm4 0zm3 0zm1 0zm2 0zm1 0zm1 0zm1 0zm2 0zm5 0zm6 0zm27 0zm-71 1zm3 0zm2 0zm1 0zm5 0zm1 0zm2 0zm3 0zm2 0zm9 0zm3 0zm40 0zm30 0zm-100 1zm2 0zm1 0zm2 0zm6 0zm3 0zm1 0zm4 0zm1 0zm1 0zm3 0zm1 0zm45 0zm1 0zm38 0zm13 0zm-121 1zm6 0zm3 0zm1 0zm10 0zm11 0zm29 0zm45 0zm11 0zm2 0zm-124 1zm7 0zm6 0zm5 0zm9 0zm1 0zm5 0zm9 0zm50 0zm26 0zm10 0zm7 0zm-135 1zm2 0zm1 0zm3 0zm2 0zm7 0zm1 0zm1 0zm5 0zm2 0zm1 0zm4 0zm1 0zm1 0zm1 0zm5 0zm3 0zm5 0zm31 0zm1 0zm8 0zm4 0zm8 0zm2 0zm5 0zm14 0zm9 0zm3 0zm2 0zm2 0zm1 0zm2 0zm9 0zm1 0zm1 0zm27 0z" stroke="#000"/>
</g>
<rect x="28.1" y="326.3" width="88.40" height="81.70" fill="none" stroke="#1a1a1a" stroke-width="1.3"/>
<path d="M61.6 326.3V408M28.1 376.3H116.5" stroke="#1a1a1a" stroke-width="1.3" fill="none"/>
<path d="M28.1 408v2.6M28.1 408.0h-2.6M34.8 408v1.5M28.1 401.9h-1.5M38.6 408v1.5M28.1 398.3h-1.5M41.4 408v1.5M28.1 395.7h-1.5M43.5 408v1.5M28.1 393.7h-1.5M45.3 408v1.5M28.1 392.1h-1.5M46.8 408v1.5M28.1 390.7h-1.5M48.1 408v1.5M28.1 389.6h-1.5M49.2 408v1.5M28.1 388.5h-1.5M50.2 408v2.6M28.1 387.6h-2.6M56.9 408v1.5M28.1 381.4h-1.5M60.7 408v1.5M28.1 377.8h-1.5M63.5 408v1.5M28.1 375.3h-1.5M65.6 408v1.5M28.1 373.3h-1.5M67.4 408v1.5M28.1 371.7h-1.5M68.9 408v1.5M28.1 370.3h-1.5M70.2 408v1.5M28.1 369.1h-1.5M71.3 408v1.5M28.1 368.1h-1.5M72.3 408v2.6M28.1 367.1h-2.6M79.0 408v1.5M28.1 361.0h-1.5M82.8 408v1.5M28.1 357.4h-1.5M85.6 408v1.5M28.1 354.9h-1.5M87.7 408v1.5M28.1 352.9h-1.5M89.5 408v1.5M28.1 351.3h-1.5M91.0 408v1.5M28.1 349.9h-1.5M92.3 408v1.5M28.1 348.7h-1.5M93.4 408v1.5M28.1 347.7h-1.5M94.4 408v2.6M28.1 346.7h-2.6M101.1 408v1.5M28.1 340.6h-1.5M104.9 408v1.5M28.1 337.0h-1.5M107.7 408v1.5M28.1 334.4h-1.5M109.8 408v1.5M28.1 332.4h-1.5M111.6 408v1.5M28.1 330.8h-1.5M113.1 408v1.5M28.1 329.5h-1.5M114.4 408v1.5M28.1 328.3h-1.5M115.5 408v1.5M28.1 327.2h-1.5M116.5 408v2.6M28.1 326.3h-2.6" stroke="#111" stroke-width="0.7" fill="none"/>
<text transform="translate(28.2 417.2) scale(.86 1)" class="t" text-anchor="middle">10<tspan dy="-2.6" class="s">0</tspan></text>
<text transform="translate(24.5 408.5) rotate(-90) scale(.86 1)" class="t" text-anchor="middle">10<tspan dy="-2.6" class="s">0</tspan></text>
<text transform="translate(50.3 417.2) scale(.86 1)" class="t" text-anchor="middle">10<tspan dy="-2.6" class="s">1</tspan></text>
<text transform="translate(24.5 388.1) rotate(-90) scale(.86 1)" class="t" text-anchor="middle">10<tspan dy="-2.6" class="s">1</tspan></text>
<text transform="translate(72.4 417.2) scale(.86 1)" class="t" text-anchor="middle">10<tspan dy="-2.6" class="s">2</tspan></text>
<text transform="translate(24.5 367.6) rotate(-90) scale(.86 1)" class="t" text-anchor="middle">10<tspan dy="-2.6" class="s">2</tspan></text>
<text transform="translate(94.5 417.2) scale(.86 1)" class="t" text-anchor="middle">10<tspan dy="-2.6" class="s">3</tspan></text>
<text transform="translate(24.5 347.2) rotate(-90) scale(.86 1)" class="t" text-anchor="middle">10<tspan dy="-2.6" class="s">3</tspan></text>
<text transform="translate(116.6 417.2) scale(.86 1)" class="t" text-anchor="middle">10<tspan dy="-2.6" class="s">4</tspan></text>
<text transform="translate(24.5 326.8) rotate(-90) scale(.86 1)" class="t" text-anchor="middle">10<tspan dy="-2.6" class="s">4</tspan></text>
<text transform="translate(17.4 380.5) rotate(-90)" class="yl" textLength="20.5" lengthAdjust="spacingAndGlyphs">CD14 PE</text>
<text x="68.9" y="426.8" class="xl" text-anchor="middle">GFP</text>
<text x="102.7" y="340.0" class="pc" text-anchor="middle">31%</text>
<clipPath id="cB6"><rect x="158.6" y="322.7" width="86.90" height="81.50"/></clipPath>
<g clip-path="url(#cB6)">
<polygon points="176.0,385.6 177.4,385.7 178.8,386.2 179.9,387.0 180.8,388.1 181.3,389.4 181.5,390.8 181.5,413.5 181.3,414.9 180.8,416.2 179.9,417.4 178.8,418.3 177.4,419.0 176.0,419.2 148.9,420.6 147.5,420.5 146.1,420.0 145.0,419.2 144.1,418.1 143.6,416.8 143.4,415.4 143.4,392.7 143.6,391.3 144.1,390.0 145.0,388.8 146.1,387.8 147.5,387.2 148.9,387.0" fill="#000" filter="url(#b)"/>
<path class="d" transform="scale(.5)" d="M348 779zm-9 11zm2 1zm2 13z" stroke="#fff" opacity=".75"/>
<path class="d" transform="scale(.5)" d="M464 650zm-120 24zm4 22zm14 4zm76 6zm-103 14zm33 1zm-20 2zm11 0zm-8 1zm-21 1zm15 0zm20 0zm4 0zm-11 1zm23 1zm-22 1zm23 0zm-52 1zm8 0zm5 1zm31 1zm4 0zm-39 1zm2 0zm-23 1zm52 0zm-23 1zm16 0zm-30 1zm8 0zm31 1zm-15 1zm6 0zm9 0zm-18 1zm1 0zm27 0zm-35 2zm12 0zm16 0zm8 0zm2 0zm-47 1zm4 0zm28 0zm17 0zm-49 1zm5 0zm29 0zm5 0zm4 0zm10 0zm-67 1zm32 0zm11 0zm11 0zm-48 1zm40 0zm2 0zm7 0zm9 0zm-7 1zm4 0zm-47 1zm28 0zm2 0zm8 0zm7 0zm1 0zm-42 1zm27 0zm19 0zm8 0zm-26 1zm4 0zm1 0zm2 0zm7 0zm1 0zm3 0zm-24 1zm2 0zm1 0zm5 0zm1 0zm5 0zm-16 1zm1 0zm8 0zm1 0zm1 0zm1 0zm3 0zm2 0zm1 0zm-16 1zm3 0zm1 0zm5 0zm1 0zm8 0zm-32 1zm20 0zm2 0zm4 0zm-58 1zm37 0zm6 0zm4 0zm4 0zm1 0zm2 0zm1 0zm1 0zm6 0zm-45 1zm28 0zm2 0zm1 0zm4 0zm2 0zm1 0zm-38 1zm6 0zm15 0zm3 0zm5 0zm7 0zm4 0zm2 0zm-29 1zm6 0zm8 0zm8 0zm1 0zm22 0zm33 0zm-103 1zm27 0zm13 0zm5 0zm2 0zm1 0zm1 0zm1 0zm2 0zm-57 1zm10 0zm7 0zm20 0zm3 0zm6 0zm4 0zm3 0zm-32 1zm3 0zm4 0zm2 0zm1 0zm2 0zm1 0zm6 0zm4 0zm2 0zm3 0zm3 0zm5 0zm2 0zm2 0zm-61 1zm7 0zm2 0zm5 0zm3 0zm4 0zm2 0zm7 0zm7 0zm1 0zm1 0zm4 0zm1 0zm2 0zm3 0zm1 0zm1 0zm1 0zm3 0zm7 0zm5 0zm31 0zm14 0zm-112 1zm14 0zm9 0zm6 0zm3 0zm6 0zm3 0zm1 0zm2 0zm1 0zm2 0zm2 0zm1 0zm3 0zm2 0zm1 0zm3 0zm2 0zm-61 1zm17 0zm7 0zm1 0zm7 0zm5 0zm1 0zm1 0zm6 0zm6 0zm4 0zm1 0zm5 0zm7 0zm-68 1zm13 0zm3 0zm4 0zm4 0zm3 0zm5 0zm1 0zm2 0zm1 0zm1 0zm5 0zm3 0zm3 0zm1 0zm2 0zm1 0zm5 0zm1 0zm-58 1zm1 0zm3 0zm6 0zm2 0zm4 0zm2 0zm6 0zm1 0zm6 0zm2 0zm3 0zm3 0zm1 0zm1 0zm1 0zm2 0zm1 0zm3 0zm1 0zm1 0zm3 0zm3 0zm-56 1zm2 0zm1 0zm6 0zm1 0zm4 0zm1 0zm1 0zm4 0zm5 0zm12 0zm4 0zm1 0zm3 0zm1 0zm7 0zm8 0zm-61 1zm5 0zm2 0zm7 0zm1 0zm3 0zm3 0zm8 0zm1 0zm5 0zm1 0zm1 0zm1 0zm2 0zm2 0zm1 0zm3 0zm5 0zm2 0zm1 0zm-54 1zm2 0zm3 0zm4 0zm3 0zm2 0zm5 0zm2 0zm1 0zm1 0zm2 0zm1 0zm2 0zm1 0zm1 0zm4 0zm1 0zm1 0zm2 0zm1 0zm2 0zm1 0zm1 0zm2 0zm2 0zm2 0zm2 0zm2 0zm-53 1zm5 0zm1 0zm1 0zm3 0zm2 0zm1 0zm1 0zm3 0zm3 0zm1 0zm2 0zm1 0zm1 0zm1 0zm1 0zm5 0zm2 0zm4 0zm1 0zm1 0zm3 0zm1 0zm1 0zm2 0zm1 0zm4 0zm1 0zm7 0zm15 0zm20 0zm-95 1zm1 0zm8 0zm2 0zm4 0zm2 0zm2 0zm6 0zm3 0zm2 0zm2 0zm4 0zm2 0zm1 0zm1 0zm4 0zm-44 1zm1 0zm2 0zm2 0zm1 0zm2 0zm1 0zm1 0zm2 0zm2 0zm4 0zm1 0zm1 0zm3 0zm1 0zm2 0zm2 0zm1 0zm1 0zm1 0zm1 0zm1 0zm1 0zm1 0zm4 0zm1 0zm17 0zm21 0zm-78 1zm1 0zm2 0zm1 0zm2 0zm3 0zm2 0zm1 0zm1 0zm1 0zm2 0zm1 0zm1 0zm1 0zm1 0zm1 0zm2 0zm2 0zm1 0zm1 0zm1 0zm1 0zm2 0zm1 0zm1 0zm2 0zm1 0zm1 0zm1 0zm3 0zm1 0zm30 0zm9 0zm-81 1zm1 0zm2 0zm1 0zm1 0zm1 0zm1 0zm1 0zm5 0zm2 0zm1 0zm1 0zm3 0zm1 0zm1 0zm1 0zm1 0zm1 0zm1 0zm4 0zm1 0zm1 0zm2 0zm3 0zm2 0zm1 0zm2 0zm1 0zm2 0zm1 0zm2 0zm1 0zm13 0zm23 0zm-85 1zm1 0zm1 0zm1 0zm1 0zm1 0zm1 0zm3 0zm1 0zm2 0zm1 0zm1 0zm3 0zm1 0zm1 0zm1 0zm3 0zm1 0zm1 0zm1 0zm1 0zm1 0zm1 0zm1 0zm1 0zm2 0zm1 0zm3 0zm2 0zm2 0zm1 0zm6 0zm2 0zm25 0zm-75 1zm2 0zm1 0zm1 0zm1 0zm1 0zm1 0zm1 0zm1 0zm1 0zm1 0zm1 0zm1 0zm1 0zm1 0zm1 0zm1 0zm1 0zm2 0zm1 0zm1 0zm2 0zm1 0zm26 0zm1 0zm5 0zm9 0zm-66 1zm1 0zm1 0zm1 0zm1 0zm1 0zm2 0zm1 0zm31 0zm4 0zm6 0zm8 0zm1 0zm10 0zm34 0zm-62 1zm1 0zm1 0zm3 0zm1 0zm3 0zm1 0zm-5 1zm1 0zm1 0zm1 0zm16 0zm-22 1zm1 0zm1 0zm2 0zm-2 1zm1 0zm4 0zm3 0zm4 0zm-13 1zm1 0zm1 0zm7 0zm8 0zm37 0zm-54 1zm1 0zm2 0zm1 0zm7 0zm32 0zm7 0zm33 0zm-79 1zm1 0zm3 0zm1 0zm1 0zm-10 1zm1 0zm2 0zm2 0zm2 0zm40 0zm7 0zm-54 1zm1 0zm1 0zm1 0zm1 0zm1 0zm5 0zm2 0zm3 0zm-15 1zm1 0zm1 0zm2 0zm1 0zm2 0zm4 0zm-11 1zm1 0zm3 0zm1 0zm2 0zm1 0zm38 0zm10 0zm-56 1zm1 0zm1 0zm1 0zm3 0zm1 0zm2 0zm3 0zm3 0zm-15 1zm2 0zm1 0zm1 0zm2 0zm2 0zm1 0zm5 0zm39 0zm8 0zm1 0zm-62 1zm6 0zm1 0zm1 0zm4 0zm3 0zm29 0zm3 0zm-47 1zm1 0zm1 0zm1 0zm5 0zm3 0zm19 0zm13 0zm6 0zm-49 1zm1 0zm3 0zm1 0zm2 0zm4 0zm37 0zm4 0zm-51 1zm2 0zm1 0zm2 0zm2 0zm36 0zm12 0zm1 0zm9 0zm3 0zm-68 1zm1 0zm1 0zm1 0zm1 0zm1 0zm1 0zm3 0zm1 0zm1 0zm2 0zm17 0zm7 0zm3 0zm7 0zm14 0zm-62 1zm2 0zm2 0zm1 0zm1 0zm5 0zm1 0zm1 0zm29 0zm3 0zm9 0zm6 0zm1 0zm12 0zm5 0zm-78 1zm1 0zm1 0zm3 0zm1 0zm1 0zm6 0zm23 0zm9 0zm2 0zm11 0zm4 0zm13 0zm-73 1zm6 0zm9 0zm8 0zm9 0zm9 0zm5 0zm5 0zm2 0zm2 0zm-57 1zm1 0zm3 0zm1 0zm2 0zm2 0zm13 0zm17 0zm3 0zm2 0zm1 0zm19 0zm1 0zm7 0zm11 0zm-83 1zm1 0zm1 0zm1 0zm2 0zm2 0zm2 0zm1 0zm1 0zm7 0zm16 0zm3 0zm3 0zm5 0zm3 0zm10 0zm9 0zm3 0zm-70 1zm1 0zm2 0zm1 0zm3 0zm2 0zm20 0zm3 0zm6 0zm4 0zm4 0zm3 0zm20 0zm-68 1zm1 0zm1 0zm1 0zm1 0zm1 0zm2 0zm1 0zm4 0zm8 0zm19 0zm9 0zm2 0zm8 0zm11 0zm-70 1zm1 0zm2 0zm2 0zm1 0zm2 0zm1 0zm7 0zm2 0zm13 0zm7 0zm5 0zm19 0zm-62 1zm1 0zm1 0zm1 0zm1 0zm1 0zm19 0zm1 0zm2 0zm2 0zm4 0zm4 0zm1 0zm7 0zm10 0zm-55 1zm1 0zm2 0zm1 0zm2 0zm1 0zm31 0zm6 0zm10 0zm1 0zm5 0zm-60 1zm1 0zm1 0zm1 0zm2 0zm3 0zm1 0zm1 0zm2 0zm1 0zm43 0zm4 0zm1 0zm52 0zm-113 1zm1 0zm1 0zm1 0zm1 0zm3 0zm3 0zm4 0zm20 0zm15 0zm-49 1zm1 0zm2 0zm1 0zm1 0zm1 0zm52 0zm-58 1zm1 0zm1 0zm1 0zm1 0zm1 0zm1 0zm1 0zm1 0zm1 0zm1 0zm1 0zm1 0zm1 0zm1 0zm1 0zm1 0zm1 0zm5 0zm2 0zm12 0zm3 0zm6 0zm1 0zm5 0zm2 0zm4 0zm1 0zm3 0z" stroke="#000"/>
</g>
<rect x="158.6" y="322.7" width="86.90" height="81.50" fill="none" stroke="#1a1a1a" stroke-width="1.3"/>
<path d="M191.6 322.7V404.2M158.6 372.4H245.5" stroke="#1a1a1a" stroke-width="1.3" fill="none"/>
<path d="M158.6 404.2v2.6M158.6 404.2h-2.6M165.1 404.2v1.5M158.6 398.1h-1.5M169.0 404.2v1.5M158.6 394.5h-1.5M171.7 404.2v1.5M158.6 391.9h-1.5M173.8 404.2v1.5M158.6 390.0h-1.5M175.5 404.2v1.5M158.6 388.3h-1.5M177.0 404.2v1.5M158.6 387.0h-1.5M178.2 404.2v1.5M158.6 385.8h-1.5M179.3 404.2v1.5M158.6 384.8h-1.5M180.3 404.2v2.6M158.6 383.8h-2.6M186.9 404.2v1.5M158.6 377.7h-1.5M190.7 404.2v1.5M158.6 374.1h-1.5M193.4 404.2v1.5M158.6 371.6h-1.5M195.5 404.2v1.5M158.6 369.6h-1.5M197.2 404.2v1.5M158.6 368.0h-1.5M198.7 404.2v1.5M158.6 366.6h-1.5M199.9 404.2v1.5M158.6 365.4h-1.5M201.1 404.2v1.5M158.6 364.4h-1.5M202.1 404.2v2.6M158.6 363.4h-2.6M208.6 404.2v1.5M158.6 357.3h-1.5M212.4 404.2v1.5M158.6 353.7h-1.5M215.1 404.2v1.5M158.6 351.2h-1.5M217.2 404.2v1.5M158.6 349.2h-1.5M219.0 404.2v1.5M158.6 347.6h-1.5M220.4 404.2v1.5M158.6 346.2h-1.5M221.7 404.2v1.5M158.6 345.0h-1.5M222.8 404.2v1.5M158.6 344.0h-1.5M223.8 404.2v2.6M158.6 343.1h-2.6M230.3 404.2v1.5M158.6 336.9h-1.5M234.1 404.2v1.5M158.6 333.4h-1.5M236.9 404.2v1.5M158.6 330.8h-1.5M239.0 404.2v1.5M158.6 328.8h-1.5M240.7 404.2v1.5M158.6 327.2h-1.5M242.1 404.2v1.5M158.6 325.9h-1.5M243.4 404.2v1.5M158.6 324.7h-1.5M244.5 404.2v1.5M158.6 323.6h-1.5M245.5 404.2v2.6M158.6 322.7h-2.6" stroke="#111" stroke-width="0.7" fill="none"/>
<text transform="translate(158.7 413.4) scale(.86 1)" class="t" text-anchor="middle">10<tspan dy="-2.6" class="s">0</tspan></text>
<text transform="translate(155.0 404.7) rotate(-90) scale(.86 1)" class="t" text-anchor="middle">10<tspan dy="-2.6" class="s">0</tspan></text>
<text transform="translate(180.4 413.4) scale(.86 1)" class="t" text-anchor="middle">10<tspan dy="-2.6" class="s">1</tspan></text>
<text transform="translate(155.0 384.3) rotate(-90) scale(.86 1)" class="t" text-anchor="middle">10<tspan dy="-2.6" class="s">1</tspan></text>
<text transform="translate(202.2 413.4) scale(.86 1)" class="t" text-anchor="middle">10<tspan dy="-2.6" class="s">2</tspan></text>
<text transform="translate(155.0 363.9) rotate(-90) scale(.86 1)" class="t" text-anchor="middle">10<tspan dy="-2.6" class="s">2</tspan></text>
<text transform="translate(223.9 413.4) scale(.86 1)" class="t" text-anchor="middle">10<tspan dy="-2.6" class="s">3</tspan></text>
<text transform="translate(155.0 343.6) rotate(-90) scale(.86 1)" class="t" text-anchor="middle">10<tspan dy="-2.6" class="s">3</tspan></text>
<text transform="translate(245.6 413.4) scale(.86 1)" class="t" text-anchor="middle">10<tspan dy="-2.6" class="s">4</tspan></text>
<text transform="translate(155.0 323.2) rotate(-90) scale(.86 1)" class="t" text-anchor="middle">10<tspan dy="-2.6" class="s">4</tspan></text>
<text transform="translate(147.9 383.3) rotate(-90)" class="yl" textLength="29.2" lengthAdjust="spacingAndGlyphs">GLYCO PE</text>
<text x="198.7" y="423.0" class="xl" text-anchor="middle">GFP</text>
<text x="229.7" y="336.1" class="pc" text-anchor="middle">8%</text>
<clipPath id="cC1"><rect x="295.1" y="8.5" width="89.60" height="81.90"/></clipPath>
<g clip-path="url(#cC1)">
<path class="d" transform="scale(.5)" d="" stroke="#fff" opacity=".75"/>
<path class="d" transform="scale(.5)" d="M676 40zm-18 10zm14 4zm-28 6zm-31 2zm45 1zm-16 3zm53 0zm-68 1zm-1 1zm118 0zm-116 1zm-1 1zm7 0zm114 1zm-102 1zm-32 1zm82 0zm-53 2zm57 0zm31 0zm-118 2zm26 0zm4 0zm-18 1zm5 0zm5 0zm77 0zm-98 1zm97 0zm-100 1zm10 0zm4 0zm85 0zm27 0zm-111 1zm-35 1zm20 0zm-14 1zm7 0zm3 0zm11 0zm33 0zm48 0zm19 0zm-120 1zm6 0zm13 0zm65 0zm-74 1zm27 0zm78 0zm-113 1zm19 0zm2 0zm124 0zm-141 1zm7 0zm1 0zm13 0zm3 0zm9 0zm67 0zm-64 1zm6 0zm89 0zm-144 1zm15 0zm20 0zm8 0zm18 0zm1 0zm33 0zm25 0zm10 0zm7 0zm-133 1zm8 0zm2 0zm1 0zm6 0zm1 0zm1 0zm7 0zm3 0zm6 0zm7 0zm15 0zm29 0zm10 0zm12 0zm5 0zm-103 1zm2 0zm11 0zm4 0zm1 0zm23 0zm1 0zm64 0zm-120 1zm2 0zm6 0zm12 0zm6 0zm1 0zm3 0zm3 0zm60 0zm4 0zm29 0zm3 0zm29 0zm-158 1zm2 0zm7 0zm8 0zm6 0zm5 0zm2 0zm2 0zm2 0zm3 0zm14 0zm-51 1zm12 0zm6 0zm4 0zm7 0zm5 0zm5 0zm20 0zm54 0zm-107 1zm14 0zm2 0zm3 0zm2 0zm4 0zm3 0zm1 0zm2 0zm2 0zm1 0zm2 0zm2 0zm2 0zm8 0zm63 0zm-113 1zm7 0zm1 0zm5 0zm3 0zm3 0zm1 0zm3 0zm11 0zm4 0zm10 0zm40 0zm21 0zm-113 1zm2 0zm12 0zm4 0zm1 0zm1 0zm2 0zm1 0zm4 0zm6 0zm2 0zm1 0zm7 0zm8 0zm4 0zm5 0zm20 0zm3 0zm33 0zm-116 1zm5 0zm2 0zm3 0zm1 0zm4 0zm2 0zm1 0zm5 0zm2 0zm3 0zm1 0zm1 0zm1 0zm4 0zm10 0zm2 0zm4 0zm64 0zm-115 1zm3 0zm1 0zm1 0zm11 0zm3 0zm5 0zm1 0zm1 0zm2 0zm1 0zm1 0zm1 0zm7 0zm1 0zm3 0zm2 0zm5 0zm11 0zm22 0zm-78 1zm2 0zm1 0zm3 0zm2 0zm3 0zm1 0zm1 0zm1 0zm3 0zm2 0zm1 0zm2 0zm2 0zm2 0zm4 0zm4 0zm8 0zm2 0zm48 0zm2 0zm53 0zm-147 1zm5 0zm2 0zm1 0zm1 0zm2 0zm1 0zm2 0zm1 0zm1 0zm3 0zm6 0zm1 0zm5 0zm1 0zm1 0zm1 0zm5 0zm3 0zm8 0zm5 0zm-59 1zm3 0zm2 0zm1 0zm1 0zm1 0zm1 0zm4 0zm4 0zm4 0zm2 0zm2 0zm1 0zm2 0zm6 0zm1 0zm5 0zm2 0zm12 0zm76 0zm-130 1zm1 0zm2 0zm4 0zm8 0zm1 0zm1 0zm2 0zm1 0zm1 0zm2 0zm3 0zm4 0zm4 0zm1 0zm1 0zm4 0zm2 0zm8 0zm1 0zm1 0zm-52 1zm1 0zm8 0zm4 0zm1 0zm2 0zm3 0zm6 0zm4 0zm1 0zm4 0zm1 0zm2 0zm1 0zm17 0zm25 0zm12 0zm-92 1zm3 0zm6 0zm1 0zm3 0zm1 0zm2 0zm1 0zm1 0zm1 0zm1 0zm1 0zm1 0zm1 0zm3 0zm1 0zm5 0zm2 0zm5 0zm3 0zm4 0zm2 0zm4 0zm3 0zm4 0zm3 0zm10 0zm-72 1zm3 0zm3 0zm5 0zm1 0zm3 0zm1 0zm1 0zm2 0zm2 0zm2 0zm1 0zm1 0zm1 0zm2 0zm1 0zm2 0zm2 0zm3 0zm3 0zm1 0zm6 0zm1 0zm4 0zm2 0zm1 0zm5 0zm12 0zm12 0zm14 0zm16 0zm-113 1zm3 0zm1 0zm1 0zm1 0zm2 0zm1 0zm3 0zm1 0zm1 0zm1 0zm1 0zm1 0zm1 0zm1 0zm3 0zm1 0zm3 0zm1 0zm1 0zm1 0zm1 0zm1 0zm1 0zm4 0zm6 0zm7 0zm5 0zm2 0zm8 0zm18 0zm14 0zm42 0zm-138 1zm2 0zm3 0zm3 0zm2 0zm1 0zm1 0zm1 0zm1 0zm1 0zm2 0zm3 0zm1 0zm1 0zm1 0zm1 0zm1 0zm1 0zm1 0zm1 0zm2 0zm2 0zm2 0zm7 0zm2 0zm2 0zm2 0zm13 0zm-60 1zm2 0zm1 0zm1 0zm1 0zm1 0zm1 0zm2 0zm1 0zm1 0zm3 0zm1 0zm1 0zm1 0zm2 0zm1 0zm1 0zm1 0zm1 0zm1 0zm2 0zm3 0zm1 0zm1 0zm3 0zm1 0zm2 0zm4 0zm3 0zm4 0zm2 0zm4 0zm1 0zm1 0zm2 0zm2 0zm7 0zm6 0zm-73 1zm3 0zm4 0zm3 0zm4 0zm2 0zm1 0zm1 0zm1 0zm1 0zm1 0zm1 0zm2 0zm2 0zm1 0zm3 0zm2 0zm1 0zm1 0zm3 0zm3 0zm1 0zm1 0zm2 0zm1 0zm1 0zm1 0zm5 0zm50 0zm-102 1zm9 0zm1 0zm1 0zm3 0zm1 0zm1 0zm6 0zm1 0zm1 0zm1 0zm2 0zm1 0zm1 0zm2 0zm1 0zm2 0zm1 0zm1 0zm3 0zm1 0zm2 0zm1 0zm3 0zm2 0zm13 0zm-61 1zm1 0zm1 0zm4 0zm3 0zm1 0zm2 0zm1 0zm1 0zm1 0zm1 0zm1 0zm1 0zm1 0zm1 0zm2 0zm2 0zm2 0zm1 0zm2 0zm2 0zm1 0zm2 0zm2 0zm1 0zm2 0zm3 0zm3 0zm2 0zm1 0zm9 0zm7 0zm4 0zm17 0zm21 0zm-106 1zm4 0zm2 0zm1 0zm1 0zm4 0zm5 0zm3 0zm1 0zm2 0zm1 0zm2 0zm3 0zm1 0zm3 0zm1 0zm4 0zm1 0zm1 0zm2 0zm2 0zm2 0zm1 0zm3 0zm1 0zm1 0zm2 0zm5 0zm-59 1zm2 0zm2 0zm1 0zm4 0zm1 0zm1 0zm2 0zm3 0zm1 0zm1 0zm5 0zm1 0zm1 0zm2 0zm1 0zm3 0zm1 0zm1 0zm4 0zm2 0zm2 0zm6 0zm3 0zm2 0zm2 0zm1 0zm14 0zm11 0zm-80 1zm2 0zm8 0zm1 0zm1 0zm1 0zm4 0zm3 0zm3 0zm1 0zm3 0zm3 0zm1 0zm2 0zm1 0zm2 0zm2 0zm3 0zm1 0zm11 0zm1 0zm7 0zm5 0zm21 0zm-87 1zm1 0zm2 0zm2 0zm1 0zm3 0zm1 0zm2 0zm1 0zm5 0zm1 0zm2 0zm1 0zm2 0zm1 0zm2 0zm1 0zm1 0zm1 0zm2 0zm1 0zm2 0zm3 0zm1 0zm1 0zm1 0zm4 0zm1 0zm2 0zm1 0zm3 0zm1 0zm6 0zm5 0zm-64 1zm2 0zm1 0zm1 0zm2 0zm1 0zm1 0zm2 0zm3 0zm1 0zm1 0zm2 0zm1 0zm1 0zm4 0zm2 0zm5 0zm1 0zm2 0zm1 0zm3 0zm2 0zm2 0zm2 0zm4 0zm2 0zm3 0zm9 0zm-59 1zm3 0zm1 0zm7 0zm1 0zm1 0zm2 0zm3 0zm1 0zm3 0zm1 0zm1 0zm1 0zm2 0zm1 0zm1 0zm1 0zm2 0zm2 0zm1 0zm8 0zm7 0zm-52 1zm1 0zm2 0zm2 0zm1 0zm2 0zm1 0zm3 0zm1 0zm1 0zm4 0zm1 0zm1 0zm1 0zm1 0zm1 0zm1 0zm3 0zm1 0zm4 0zm3 0zm1 0zm1 0zm1 0zm1 0zm1 0zm2 0zm4 0zm4 0zm4 0zm10 0zm-64 1zm3 0zm2 0zm2 0zm4 0zm1 0zm1 0zm3 0zm1 0zm1 0zm1 0zm2 0zm1 0zm1 0zm1 0zm5 0zm3 0zm1 0zm1 0zm1 0zm1 0zm6 0zm4 0zm4 0zm9 0zm2 0zm-61 1zm5 0zm1 0zm2 0zm2 0zm1 0zm1 0zm1 0zm1 0zm2 0zm1 0zm2 0zm1 0zm3 0zm1 0zm1 0zm1 0zm1 0zm1 0zm2 0zm3 0zm5 0zm1 0zm2 0zm4 0zm1 0zm3 0zm5 0zm3 0zm15 0zm-72 1zm2 0zm2 0zm4 0zm2 0zm1 0zm1 0zm1 0zm1 0zm1 0zm1 0zm2 0zm1 0zm2 0zm1 0zm2 0zm3 0zm1 0zm1 0zm1 0zm1 0zm1 0zm1 0zm2 0zm1 0zm2 0zm1 0zm1 0zm7 0zm5 0zm-52 1zm1 0zm1 0zm2 0zm3 0zm1 0zm2 0zm2 0zm1 0zm3 0zm1 0zm1 0zm1 0zm1 0zm1 0zm1 0zm1 0zm1 0zm1 0zm1 0zm2 0zm1 0zm1 0zm1 0zm1 0zm1 0zm2 0zm4 0zm1 0zm1 0zm1 0zm1 0zm5 0zm18 0zm-66 1zm5 0zm1 0zm1 0zm3 0zm1 0zm1 0zm1 0zm2 0zm2 0zm1 0zm1 0zm1 0zm1 0zm3 0zm1 0zm1 0zm1 0zm1 0zm1 0zm1 0zm3 0zm1 0zm1 0zm2 0zm2 0zm4 0zm1 0zm5 0zm4 0zm4 0zm4 0zm-61 1zm3 0zm4 0zm3 0zm1 0zm2 0zm1 0zm1 0zm1 0zm1 0zm1 0zm3 0zm1 0zm1 0zm1 0zm2 0zm3 0zm3 0zm2 0zm1 0zm1 0zm3 0zm1 0zm2 0zm5 0zm5 0zm4 0zm-56 1zm1 0zm1 0zm2 0zm1 0zm1 0zm1 0zm2 0zm1 0zm2 0zm2 0zm4 0zm1 0zm1 0zm1 0zm1 0zm1 0zm2 0zm2 0zm1 0zm1 0zm1 0zm2 0zm2 0zm1 0zm1 0zm2 0zm1 0zm3 0zm1 0zm4 0zm3 0zm5 0zm3 0zm1 0zm2 0zm3 0zm-64 1zm1 0zm2 0zm3 0zm4 0zm1 0zm1 0zm1 0zm1 0zm1 0zm1 0zm1 0zm2 0zm1 0zm1 0zm3 0zm1 0zm1 0zm3 0zm1 0zm1 0zm1 0zm2 0zm1 0zm1 0zm2 0zm2 0zm4 0zm13 0zm1 0zm-58 1zm2 0zm1 0zm2 0zm4 0zm1 0zm1 0zm1 0zm1 0zm4 0zm1 0zm1 0zm1 0zm2 0zm2 0zm1 0zm1 0zm1 0zm1 0zm3 0zm1 0zm2 0zm2 0zm1 0zm2 0zm1 0zm5 0zm1 0zm2 0zm5 0zm2 0zm7 0zm5 0zm-67 1zm1 0zm2 0zm1 0zm1 0zm2 0zm1 0zm1 0zm2 0zm2 0zm1 0zm2 0zm1 0zm1 0zm1 0zm1 0zm1 0zm2 0zm1 0zm1 0zm1 0zm1 0zm1 0zm1 0zm5 0zm1 0zm4 0zm1 0zm2 0zm3 0zm1 0zm1 0zm18 0zm-65 1zm1 0zm1 0zm1 0zm1 0zm1 0zm2 0zm1 0zm1 0zm1 0zm1 0zm1 0zm1 0zm2 0zm1 0zm1 0zm1 0zm2 0zm3 0zm1 0zm1 0zm1 0zm1 0zm5 0zm1 0zm2 0zm1 0zm4 0zm1 0zm1 0zm4 0zm3 0zm1 0zm7 0zm-57 1zm1 0zm1 0zm2 0zm2 0zm1 0zm3 0zm1 0zm1 0zm2 0zm1 0zm1 0zm1 0zm1 0zm1 0zm1 0zm1 0zm3 0zm1 0zm1 0zm1 0zm1 0zm2 0zm1 0zm2 0zm1 0zm1 0zm4 0zm3 0zm1 0zm3 0zm1 0zm2 0zm-49 1zm1 0zm3 0zm1 0zm2 0zm1 0zm1 0zm1 0zm1 0zm2 0zm2 0zm2 0zm2 0zm1 0zm1 0zm1 0zm1 0zm1 0zm2 0zm1 0zm5 0zm1 0zm1 0zm1 0zm3 0zm3 0zm1 0zm2 0zm3 0zm6 0zm6 0zm-59 1zm2 0zm1 0zm1 0zm1 0zm1 0zm2 0zm1 0zm1 0zm1 0zm1 0zm1 0zm1 0zm1 0zm1 0zm1 0zm1 0zm1 0zm4 0zm1 0zm1 0zm1 0zm3 0zm2 0zm1 0zm2 0zm1 0zm1 0zm1 0zm1 0zm1 0zm4 0zm5 0zm12 0zm-60 1zm1 0zm1 0zm1 0zm1 0zm1 0zm1 0zm2 0zm2 0zm1 0zm1 0zm1 0zm1 0zm2 0zm1 0zm1 0zm1 0zm1 0zm1 0zm3 0zm2 0zm1 0zm1 0zm1 0zm1 0zm1 0zm1 0zm1 0zm1 0zm1 0zm1 0zm2 0zm2 0zm2 0zm2 0zm1 0zm1 0zm6 0zm15 0zm4 0zm-71 1zm1 0zm1 0zm1 0zm1 0zm1 0zm2 0zm1 0zm2 0zm2 0zm1 0zm1 0zm2 0zm1 0zm1 0zm1 0zm1 0zm1 0zm1 0zm1 0zm2 0zm1 0zm3 0zm1 0zm1 0zm1 0zm2 0zm1 0zm1 0zm1 0zm2 0zm7 0zm7 0zm-53 1zm1 0zm1 0zm3 0zm2 0zm1 0zm1 0zm1 0zm2 0zm1 0zm2 0zm1 0zm1 0zm2 0zm1 0zm2 0zm2 0zm1 0zm2 0zm1 0zm1 0zm1 0zm1 0zm1 0zm1 0zm1 0zm1 0zm2 0zm1 0zm3 0zm1 0zm1 0zm1 0zm3 0zm8 0zm2 0zm11 0zm-68 1zm1 0zm3 0zm1 0zm2 0zm1 0zm2 0zm2 0zm1 0zm1 0zm1 0zm2 0zm1 0zm1 0zm1 0zm1 0zm1 0zm1 0zm1 0zm1 0zm1 0zm1 0zm1 0zm2 0zm1 0zm1 0zm2 0zm1 0zm1 0zm1 0zm1 0zm2 0zm4 0zm5 0zm5 0zm23 0zm-77 1zm3 0zm1 0zm1 0zm1 0zm4 0zm1 0zm1 0zm1 0zm1 0zm1 0zm1 0zm1 0zm1 0zm1 0zm1 0zm1 0zm2 0zm3 0zm1 0zm1 0zm2 0zm1 0zm1 0zm1 0zm2 0zm3 0zm1 0zm2 0zm3 0zm1 0zm3 0zm3 0zm-51 1zm1 0zm1 0zm1 0zm1 0zm1 0zm1 0zm1 0zm1 0zm2 0zm1 0zm2 0zm1 0zm1 0zm1 0zm1 0zm1 0zm1 0zm1 0zm1 0zm1 0zm1 0zm2 0zm3 0zm2 0zm1 0zm1 0zm1 0zm4 0zm2 0zm2 0zm2 0zm1 0zm1 0zm1 0zm-46 1zm1 0zm1 0zm1 0zm3 0zm1 0zm1 0zm1 0zm1 0zm1 0zm2 0zm2 0zm1 0zm1 0zm1 0zm1 0zm1 0zm1 0zm1 0zm1 0zm1 0zm2 0zm1 0zm2 0zm2 0zm1 0zm1 0zm1 0zm1 0zm1 0zm1 0zm1 0zm1 0zm1 0zm2 0zm1 0zm5 0zm10 0zm-58 1zm1 0zm3 0zm1 0zm1 0zm1 0zm1 0zm1 0zm1 0zm1 0zm2 0zm1 0zm1 0zm1 0zm1 0zm1 0zm1 0zm1 0zm1 0zm2 0zm1 0zm1 0zm1 0zm1 0zm1 0zm1 0zm1 0zm1 0zm1 0zm2 0zm1 0zm1 0zm1 0zm2 0zm1 0zm3 0zm1 0zm1 0zm1 0zm2 0zm5 0zm8 0zm-61 1zm3 0zm1 0zm2 0zm1 0zm1 0zm2 0zm1 0zm1 0zm1 0zm1 0zm1 0zm1 0zm1 0zm1 0zm1 0zm1 0zm1 0zm1 0zm1 0zm3 0zm2 0zm1 0zm1 0zm2 0zm1 0zm1 0zm1 0zm2 0zm1 0zm2 0zm2 0zm1 0zm9 0zm1 0zm12 0zm-65 1zm1 0zm1 0zm1 0zm1 0zm1 0zm1 0zm2 0zm1 0zm1 0zm1 0zm1 0zm2 0zm1 0zm2 0zm1 0zm1 0zm1 0zm1 0zm2 0zm1 0zm1 0zm2 0zm2 0zm1 0zm1 0zm2 0zm1 0zm1 0zm1 0zm1 0zm1 0zm1 0zm1 0zm3 0zm2 0zm1 0zm4 0zm5 0zm-55 1zm1 0zm2 0zm2 0zm1 0zm1 0zm1 0zm1 0zm2 0zm1 0zm1 0zm2 0zm2 0zm1 0zm2 0zm1 0zm1 0zm2 0zm1 0zm1 0zm1 0zm1 0zm1 0zm1 0zm1 0zm1 0zm1 0zm1 0zm1 0zm1 0zm1 0zm1 0zm1 0zm1 0zm2 0zm1 0zm1 0zm3 0zm3 0zm11 0zm-61 1zm1 0zm2 0zm1 0zm1 0zm1 0zm1 0zm1 0zm2 0zm1 0zm1 0zm1 0zm1 0zm1 0zm1 0zm1 0zm1 0zm1 0zm1 0zm1 0zm1 0zm2 0zm1 0zm1 0zm1 0zm1 0zm2 0zm1 0zm1 0zm1 0zm1 0zm2 0zm1 0zm1 0zm1 0zm1 0zm1 0zm2 0zm1 0zm1 0zm4 0zm2 0zm-51 1zm1 0zm1 0zm3 0zm2 0zm1 0zm1 0zm1 0zm1 0zm1 0zm1 0zm1 0zm1 0zm1 0zm1 0zm1 0zm1 0zm1 0zm1 0zm1 0zm1 0zm1 0zm1 0zm1 0zm1 0zm1 0zm1 0zm1 0zm1 0zm1 0zm2 0zm3 0zm1 0zm1 0zm1 0zm1 0zm2 0zm1 0zm2 0zm1 0zm1 0zm6 0zm-54 1zm1 0zm1 0zm1 0zm1 0zm1 0zm1 0zm1 0zm1 0zm1 0zm1 0zm1 0zm2 0zm1 0zm1 0zm1 0zm1 0zm1 0zm1 0zm1 0zm1 0zm1 0zm1 0zm1 0zm1 0zm2 0zm1 0zm1 0zm1 0zm1 0zm1 0zm1 0zm1 0zm1 0zm1 0zm2 0zm2 0zm1 0zm1 0zm2 0zm1 0zm2 0zm4 0zm1 0zm1 0zm-53 1zm1 0zm1 0zm2 0zm1 0zm2 0zm1 0zm1 0zm1 0zm1 0zm1 0zm1 0zm1 0zm1 0zm1 0zm1 0zm1 0zm1 0zm1 0zm1 0zm1 0zm1 0zm1 0zm1 0zm1 0zm1 0zm2 0zm1 0zm1 0zm1 0zm1 0zm1 0zm1 0zm1 0zm1 0zm1 0zm1 0zm1 0zm1 0zm2 0zm1 0zm2 0zm1 0zm5 0zm1 0zm5 0zm2 0zm-60 1zm1 0zm1 0zm2 0zm1 0zm1 0zm1 0zm1 0zm1 0zm1 0zm1 0zm1 0zm1 0zm1 0zm1 0zm2 0zm1 0zm1 0zm1 0zm2 0zm1 0zm1 0zm1 0zm1 0zm1 0zm1 0zm1 0zm1 0zm1 0zm1 0zm2 0zm1 0zm2 0zm1 0zm1 0zm1 0zm3 0zm3 0zm1 0zm3 0zm3 0zm-53 1zm2 0zm1 0zm1 0zm1 0zm2 0zm1 0zm1 0zm1 0zm2 0zm1 0zm1 0zm1 0zm1 0zm1 0zm1 0zm1 0zm2 0zm1 0zm1 0zm1 0zm1 0zm1 0zm2 0zm4 0zm1 0zm1 0zm1 0zm1 0zm1 0zm1 0zm2 0zm2 0zm17 0zm78 0zm-137 1zm1 0zm1 0zm1 0zm2 0zm1 0zm1 0zm1 0zm2 0zm1 0zm1 0zm2 0zm1 0zm1 0zm1 0zm1 0zm1 0zm1 0zm1 0zm1 0zm1 0zm1 0zm2 0zm2 0zm1 0zm1 0zm1 0zm2 0zm1 0zm3 0zm1 0zm2 0zm1 0zm1 0zm4 0zm3 0zm19 0zm-68 1zm1 0zm1 0zm1 0zm1 0zm1 0zm1 0zm1 0zm1 0zm1 0zm1 0zm1 0zm1 0zm1 0zm1 0zm1 0zm1 0zm1 0zm1 0zm1 0zm1 0zm1 0zm1 0zm1 0zm2 0zm1 0zm1 0zm2 0zm1 0zm1 0zm1 0zm2 0zm3 0zm1 0zm5 0zm1 0zm1 0zm1 0zm2 0zm2 0zm9 0zm-59 1zm1 0zm2 0zm1 0zm1 0zm1 0zm2 0zm1 0zm1 0zm2 0zm1 0zm1 0zm1 0zm1 0zm1 0zm1 0zm1 0zm1 0zm1 0zm1 0zm1 0zm1 0zm1 0zm1 0zm1 0zm1 0zm1 0zm1 0zm1 0zm1 0zm2 0zm1 0zm1 0zm2 0zm1 0zm1 0zm4 0zm1 0zm4 0zm-49 1zm1 0zm1 0zm1 0zm2 0zm2 0zm1 0zm2 0zm1 0zm1 0zm2 0zm1 0zm1 0zm1 0zm1 0zm1 0zm1 0zm1 0zm1 0zm1 0zm1 0zm2 0zm1 0zm1 0zm1 0zm1 0zm1 0zm1 0zm1 0zm1 0zm2 0zm2 0zm2 0zm1 0zm2 0zm1 0zm1 0zm3 0zm1 0zm11 0zm2 0zm-62 1zm2 0zm1 0zm1 0zm1 0zm1 0zm1 0zm1 0zm1 0zm1 0zm1 0zm1 0zm1 0zm1 0zm1 0zm1 0zm1 0zm1 0zm1 0zm1 0zm2 0zm1 0zm2 0zm1 0zm1 0zm1 0zm2 0zm2 0zm1 0zm1 0zm1 0zm1 0zm1 0zm1 0zm1 0zm2 0zm1 0zm2 0zm23 0zm-67 1zm1 0zm1 0zm1 0zm1 0zm1 0zm1 0zm2 0zm1 0zm1 0zm1 0zm1 0zm1 0zm1 0zm1 0zm1 0zm1 0zm1 0zm1 0zm1 0zm1 0zm1 0zm1 0zm1 0zm1 0zm1 0zm1 0zm1 0zm1 0zm1 0zm1 0zm1 0zm2 0zm2 0zm1 0zm1 0zm3 0zm3 0zm5 0zm2 0zm1 0zm1 0zm1 0zm7 0zm-61 1zm1 0zm1 0zm1 0zm1 0zm3 0zm1 0zm1 0zm1 0zm1 0zm1 0zm1 0zm1 0zm1 0zm1 0zm1 0zm1 0zm1 0zm1 0zm1 0zm2 0zm1 0zm1 0zm1 0zm1 0zm2 0zm1 0zm1 0zm1 0zm1 0zm1 0zm2 0zm1 0zm4 0zm2 0zm7 0zm5 0zm-55 1zm1 0zm1 0zm1 0zm1 0zm1 0zm2 0zm1 0zm1 0zm1 0zm1 0zm1 0zm2 0zm1 0zm1 0zm1 0zm1 0zm1 0zm1 0zm1 0zm1 0zm1 0zm1 0zm1 0zm1 0zm1 0zm1 0zm1 0zm1 0zm2 0zm2 0zm1 0zm1 0zm1 0zm2 0zm3 0zm1 0zm5 0zm1 0zm2 0zm-51 1zm1 0zm1 0zm1 0zm1 0zm1 0zm1 0zm1 0zm1 0zm1 0zm1 0zm1 0zm1 0zm1 0zm1 0zm1 0zm1 0zm1 0zm1 0zm1 0zm1 0zm1 0zm1 0zm2 0zm1 0zm1 0zm1 0zm1 0zm2 0zm1 0zm1 0zm1 0zm1 0zm2 0zm1 0zm1 0zm3 0zm1 0zm2 0zm1 0zm1 0zm3 0zm5 0zm1 0zm-55 1zm1 0zm1 0zm1 0zm1 0zm1 0zm1 0zm1 0zm1 0zm1 0zm1 0zm1 0zm1 0zm1 0zm1 0zm1 0zm1 0zm1 0zm1 0zm1 0zm1 0zm1 0zm1 0zm1 0zm1 0zm1 0zm1 0zm1 0zm1 0zm1 0zm1 0zm4 0zm2 0zm1 0zm1 0zm1 0zm4 0zm1 0zm6 0zm3 0zm12 0zm-65 1zm2 0zm1 0zm1 0zm1 0zm1 0zm1 0zm1 0zm1 0zm1 0zm1 0zm1 0zm1 0zm1 0zm2 0zm1 0zm1 0zm1 0zm1 0zm2 0zm1 0zm1 0zm1 0zm1 0zm1 0zm1 0zm1 0zm2 0zm1 0zm1 0zm1 0zm1 0zm1 0zm1 0zm2 0zm1 0zm1 0zm1 0zm1 0zm1 0zm1 0zm3 0zm3 0zm-51 1zm1 0zm1 0zm1 0zm2 0zm1 0zm1 0zm1 0zm1 0zm2 0zm1 0zm1 0zm1 0zm1 0zm2 0zm1 0zm1 0zm1 0zm1 0zm1 0zm1 0zm1 0zm1 0zm1 0zm1 0zm2 0zm1 0zm1 0zm1 0zm1 0zm1 0zm2 0zm2 0zm1 0zm2 0zm6 0zm1 0zm3 0zm1 0zm2 0zm11 0zm-65 1zm1 0zm1 0zm1 0zm1 0zm1 0zm1 0zm1 0zm1 0zm1 0zm1 0zm1 0zm1 0zm1 0zm2 0zm1 0zm1 0zm1 0zm1 0zm1 0zm2 0zm2 0zm1 0zm1 0zm1 0zm1 0zm1 0zm1 0zm1 0zm2 0zm3 0zm1 0zm1 0zm4 0zm2 0zm13 0zm-57 1zm1 0zm1 0zm1 0zm4 0zm1 0zm1 0zm1 0zm1 0zm1 0zm1 0zm1 0zm1 0zm2 0zm1 0zm1 0zm1 0zm1 0zm1 0zm1 0zm1 0zm1 0zm1 0zm3 0zm2 0zm1 0zm1 0zm1 0zm1 0zm1 0zm1 0zm1 0zm2 0zm1 0zm1 0zm1 0zm1 0zm3 0zm1 0zm-48 1zm1 0zm1 0zm1 0zm1 0zm1 0zm1 0zm1 0zm1 0zm1 0zm1 0zm2 0zm2 0zm1 0zm1 0zm1 0zm1 0zm1 0zm1 0zm1 0zm1 0zm1 0zm1 0zm1 0zm1 0zm1 0zm1 0zm1 0zm1 0zm1 0zm2 0zm1 0zm1 0zm1 0zm1 0zm10 0zm11 0zm-58 1zm1 0zm1 0zm1 0zm1 0zm1 0zm1 0zm2 0zm2 0zm1 0zm1 0zm1 0zm1 0zm1 0zm1 0zm1 0zm1 0zm1 0zm1 0zm1 0zm1 0zm1 0zm1 0zm1 0zm2 0zm1 0zm1 0zm2 0zm2 0zm2 0zm1 0zm1 0zm1 0zm3 0zm1 0zm1 0zm2 0zm6 0zm3 0zm-54 1zm1 0zm1 0zm1 0zm2 0zm2 0zm1 0zm1 0zm1 0zm2 0zm1 0zm1 0zm2 0zm1 0zm1 0zm1 0zm1 0zm1 0zm1 0zm1 0zm1 0zm1 0zm2 0zm1 0zm1 0zm1 0zm1 0zm2 0zm2 0zm2 0zm2 0zm3 0zm1 0zm2 0zm4 0zm-49 1zm1 0zm1 0zm1 0zm1 0zm1 0zm1 0zm1 0zm1 0zm1 0zm1 0zm2 0zm1 0zm1 0zm1 0zm1 0zm1 0zm1 0zm1 0zm1 0zm1 0zm1 0zm1 0zm1 0zm2 0zm1 0zm1 0zm1 0zm2 0zm1 0zm1 0zm1 0zm1 0zm1 0zm1 0zm2 0zm2 0zm12 0zm-53 1zm1 0zm2 0zm1 0zm4 0zm1 0zm1 0zm1 0zm1 0zm1 0zm2 0zm1 0zm1 0zm1 0zm1 0zm3 0zm1 0zm1 0zm1 0zm1 0zm2 0zm2 0zm1 0zm3 0zm2 0zm1 0zm2 0zm2 0zm17 0zm-58 1zm1 0zm1 0zm1 0zm1 0zm1 0zm1 0zm1 0zm1 0zm1 0zm1 0zm1 0zm1 0zm1 0zm1 0zm1 0zm1 0zm1 0zm1 0zm1 0zm1 0zm1 0zm1 0zm1 0zm1 0zm1 0zm1 0zm1 0zm2 0zm1 0zm1 0zm1 0zm2 0zm1 0zm1 0zm4 0zm3 0zm2 0zm2 0zm-47 1zm1 0zm2 0zm1 0zm2 0zm1 0zm1 0zm2 0zm1 0zm1 0zm1 0zm1 0zm2 0zm1 0zm1 0zm1 0zm1 0zm2 0zm1 0zm3 0zm1 0zm2 0zm2 0zm1 0zm1 0zm1 0zm2 0zm2 0zm2 0zm3 0zm-43 1zm1 0zm2 0zm1 0zm1 0zm1 0zm1 0zm3 0zm1 0zm1 0zm2 0zm1 0zm1 0zm1 0zm1 0zm3 0zm1 0zm2 0zm2 0zm1 0zm1 0zm2 0zm1 0zm1 0zm1 0zm1 0zm3 0zm6 0zm16 0zm-59 1zm2 0zm1 0zm2 0zm2 0zm2 0zm1 0zm1 0zm1 0zm2 0zm1 0zm1 0zm1 0zm1 0zm1 0zm1 0zm2 0zm3 0zm1 0zm1 0zm2 0zm1 0zm1 0zm5 0zm2 0zm4 0zm1 0zm1 0zm6 0zm-50 1zm2 0zm2 0zm2 0zm1 0zm1 0zm1 0zm1 0zm1 0zm1 0zm1 0zm3 0zm1 0zm1 0zm1 0zm1 0zm2 0zm1 0zm1 0zm2 0zm1 0zm2 0zm1 0zm1 0zm1 0zm2 0zm5 0zm1 0zm2 0zm4 0zm21 0zm-67 1zm1 0zm2 0zm2 0zm1 0zm1 0zm1 0zm1 0zm1 0zm2 0zm1 0zm1 0zm1 0zm2 0zm1 0zm1 0zm1 0zm1 0zm1 0zm1 0zm1 0zm1 0zm3 0zm1 0zm2 0zm2 0zm3 0zm3 0zm7 0zm2 0zm3 0zm8 0zm-59 1zm1 0zm2 0zm1 0zm2 0zm2 0zm1 0zm2 0zm2 0zm1 0zm1 0zm2 0zm2 0zm1 0zm3 0zm2 0zm2 0zm4 0zm1 0zm1 0zm1 0zm1 0zm1 0zm1 0zm2 0zm1 0zm2 0zm1 0zm1 0zm5 0zm-49 1zm1 0zm2 0zm1 0zm1 0zm3 0zm1 0zm1 0zm1 0zm1 0zm1 0zm1 0zm1 0zm1 0zm1 0zm1 0zm1 0zm1 0zm2 0zm1 0zm4 0zm2 0zm3 0zm2 0zm1 0zm1 0zm1 0zm3 0zm7 0zm4 0zm-51 1zm1 0zm1 0zm2 0zm2 0zm1 0zm1 0zm5 0zm4 0zm2 0zm1 0zm1 0zm1 0zm1 0zm1 0zm1 0zm3 0zm1 0zm1 0zm1 0zm2 0zm3 0zm2 0zm7 0zm1 0zm2 0zm-48 1zm4 0zm2 0zm4 0zm1 0zm2 0zm1 0zm3 0zm1 0zm2 0zm2 0zm2 0zm1 0zm1 0zm1 0zm3 0zm5 0zm3 0zm8 0zm-46 1zm1 0zm1 0zm1 0zm1 0zm1 0zm1 0zm1 0zm1 0zm1 0zm1 0zm1 0zm1 0zm1 0zm1 0zm1 0zm1 0zm1 0zm1 0zm1 0zm1 0zm1 0zm1 0zm1 0zm1 0zm1 0zm1 0zm1 0zm2 0zm1 0zm1 0zm1 0zm1 0zm1 0zm1 0zm1 0zm1 0zm1 0zm1 0zm1 0zm1 0zm2 0zm1 0zm1 0zm1 0zm1 0zm2 0zm2 0zm1 0zm1 0zm10 0zm1 0z" stroke="#000"/>
</g>
<rect x="295.1" y="8.5" width="89.60" height="81.90" fill="none" stroke="#1a1a1a" stroke-width="1.3"/>
<path d="M331.5 8.5V90.4M295.1 58H384.7" stroke="#1a1a1a" stroke-width="1.3" fill="none"/>
<path d="M295.1 90.4v2.6M295.1 90.4h-2.6M301.8 90.4v1.5M295.1 84.2h-1.5M305.8 90.4v1.5M295.1 80.6h-1.5M308.6 90.4v1.5M295.1 78.1h-1.5M310.8 90.4v1.5M295.1 76.1h-1.5M312.5 90.4v1.5M295.1 74.5h-1.5M314.0 90.4v1.5M295.1 73.1h-1.5M315.3 90.4v1.5M295.1 71.9h-1.5M316.5 90.4v1.5M295.1 70.9h-1.5M317.5 90.4v2.6M295.1 69.9h-2.6M324.2 90.4v1.5M295.1 63.8h-1.5M328.2 90.4v1.5M295.1 60.2h-1.5M331.0 90.4v1.5M295.1 57.6h-1.5M333.2 90.4v1.5M295.1 55.6h-1.5M334.9 90.4v1.5M295.1 54.0h-1.5M336.4 90.4v1.5M295.1 52.6h-1.5M337.7 90.4v1.5M295.1 51.4h-1.5M338.9 90.4v1.5M295.1 50.4h-1.5M339.9 90.4v2.6M295.1 49.5h-2.6M346.6 90.4v1.5M295.1 43.3h-1.5M350.6 90.4v1.5M295.1 39.7h-1.5M353.4 90.4v1.5M295.1 37.1h-1.5M355.6 90.4v1.5M295.1 35.1h-1.5M357.3 90.4v1.5M295.1 33.5h-1.5M358.8 90.4v1.5M295.1 32.1h-1.5M360.1 90.4v1.5M295.1 31.0h-1.5M361.3 90.4v1.5M295.1 29.9h-1.5M362.3 90.4v2.6M295.1 29.0h-2.6M369.0 90.4v1.5M295.1 22.8h-1.5M373.0 90.4v1.5M295.1 19.2h-1.5M375.8 90.4v1.5M295.1 16.6h-1.5M378.0 90.4v1.5M295.1 14.7h-1.5M379.7 90.4v1.5M295.1 13.0h-1.5M381.2 90.4v1.5M295.1 11.7h-1.5M382.5 90.4v1.5M295.1 10.5h-1.5M383.7 90.4v1.5M295.1 9.4h-1.5M384.7 90.4v2.6M295.1 8.5h-2.6" stroke="#111" stroke-width="0.7" fill="none"/>
<text transform="translate(295.2 99.6) scale(.86 1)" class="t" text-anchor="middle">10<tspan dy="-2.6" class="s">0</tspan></text>
<text transform="translate(291.5 90.9) rotate(-90) scale(.86 1)" class="t" text-anchor="middle">10<tspan dy="-2.6" class="s">0</tspan></text>
<text transform="translate(317.6 99.6) scale(.86 1)" class="t" text-anchor="middle">10<tspan dy="-2.6" class="s">1</tspan></text>
<text transform="translate(291.5 70.4) rotate(-90) scale(.86 1)" class="t" text-anchor="middle">10<tspan dy="-2.6" class="s">1</tspan></text>
<text transform="translate(340.0 99.6) scale(.86 1)" class="t" text-anchor="middle">10<tspan dy="-2.6" class="s">2</tspan></text>
<text transform="translate(291.5 50.0) rotate(-90) scale(.86 1)" class="t" text-anchor="middle">10<tspan dy="-2.6" class="s">2</tspan></text>
<text transform="translate(362.4 99.6) scale(.86 1)" class="t" text-anchor="middle">10<tspan dy="-2.6" class="s">3</tspan></text>
<text transform="translate(291.5 29.5) rotate(-90) scale(.86 1)" class="t" text-anchor="middle">10<tspan dy="-2.6" class="s">3</tspan></text>
<text transform="translate(384.8 99.6) scale(.86 1)" class="t" text-anchor="middle">10<tspan dy="-2.6" class="s">4</tspan></text>
<text transform="translate(291.5 9.0) rotate(-90) scale(.86 1)" class="t" text-anchor="middle">10<tspan dy="-2.6" class="s">4</tspan></text>
<text transform="translate(284.4 61.5) rotate(-90)" class="yl" textLength="16.2" lengthAdjust="spacingAndGlyphs">CD45 TC</text>
<text x="336.5" y="109.2" class="xl" text-anchor="middle">GFP</text>
<text x="370.7" y="21.0" class="pc" text-anchor="middle">17%</text>
<clipPath id="cC2"><rect x="426.4" y="5.2" width="87.10" height="84.80"/></clipPath>
<g clip-path="url(#cC2)">
<polygon points="439.1,71.3 441.5,71.6 443.8,72.6 445.7,74.1 447.2,76.0 448.2,78.3 448.5,80.7 448.5,96.6 448.2,99.0 447.2,101.3 445.7,103.2 443.8,104.7 441.5,105.7 439.1,106.0 423.0,106.0 420.6,105.7 418.3,104.7 416.4,103.2 414.9,101.3 413.9,99.0 413.6,96.6 413.6,80.7 413.9,78.3 414.9,76.0 416.4,74.1 418.3,72.6 420.6,71.6 423.0,71.3" fill="#000" filter="url(#b)"/>
<path class="d" transform="scale(.5)" d="M884 148zm-20 16zm28 2zm-3 9z" stroke="#fff" opacity=".75"/>
<path class="d" transform="scale(.5)" d="M915 36zm0 13zm2 2zm-5 1zm4 0zm0 2zm59 22zm-80 1zm54 0zm-51 1zm1 3zm-3 2zm-15 1zm17 0zm-36 1zm33 1zm-26 1zm9 0zm55 2zm-42 1zm-27 1zm37 0zm-47 1zm33 0zm10 0zm24 0zm-41 1zm33 0zm16 0zm-62 1zm13 0zm9 0zm37 0zm-72 1zm14 0zm6 0zm5 0zm19 0zm62 0zm-79 1zm-2 1zm7 0zm20 0zm51 0zm-86 1zm8 0zm-4 1zm10 0zm-5 1zm28 0zm67 0zm8 0zm-126 1zm33 0zm1 0zm5 0zm1 0zm80 0zm-123 1zm3 0zm19 0zm9 0zm8 0zm19 0zm31 0zm-89 1zm13 0zm23 0zm26 0zm-52 1zm22 0zm10 0zm12 0zm-52 1zm53 0zm-29 1zm-3 1zm6 0zm19 0zm34 0zm23 0zm-73 1zm14 0zm-46 1zm21 0zm7 0zm16 0zm12 0zm-6 1zm30 0zm-80 1zm40 0zm36 0zm20 0zm6 0zm-68 1zm3 0zm-12 1zm14 0zm8 0zm41 0zm-43 1zm63 0zm-58 1zm3 0zm2 0zm-33 1zm48 0zm-26 1zm67 0zm6 0zm-93 1zm10 0zm21 0zm38 0zm15 0zm-78 1zm15 0zm5 0zm8 0zm-25 1zm1 0zm8 0zm5 0zm1 0zm5 0zm38 0zm-67 1zm7 0zm1 0zm4 0zm6 0zm1 0zm2 0zm1 0zm2 0zm9 0zm1 0zm-22 1zm25 0zm7 0zm24 0zm16 0zm-86 1zm10 0zm3 0zm3 0zm1 0zm1 0zm6 0zm36 0zm-78 1zm24 0zm5 0zm6 0zm1 0zm4 0zm1 0zm9 0zm2 0zm-28 1zm11 0zm3 0zm1 0zm7 0zm8 0zm1 0zm-41 1zm5 0zm6 0zm1 0zm6 0zm9 0zm14 0zm31 0zm-79 1zm17 0zm5 0zm2 0zm5 0zm3 0zm9 0zm69 0zm-92 1zm5 0zm5 0zm8 0zm4 0zm3 0zm34 0zm-88 1zm7 0zm15 0zm1 0zm4 0zm4 0zm5 0zm6 0zm7 0zm35 0zm-71 1zm9 0zm9 0zm1 0zm2 0zm-23 1zm4 0zm1 0zm2 0zm3 0zm3 0zm2 0zm1 0zm4 0zm2 0zm3 0zm7 0zm1 0zm82 0zm19 0zm-145 1zm8 0zm2 0zm3 0zm12 0zm4 0zm2 0zm1 0zm2 0zm6 0zm42 0zm-82 1zm3 0zm4 0zm6 0zm1 0zm7 0zm2 0zm2 0zm7 0zm1 0zm3 0zm-36 1zm1 0zm1 0zm4 0zm7 0zm3 0zm4 0zm2 0zm2 0zm3 0zm1 0zm1 0zm3 0zm1 0zm3 0zm1 0zm5 0zm1 0zm1 0zm1 0zm3 0zm46 0zm46 0zm-140 1zm2 0zm1 0zm1 0zm4 0zm6 0zm2 0zm1 0zm1 0zm1 0zm2 0zm3 0zm1 0zm2 0zm3 0zm1 0zm1 0zm5 0zm8 0zm6 0zm-51 1zm6 0zm2 0zm1 0zm3 0zm3 0zm2 0zm2 0zm1 0zm1 0zm2 0zm1 0zm1 0zm3 0zm4 0zm4 0zm3 0zm8 0zm57 0zm3 0zm-107 1zm4 0zm3 0zm4 0zm1 0zm2 0zm4 0zm1 0zm1 0zm2 0zm1 0zm2 0zm2 0zm1 0zm5 0zm6 0zm5 0zm44 0zm-88 1zm2 0zm2 0zm1 0zm1 0zm1 0zm4 0zm2 0zm2 0zm3 0zm1 0zm1 0zm1 0zm3 0zm1 0zm1 0zm1 0zm2 0zm1 0zm1 0zm1 0zm1 0zm91 0zm-124 1zm4 0zm1 0zm1 0zm1 0zm4 0zm2 0zm1 0zm3 0zm2 0zm6 0zm2 0zm2 0zm2 0zm1 0zm4 0zm7 0zm51 0zm-94 1zm1 0zm1 0zm1 0zm2 0zm1 0zm3 0zm1 0zm4 0zm2 0zm5 0zm1 0zm3 0zm1 0zm1 0zm3 0zm1 0zm2 0zm-33 1zm1 0zm1 0zm1 0zm1 0zm2 0zm1 0zm3 0zm1 0zm2 0zm4 0zm1 0zm1 0zm2 0zm1 0zm2 0zm1 0zm1 0zm1 0zm1 0zm2 0zm2 0zm1 0zm1 0zm1 0zm4 0zm2 0zm67 0zm-108 1zm1 0zm1 0zm1 0zm1 0zm2 0zm2 0zm1 0zm1 0zm1 0zm1 0zm2 0zm1 0zm3 0zm2 0zm3 0zm1 0zm2 0zm3 0zm1 0zm1 0zm1 0zm2 0zm1 0zm5 0zm1 0zm2 0zm57 0zm-100 1zm1 0zm1 0zm2 0zm2 0zm1 0zm2 0zm1 0zm1 0zm1 0zm1 0zm1 0zm2 0zm1 0zm2 0zm1 0zm1 0zm1 0zm1 0zm1 0zm1 0zm1 0zm1 0zm6 0zm8 0zm-41 1zm2 0zm2 0zm1 0zm2 0zm2 0zm1 0zm1 0zm1 0zm1 0zm1 0zm1 0zm1 0zm2 0zm1 0zm1 0zm1 0zm1 0zm1 0zm3 0zm4 0zm2 0zm1 0zm1 0zm1 0zm1 0zm1 0zm2 0zm1 0zm-40 1zm3 0zm1 0zm1 0zm2 0zm4 0zm1 0zm1 0zm4 0zm1 0zm2 0zm3 0zm3 0zm3 0zm1 0zm1 0zm2 0zm1 0zm1 0zm2 0zm1 0zm1 0zm2 0zm1 0zm47 0zm9 0zm25 0zm-91 1zm1 0zm1 0zm5 0zm2 0zm4 0zm-12 1zm2 0zm3 0zm1 0zm6 0zm-11 1zm3 0zm2 0zm1 0zm1 0zm71 0zm12 0zm-88 1zm1 0zm1 0zm1 0zm1 0zm4 0zm2 0zm1 0zm2 0zm94 0zm-107 1zm2 0zm6 0zm1 0zm2 0zm48 0zm-56 1zm2 0zm1 0zm1 0zm1 0zm8 0zm63 0zm-76 1zm1 0zm2 0zm1 0zm3 0zm1 0zm84 0zm-91 1zm3 0zm1 0zm4 0zm3 0zm4 0zm-15 1zm1 0zm1 0zm2 0zm1 0zm6 0zm2 0zm-13 1zm2 0zm1 0zm2 0zm1 0zm1 0zm1 0zm-8 1zm1 0zm1 0zm1 0zm2 0zm1 0zm3 0zm-8 1zm2 0zm4 0zm71 0zm-77 1zm1 0zm1 0zm12 0zm-14 1zm3 0zm1 0zm-2 1zm2 0zm2 0zm1 0zm-7 1zm2 0zm2 0zm1 0zm-4 1zm2 0zm2 0zm6 0zm4 0zm-14 1zm1 0zm2 0zm1 0zm5 0zm69 0zm15 0zm-93 1zm1 0zm1 0zm1 0zm1 0zm-4 1zm1 0zm1 0zm1 0zm2 0zm-6 1zm1 0zm1 0zm6 0zm-8 1zm1 0zm3 0zm3 0zm72 0zm-79 1zm1 0zm1 0zm1 0zm1 0zm1 0zm1 0zm3 0zm2 0zm43 0zm-54 1zm1 0zm1 0zm1 0zm1 0zm1 0zm6 0zm-11 1zm1 0zm1 0zm1 0zm2 0zm1 0zm2 0zm-7 1zm1 0zm2 0zm2 0zm1 0zm3 0zm-9 1zm1 0zm4 0zm4 0zm-10 1zm1 0zm4 0zm2 0zm1 0zm-8 1zm1 0zm1 0zm1 0zm4 0zm-7 1zm2 0zm3 0zm3 0zm2 0zm-9 1zm1 0zm2 0zm2 0zm1 0zm4 0zm-11 1zm1 0zm2 0zm2 0zm2 0zm-7 1zm1 0zm4 0zm1 0zm1 0zm1 0zm1 0zm-9 1zm1 0zm1 0zm1 0zm1 0zm1 0zm1 0zm1 0zm1 0zm1 0zm1 0zm1 0zm1 0zm2 0zm1 0zm5 0z" stroke="#000"/>
</g>
<rect x="426.4" y="5.2" width="87.10" height="84.80" fill="none" stroke="#1a1a1a" stroke-width="1.3"/>
<path d="M458.6 5.2V90.0M426.4 57.4H513.5" stroke="#1a1a1a" stroke-width="1.3" fill="none"/>
<path d="M426.4 90.0v2.6M426.4 90.0h-2.6M433.0 90.0v1.5M426.4 83.6h-1.5M436.8 90.0v1.5M426.4 79.9h-1.5M439.5 90.0v1.5M426.4 77.2h-1.5M441.6 90.0v1.5M426.4 75.2h-1.5M443.3 90.0v1.5M426.4 73.5h-1.5M444.8 90.0v1.5M426.4 72.1h-1.5M446.1 90.0v1.5M426.4 70.9h-1.5M447.2 90.0v1.5M426.4 69.8h-1.5M448.2 90.0v2.6M426.4 68.8h-2.6M454.7 90.0v1.5M426.4 62.4h-1.5M458.6 90.0v1.5M426.4 58.7h-1.5M461.3 90.0v1.5M426.4 56.0h-1.5M463.4 90.0v1.5M426.4 54.0h-1.5M465.1 90.0v1.5M426.4 52.3h-1.5M466.6 90.0v1.5M426.4 50.9h-1.5M467.8 90.0v1.5M426.4 49.7h-1.5M469.0 90.0v1.5M426.4 48.6h-1.5M469.9 90.0v2.6M426.4 47.6h-2.6M476.5 90.0v1.5M426.4 41.2h-1.5M480.3 90.0v1.5M426.4 37.5h-1.5M483.1 90.0v1.5M426.4 34.8h-1.5M485.2 90.0v1.5M426.4 32.8h-1.5M486.9 90.0v1.5M426.4 31.1h-1.5M488.4 90.0v1.5M426.4 29.7h-1.5M489.6 90.0v1.5M426.4 28.5h-1.5M490.7 90.0v1.5M426.4 27.4h-1.5M491.7 90.0v2.6M426.4 26.4h-2.6M498.3 90.0v1.5M426.4 20.0h-1.5M502.1 90.0v1.5M426.4 16.3h-1.5M504.8 90.0v1.5M426.4 13.6h-1.5M506.9 90.0v1.5M426.4 11.6h-1.5M508.7 90.0v1.5M426.4 9.9h-1.5M510.1 90.0v1.5M426.4 8.5h-1.5M511.4 90.0v1.5M426.4 7.3h-1.5M512.5 90.0v1.5M426.4 6.2h-1.5M513.5 90.0v2.6M426.4 5.2h-2.6" stroke="#111" stroke-width="0.7" fill="none"/>
<text transform="translate(426.5 99.2) scale(.86 1)" class="t" text-anchor="middle">10<tspan dy="-2.6" class="s">0</tspan></text>
<text transform="translate(422.8 90.5) rotate(-90) scale(.86 1)" class="t" text-anchor="middle">10<tspan dy="-2.6" class="s">0</tspan></text>
<text transform="translate(448.3 99.2) scale(.86 1)" class="t" text-anchor="middle">10<tspan dy="-2.6" class="s">1</tspan></text>
<text transform="translate(422.8 69.3) rotate(-90) scale(.86 1)" class="t" text-anchor="middle">10<tspan dy="-2.6" class="s">1</tspan></text>
<text transform="translate(470.1 99.2) scale(.86 1)" class="t" text-anchor="middle">10<tspan dy="-2.6" class="s">2</tspan></text>
<text transform="translate(422.8 48.1) rotate(-90) scale(.86 1)" class="t" text-anchor="middle">10<tspan dy="-2.6" class="s">2</tspan></text>
<text transform="translate(491.8 99.2) scale(.86 1)" class="t" text-anchor="middle">10<tspan dy="-2.6" class="s">3</tspan></text>
<text transform="translate(422.8 26.9) rotate(-90) scale(.86 1)" class="t" text-anchor="middle">10<tspan dy="-2.6" class="s">3</tspan></text>
<text transform="translate(513.6 99.2) scale(.86 1)" class="t" text-anchor="middle">10<tspan dy="-2.6" class="s">4</tspan></text>
<text transform="translate(422.8 5.7) rotate(-90) scale(.86 1)" class="t" text-anchor="middle">10<tspan dy="-2.6" class="s">4</tspan></text>
<text transform="translate(415.7 59.2) rotate(-90)" class="yl" textLength="18.9" lengthAdjust="spacingAndGlyphs">CD19 PE</text>
<text x="466.6" y="108.8" class="xl" text-anchor="middle">GFP</text>
<text x="495.7" y="19.6" class="pc" text-anchor="middle">12%</text>
<clipPath id="cC3"><rect x="295.2" y="114.4" width="90.30" height="81.40"/></clipPath>
<g clip-path="url(#cC3)">
<polygon points="311.0,176.0 312.7,175.9 314.2,176.2 315.5,177.0 316.5,178.1 317.1,179.5 317.3,181.0 317.3,204.3 317.1,206.0 316.5,207.6 315.5,209.1 314.2,210.4 312.7,211.3 311.0,211.8 289.5,216.1 287.8,216.3 286.3,215.9 285.0,215.2 284.0,214.1 283.4,212.7 283.2,211.1 283.2,187.9 283.4,186.2 284.0,184.6 285.0,183.1 286.3,181.8 287.8,180.9 289.5,180.3" fill="#000" filter="url(#b)"/>
<path class="d" transform="scale(.5)" d="M621 356zm8 5zm-22 8zm-5 5z" stroke="#fff" opacity=".75"/>
<path class="d" transform="scale(.5)" d="M676 248zm-4 18zm-36 16zm92 0zm-88 1zm-44 8zm19 0zm5 3zm-29 1zm23 2zm2 0zm-13 1zm19 0zm-14 1zm34 1zm-26 1zm35 0zm-22 1zm4 1zm13 0zm-24 2zm14 0zm-18 2zm-27 1zm34 0zm6 0zm-7 1zm20 0zm-8 1zm-16 1zm20 0zm34 0zm-66 1zm2 0zm125 0zm26 0zm-143 1zm6 0zm98 0zm-21 1zm-90 1zm11 0zm45 2zm27 0zm-7 2zm18 2zm-78 2zm5 0zm1 0zm-34 1zm53 1zm45 0zm-50 1zm8 0zm-18 1zm20 0zm-7 1zm2 0zm-47 1zm41 0zm-55 2zm20 0zm2 0zm3 0zm26 0zm72 0zm-97 1zm9 0zm1 0zm3 0zm16 0zm-39 1zm20 0zm9 0zm15 0zm-49 1zm27 0zm22 0zm1 0zm2 0zm1 0zm-46 1zm4 0zm17 0zm3 0zm3 0zm12 0zm-15 1zm14 0zm2 0zm2 0zm2 0zm-40 1zm5 0zm2 0zm1 0zm5 0zm12 0zm2 0zm5 0zm4 0zm56 0zm-97 1zm7 0zm3 0zm7 0zm7 0zm6 0zm1 0zm2 0zm2 0zm1 0zm1 0zm8 0zm1 0zm-63 1zm2 0zm9 0zm27 0zm4 0zm3 0zm3 0zm3 0zm1 0zm1 0zm1 0zm1 0zm2 0zm1 0zm-51 1zm3 0zm9 0zm6 0zm12 0zm6 0zm2 0zm6 0zm11 0zm-31 1zm7 0zm3 0zm3 0zm2 0zm3 0zm2 0zm3 0zm1 0zm2 0zm1 0zm1 0zm3 0zm-36 1zm6 0zm2 0zm4 0zm4 0zm2 0zm4 0zm1 0zm1 0zm1 0zm2 0zm3 0zm6 0zm46 0zm-79 1zm2 0zm4 0zm1 0zm3 0zm2 0zm5 0zm1 0zm1 0zm1 0zm4 0zm2 0zm4 0zm47 0zm-88 1zm1 0zm15 0zm1 0zm5 0zm1 0zm1 0zm7 0zm5 0zm2 0zm1 0zm3 0zm2 0zm-53 1zm12 0zm7 0zm1 0zm7 0zm3 0zm6 0zm1 0zm2 0zm3 0zm1 0zm2 0zm1 0zm1 0zm2 0zm-55 1zm20 0zm2 0zm3 0zm1 0zm2 0zm2 0zm6 0zm1 0zm2 0zm5 0zm5 0zm1 0zm2 0zm1 0zm-56 1zm4 0zm18 0zm2 0zm5 0zm1 0zm3 0zm2 0zm8 0zm1 0zm1 0zm1 0zm12 0zm-58 1zm17 0zm8 0zm5 0zm1 0zm1 0zm1 0zm4 0zm3 0zm1 0zm2 0zm4 0zm6 0zm3 0zm-43 1zm2 0zm8 0zm1 0zm4 0zm1 0zm3 0zm1 0zm4 0zm1 0zm1 0zm8 0zm4 0zm9 0zm-53 1zm3 0zm6 0zm5 0zm1 0zm1 0zm1 0zm1 0zm2 0zm1 0zm1 0zm1 0zm2 0zm2 0zm1 0zm2 0zm1 0zm1 0zm1 0zm1 0zm3 0zm1 0zm1 0zm1 0zm1 0zm2 0zm70 0zm10 0zm-130 1zm3 0zm2 0zm3 0zm1 0zm1 0zm3 0zm1 0zm1 0zm2 0zm2 0zm2 0zm3 0zm2 0zm1 0zm1 0zm2 0zm1 0zm1 0zm1 0zm2 0zm1 0zm2 0zm2 0zm3 0zm1 0zm2 0zm1 0zm1 0zm4 0zm3 0zm46 0zm-101 1zm1 0zm2 0zm1 0zm2 0zm2 0zm2 0zm1 0zm1 0zm2 0zm1 0zm2 0zm1 0zm2 0zm1 0zm1 0zm1 0zm1 0zm1 0zm1 0zm4 0zm1 0zm3 0zm1 0zm1 0zm1 0zm3 0zm1 0zm1 0zm4 0zm2 0zm3 0zm71 0zm10 0zm-132 1zm2 0zm1 0zm1 0zm1 0zm1 0zm2 0zm1 0zm1 0zm6 0zm1 0zm1 0zm1 0zm2 0zm2 0zm1 0zm1 0zm1 0zm1 0zm1 0zm1 0zm1 0zm1 0zm1 0zm1 0zm1 0zm1 0zm1 0zm1 0zm4 0zm2 0zm1 0zm3 0zm6 0zm47 0zm14 0zm-114 1zm1 0zm1 0zm2 0zm1 0zm1 0zm5 0zm3 0zm2 0zm1 0zm1 0zm1 0zm1 0zm4 0zm3 0zm1 0zm1 0zm1 0zm2 0zm1 0zm1 0zm1 0zm1 0zm1 0zm1 0zm1 0zm1 0zm3 0zm53 0zm44 0zm-140 1zm1 0zm4 0zm1 0zm1 0zm1 0zm1 0zm1 0zm2 0zm1 0zm2 0zm1 0zm1 0zm1 0zm1 0zm1 0zm2 0zm1 0zm1 0zm2 0zm1 0zm1 0zm10 0zm1 0zm1 0zm1 0zm1 0zm1 0zm2 0zm2 0zm82 0zm-129 1zm2 0zm1 0zm1 0zm2 0zm2 0zm2 0zm2 0zm1 0zm1 0zm2 0zm1 0zm1 0zm2 0zm1 0zm1 0zm1 0zm1 0zm15 0zm1 0zm1 0zm1 0zm1 0zm1 0zm1 0zm2 0zm38 0zm36 0zm-121 1zm1 0zm1 0zm1 0zm1 0zm1 0zm1 0zm1 0zm1 0zm1 0zm1 0zm1 0zm1 0zm1 0zm1 0zm1 0zm1 0zm1 0zm1 0zm22 0zm1 0zm1 0zm3 0zm5 0zm6 0zm-56 1zm1 0zm5 0zm2 0zm1 0zm1 0zm2 0zm28 0zm1 0zm1 0zm1 0zm2 0zm1 0zm1 0zm6 0zm31 0zm12 0zm11 0zm26 0zm7 0zm-140 1zm2 0zm2 0zm1 0zm1 0zm2 0zm33 0zm2 0zm1 0zm2 0zm68 0zm-114 1zm1 0zm1 0zm39 0zm1 0zm1 0zm1 0zm5 0zm3 0zm-8 1zm2 0zm99 0zm-102 1zm3 0zm3 0zm6 0zm74 0zm-88 1zm1 0zm3 0zm48 0zm9 0zm9 0zm5 0zm12 0zm-86 1zm1 0zm4 0zm2 0zm1 0zm48 0zm4 0zm-59 1zm1 0zm3 0zm29 0zm42 0zm-75 1zm2 0zm3 0zm1 0zm43 0zm16 0zm36 0zm-102 1zm1 0zm1 0zm1 0zm1 0zm4 0zm3 0zm86 0zm-97 1zm1 0zm4 0zm1 0zm1 0zm54 0zm20 0zm3 0zm-84 1zm2 0zm1 0zm1 0zm1 0zm50 0zm43 0zm18 0zm-115 1zm1 0zm1 0zm2 0zm1 0zm54 0zm-60 1zm1 0zm1 0zm2 0zm45 0zm20 0zm22 0zm-90 1zm1 0zm1 0zm3 0zm4 0zm60 0zm15 0zm31 0zm-116 1zm1 0zm1 0zm3 0zm3 0zm-7 1zm1 0zm1 0zm3 0zm1 0zm103 0zm-108 1zm3 0zm1 0zm-6 1zm1 0zm1 0zm1 0zm1 0zm88 0zm-92 1zm1 0zm2 0zm3 0zm5 0zm46 0zm38 0zm-95 1zm1 0zm1 0zm4 0zm-6 1zm1 0zm2 0zm1 0zm1 0zm-4 1zm1 0zm2 0zm3 0zm34 0zm10 0zm21 0zm-72 1zm1 0zm1 0zm1 0zm2 0zm6 0zm-11 1zm1 0zm1 0zm1 0zm1 0zm2 0zm3 0zm3 0zm3 0zm62 0zm-77 1zm1 0zm5 0zm-7 1zm1 0zm1 0zm1 0zm1 0zm2 0zm-6 1zm1 0zm1 0zm1 0zm5 0zm4 0zm-11 1zm2 0zm1 0zm3 0zm2 0zm1 0zm78 0zm-87 1zm2 0zm1 0zm1 0zm1 0zm10 0zm-15 1zm1 0zm3 0zm1 0zm2 0zm2 0zm3 0zm-12 1zm1 0zm2 0zm1 0zm2 0zm-7 1zm1 0zm1 0zm1 0zm1 0zm1 0zm1 0zm1 0zm1 0zm1 0zm1 0zm1 0zm3 0zm2 0z" stroke="#000"/>
</g>
<rect x="295.2" y="114.4" width="90.30" height="81.40" fill="none" stroke="#1a1a1a" stroke-width="1.3"/>
<path d="M329.3 114.4V195.8M295.2 164H385.5" stroke="#1a1a1a" stroke-width="1.3" fill="none"/>
<path d="M295.2 195.8v2.6M295.2 195.8h-2.6M302.0 195.8v1.5M295.2 189.7h-1.5M306.0 195.8v1.5M295.2 186.1h-1.5M308.8 195.8v1.5M295.2 183.5h-1.5M311.0 195.8v1.5M295.2 181.6h-1.5M312.8 195.8v1.5M295.2 180.0h-1.5M314.3 195.8v1.5M295.2 178.6h-1.5M315.6 195.8v1.5M295.2 177.4h-1.5M316.7 195.8v1.5M295.2 176.4h-1.5M317.8 195.8v2.6M295.2 175.5h-2.6M324.6 195.8v1.5M295.2 169.3h-1.5M328.5 195.8v1.5M295.2 165.7h-1.5M331.4 195.8v1.5M295.2 163.2h-1.5M333.6 195.8v1.5M295.2 161.2h-1.5M335.3 195.8v1.5M295.2 159.6h-1.5M336.9 195.8v1.5M295.2 158.3h-1.5M338.2 195.8v1.5M295.2 157.1h-1.5M339.3 195.8v1.5M295.2 156.0h-1.5M340.4 195.8v2.6M295.2 155.1h-2.6M347.1 195.8v1.5M295.2 149.0h-1.5M351.1 195.8v1.5M295.2 145.4h-1.5M353.9 195.8v1.5M295.2 142.8h-1.5M356.1 195.8v1.5M295.2 140.9h-1.5M357.9 195.8v1.5M295.2 139.3h-1.5M359.4 195.8v1.5M295.2 137.9h-1.5M360.7 195.8v1.5M295.2 136.7h-1.5M361.9 195.8v1.5M295.2 135.7h-1.5M362.9 195.8v2.6M295.2 134.8h-2.6M369.7 195.8v1.5M295.2 128.6h-1.5M373.7 195.8v1.5M295.2 125.0h-1.5M376.5 195.8v1.5M295.2 122.5h-1.5M378.7 195.8v1.5M295.2 120.5h-1.5M380.5 195.8v1.5M295.2 118.9h-1.5M382.0 195.8v1.5M295.2 117.6h-1.5M383.3 195.8v1.5M295.2 116.4h-1.5M384.5 195.8v1.5M295.2 115.3h-1.5M385.5 195.8v2.6M295.2 114.4h-2.6" stroke="#111" stroke-width="0.7" fill="none"/>
<text transform="translate(295.3 205.0) scale(.86 1)" class="t" text-anchor="middle">10<tspan dy="-2.6" class="s">0</tspan></text>
<text transform="translate(291.6 196.3) rotate(-90) scale(.86 1)" class="t" text-anchor="middle">10<tspan dy="-2.6" class="s">0</tspan></text>
<text transform="translate(317.9 205.0) scale(.86 1)" class="t" text-anchor="middle">10<tspan dy="-2.6" class="s">1</tspan></text>
<text transform="translate(291.6 176.0) rotate(-90) scale(.86 1)" class="t" text-anchor="middle">10<tspan dy="-2.6" class="s">1</tspan></text>
<text transform="translate(340.5 205.0) scale(.86 1)" class="t" text-anchor="middle">10<tspan dy="-2.6" class="s">2</tspan></text>
<text transform="translate(291.6 155.6) rotate(-90) scale(.86 1)" class="t" text-anchor="middle">10<tspan dy="-2.6" class="s">2</tspan></text>
<text transform="translate(363.0 205.0) scale(.86 1)" class="t" text-anchor="middle">10<tspan dy="-2.6" class="s">3</tspan></text>
<text transform="translate(291.6 135.2) rotate(-90) scale(.86 1)" class="t" text-anchor="middle">10<tspan dy="-2.6" class="s">3</tspan></text>
<text transform="translate(385.6 205.0) scale(.86 1)" class="t" text-anchor="middle">10<tspan dy="-2.6" class="s">4</tspan></text>
<text transform="translate(291.6 114.9) rotate(-90) scale(.86 1)" class="t" text-anchor="middle">10<tspan dy="-2.6" class="s">4</tspan></text>
<text transform="translate(284.5 166.5) rotate(-90)" class="yl" textLength="21.6" lengthAdjust="spacingAndGlyphs">CD34 PE</text>
<text x="336.9" y="214.6" class="xl" text-anchor="middle">GFP</text>
<text x="369.2" y="128.5" class="pc" text-anchor="middle">18%</text>
<clipPath id="cC4"><rect x="427.2" y="113.8" width="88.10" height="81.40"/></clipPath>
<g clip-path="url(#cC4)">
<polygon points="443.4,177.0 445.1,177.2 446.6,177.9 447.9,178.9 448.9,180.2 449.6,181.7 449.8,183.4 449.8,204.0 449.6,205.7 448.9,207.2 447.9,208.5 446.6,209.5 445.1,210.2 443.4,210.4 420.8,210.4 419.1,210.2 417.6,209.5 416.3,208.5 415.3,207.2 414.6,205.7 414.4,204.0 414.4,183.4 414.6,181.7 415.3,180.2 416.3,178.9 417.6,177.9 419.1,177.2 420.8,177.0" fill="#000" filter="url(#b)"/>
<path class="d" transform="scale(.5)" d="M881 368zm-19 12zm17 4zm-7 1z" stroke="#fff" opacity=".75"/>
<path class="d" transform="scale(.5)" d="M930 252zm-34 1zm44 1zm-13 6zm4 16zm-36 2zm3 2zm23 0zm-24 1zm2 1zm18 0zm23 1zm-28 1zm26 0zm-42 4zm4 0zm1 0zm-17 6zm18 0zm-12 1zm11 1zm44 2zm-43 1zm6 0zm4 0zm-14 1zm16 0zm12 1zm2 0zm-43 3zm28 0zm-22 3zm3 4zm-21 1zm54 11zm-9 1zm-12 1zm14 1zm2 0zm1 0zm-11 1zm-5 1zm4 0zm-7 1zm6 0zm2 0zm8 0zm-32 1zm15 0zm14 0zm8 0zm-37 1zm20 0zm3 0zm6 0zm3 0zm-18 1zm3 0zm8 0zm3 0zm2 0zm-43 1zm3 0zm12 0zm16 0zm6 0zm1 0zm1 0zm5 0zm-43 1zm12 0zm11 0zm6 0zm2 0zm4 0zm10 0zm4 0zm-49 1zm20 0zm9 0zm8 0zm1 0zm6 0zm1 0zm-56 1zm3 0zm31 0zm2 0zm4 0zm1 0zm1 0zm2 0zm1 0zm2 0zm2 0zm1 0zm6 0zm1 0zm-40 1zm8 0zm3 0zm1 0zm3 0zm2 0zm4 0zm1 0zm2 0zm1 0zm1 0zm1 0zm2 0zm3 0zm3 0zm1 0zm-63 1zm17 0zm14 0zm8 0zm5 0zm3 0zm2 0zm1 0zm1 0zm5 0zm2 0zm1 0zm6 0zm-65 1zm2 0zm13 0zm6 0zm5 0zm5 0zm12 0zm2 0zm1 0zm3 0zm1 0zm4 0zm1 0zm1 0zm1 0zm1 0zm1 0zm7 0zm-66 1zm2 0zm21 0zm5 0zm2 0zm2 0zm3 0zm5 0zm6 0zm2 0zm1 0zm1 0zm2 0zm1 0zm3 0zm5 0zm-43 1zm7 0zm9 0zm13 0zm3 0zm1 0zm1 0zm1 0zm2 0zm3 0zm3 0zm2 0zm2 0zm-65 1zm12 0zm6 0zm8 0zm1 0zm5 0zm1 0zm9 0zm1 0zm1 0zm2 0zm4 0zm1 0zm1 0zm1 0zm1 0zm1 0zm1 0zm1 0zm4 0zm-61 1zm6 0zm6 0zm10 0zm1 0zm3 0zm2 0zm4 0zm2 0zm8 0zm5 0zm2 0zm3 0zm6 0zm1 0zm1 0zm-60 1zm8 0zm2 0zm9 0zm17 0zm7 0zm1 0zm2 0zm1 0zm1 0zm3 0zm2 0zm8 0zm4 0zm-64 1zm1 0zm2 0zm13 0zm2 0zm10 0zm2 0zm3 0zm8 0zm1 0zm1 0zm1 0zm6 0zm1 0zm1 0zm1 0zm1 0zm4 0zm69 0zm-128 1zm18 0zm1 0zm5 0zm3 0zm6 0zm3 0zm1 0zm2 0zm1 0zm4 0zm6 0zm6 0zm-56 1zm2 0zm2 0zm4 0zm3 0zm4 0zm24 0zm9 0zm3 0zm4 0zm3 0zm-58 1zm3 0zm1 0zm1 0zm3 0zm5 0zm1 0zm9 0zm1 0zm3 0zm2 0zm1 0zm2 0zm1 0zm1 0zm2 0zm1 0zm4 0zm2 0zm1 0zm1 0zm1 0zm2 0zm3 0zm2 0zm2 0zm-55 1zm1 0zm1 0zm2 0zm1 0zm2 0zm2 0zm7 0zm3 0zm4 0zm2 0zm2 0zm1 0zm1 0zm2 0zm9 0zm15 0zm7 0zm-62 1zm1 0zm2 0zm1 0zm1 0zm1 0zm2 0zm1 0zm1 0zm2 0zm2 0zm1 0zm4 0zm1 0zm1 0zm4 0zm1 0zm6 0zm7 0zm2 0zm4 0zm5 0zm10 0zm4 0zm61 0zm-125 1zm5 0zm1 0zm1 0zm3 0zm3 0zm1 0zm4 0zm1 0zm4 0zm1 0zm2 0zm1 0zm1 0zm1 0zm4 0zm1 0zm2 0zm1 0zm1 0zm1 0zm1 0zm4 0zm1 0zm4 0zm4 0zm7 0zm-60 1zm1 0zm1 0zm1 0zm4 0zm1 0zm2 0zm1 0zm1 0zm2 0zm1 0zm1 0zm1 0zm2 0zm1 0zm3 0zm1 0zm3 0zm2 0zm3 0zm5 0zm4 0zm1 0zm1 0zm2 0zm2 0zm1 0zm1 0zm-49 1zm2 0zm2 0zm1 0zm1 0zm1 0zm1 0zm1 0zm3 0zm1 0zm2 0zm1 0zm1 0zm1 0zm1 0zm1 0zm1 0zm1 0zm1 0zm1 0zm1 0zm1 0zm1 0zm1 0zm2 0zm1 0zm1 0zm1 0zm1 0zm1 0zm1 0zm2 0zm6 0zm3 0zm2 0zm3 0zm1 0zm36 0zm-89 1zm1 0zm1 0zm1 0zm2 0zm1 0zm3 0zm1 0zm1 0zm4 0zm2 0zm1 0zm1 0zm1 0zm1 0zm1 0zm4 0zm1 0zm1 0zm1 0zm2 0zm1 0zm1 0zm1 0zm1 0zm5 0zm1 0zm1 0zm3 0zm3 0zm1 0zm2 0zm52 0zm-103 1zm1 0zm1 0zm1 0zm5 0zm1 0zm1 0zm1 0zm1 0zm1 0zm1 0zm3 0zm1 0zm1 0zm1 0zm1 0zm1 0zm3 0zm1 0zm2 0zm5 0zm1 0zm1 0zm1 0zm2 0zm1 0zm3 0zm2 0zm2 0zm2 0zm5 0zm2 0zm35 0zm-90 1zm2 0zm2 0zm1 0zm2 0zm5 0zm1 0zm4 0zm1 0zm1 0zm2 0zm1 0zm1 0zm1 0zm1 0zm1 0zm1 0zm2 0zm1 0zm2 0zm1 0zm1 0zm2 0zm1 0zm1 0zm2 0zm3 0zm5 0zm8 0zm38 0zm44 0zm-103 1zm1 0zm1 0zm1 0zm1 0zm4 0zm2 0zm8 0zm41 0zm7 0zm-62 1zm2 0zm4 0zm2 0zm26 0zm12 0zm-44 1zm1 0zm1 0zm2 0zm1 0zm4 0zm36 0zm4 0zm12 0zm4 0zm-65 1zm2 0zm2 0zm1 0zm1 0zm5 0zm36 0zm1 0zm6 0zm14 0zm-68 1zm1 0zm1 0zm1 0zm11 0zm40 0zm-53 1zm2 0zm2 0zm1 0zm1 0zm5 0zm4 0zm33 0zm1 0zm-49 1zm1 0zm3 0zm2 0zm1 0zm1 0zm20 0zm46 0zm-74 1zm1 0zm1 0zm4 0zm2 0zm55 0zm-60 1zm1 0zm5 0zm14 0zm6 0zm10 0zm2 0zm10 0zm23 0zm1 0zm28 0zm-101 1zm1 0zm6 0zm19 0zm26 0zm1 0zm9 0zm-63 1zm1 0zm48 0zm17 0zm21 0zm-87 1zm1 0zm2 0zm1 0zm43 0zm9 0zm5 0zm11 0zm-72 1zm1 0zm1 0zm2 0zm1 0zm1 0zm1 0zm2 0zm16 0zm23 0zm4 0zm1 0zm11 0zm10 0zm16 0zm-90 1zm1 0zm1 0zm1 0zm1 0zm1 0zm37 0zm7 0zm2 0zm20 0zm22 0zm-93 1zm1 0zm1 0zm1 0zm2 0zm32 0zm4 0zm12 0zm2 0zm1 0zm4 0zm30 0zm-90 1zm1 0zm1 0zm1 0zm1 0zm1 0zm1 0zm52 0zm16 0zm2 0zm3 0zm3 0zm21 0zm-104 1zm2 0zm2 0zm1 0zm2 0zm2 0zm5 0zm33 0zm23 0zm2 0zm-71 1zm1 0zm1 0zm2 0zm46 0zm29 0zm-79 1zm1 0zm1 0zm1 0zm1 0zm1 0zm11 0zm10 0zm17 0zm-43 1zm1 0zm1 0zm1 0zm1 0zm1 0zm1 0zm2 0zm1 0zm46 0zm21 0zm2 0zm-78 1zm1 0zm1 0zm2 0zm58 0zm1 0zm6 0zm1 0zm46 0zm-116 1zm2 0zm2 0zm3 0zm1 0zm14 0zm14 0zm2 0zm25 0zm-64 1zm1 0zm2 0zm1 0zm1 0zm1 0zm5 0zm2 0zm4 0zm7 0zm38 0zm38 0zm-99 1zm1 0zm1 0zm1 0zm4 0zm1 0zm38 0zm-46 1zm1 0zm1 0zm1 0zm1 0zm4 0zm1 0zm1 0zm-11 1zm1 0zm1 0zm1 0zm1 0zm2 0zm49 0zm2 0zm13 0zm-69 1zm1 0zm1 0zm1 0zm2 0zm4 0zm5 0zm42 0zm6 0zm13 0zm-75 1zm3 0zm1 0zm1 0zm5 0zm-10 1zm2 0zm1 0zm2 0zm2 0zm3 0zm27 0zm3 0zm49 0zm-90 1zm1 0zm1 0zm1 0zm8 0zm10 0zm27 0zm2 0zm-49 1zm3 0zm1 0zm9 0zm-13 1zm2 0zm1 0zm2 0zm1 0zm1 0zm5 0zm-13 1zm1 0zm1 0zm1 0zm1 0zm1 0zm1 0zm1 0zm1 0zm1 0zm3 0zm69 0z" stroke="#000"/>
</g>
<rect x="427.2" y="113.8" width="88.10" height="81.40" fill="none" stroke="#1a1a1a" stroke-width="1.3"/>
<path d="M460 113.8V195.2M427.2 163.6H515.3" stroke="#1a1a1a" stroke-width="1.3" fill="none"/>
<path d="M427.2 195.2v2.6M427.2 195.2h-2.6M433.8 195.2v1.5M427.2 189.1h-1.5M437.7 195.2v1.5M427.2 185.5h-1.5M440.5 195.2v1.5M427.2 182.9h-1.5M442.6 195.2v1.5M427.2 181.0h-1.5M444.3 195.2v1.5M427.2 179.4h-1.5M445.8 195.2v1.5M427.2 178.0h-1.5M447.1 195.2v1.5M427.2 176.8h-1.5M448.2 195.2v1.5M427.2 175.8h-1.5M449.2 195.2v2.6M427.2 174.8h-2.6M455.9 195.2v1.5M427.2 168.7h-1.5M459.7 195.2v1.5M427.2 165.1h-1.5M462.5 195.2v1.5M427.2 162.6h-1.5M464.6 195.2v1.5M427.2 160.6h-1.5M466.4 195.2v1.5M427.2 159.0h-1.5M467.8 195.2v1.5M427.2 157.7h-1.5M469.1 195.2v1.5M427.2 156.5h-1.5M470.2 195.2v1.5M427.2 155.4h-1.5M471.2 195.2v2.6M427.2 154.5h-2.6M477.9 195.2v1.5M427.2 148.4h-1.5M481.8 195.2v1.5M427.2 144.8h-1.5M484.5 195.2v1.5M427.2 142.2h-1.5M486.6 195.2v1.5M427.2 140.3h-1.5M488.4 195.2v1.5M427.2 138.7h-1.5M489.9 195.2v1.5M427.2 137.3h-1.5M491.1 195.2v1.5M427.2 136.1h-1.5M492.3 195.2v1.5M427.2 135.1h-1.5M493.3 195.2v2.6M427.2 134.1h-2.6M499.9 195.2v1.5M427.2 128.0h-1.5M503.8 195.2v1.5M427.2 124.4h-1.5M506.5 195.2v1.5M427.2 121.9h-1.5M508.7 195.2v1.5M427.2 119.9h-1.5M510.4 195.2v1.5M427.2 118.3h-1.5M511.9 195.2v1.5M427.2 117.0h-1.5M513.2 195.2v1.5M427.2 115.8h-1.5M514.3 195.2v1.5M427.2 114.7h-1.5M515.3 195.2v2.6M427.2 113.8h-2.6" stroke="#111" stroke-width="0.7" fill="none"/>
<text transform="translate(427.3 204.4) scale(.86 1)" class="t" text-anchor="middle">10<tspan dy="-2.6" class="s">0</tspan></text>
<text transform="translate(423.6 195.7) rotate(-90) scale(.86 1)" class="t" text-anchor="middle">10<tspan dy="-2.6" class="s">0</tspan></text>
<text transform="translate(449.3 204.4) scale(.86 1)" class="t" text-anchor="middle">10<tspan dy="-2.6" class="s">1</tspan></text>
<text transform="translate(423.6 175.3) rotate(-90) scale(.86 1)" class="t" text-anchor="middle">10<tspan dy="-2.6" class="s">1</tspan></text>
<text transform="translate(471.4 204.4) scale(.86 1)" class="t" text-anchor="middle">10<tspan dy="-2.6" class="s">2</tspan></text>
<text transform="translate(423.6 155.0) rotate(-90) scale(.86 1)" class="t" text-anchor="middle">10<tspan dy="-2.6" class="s">2</tspan></text>
<text transform="translate(493.4 204.4) scale(.86 1)" class="t" text-anchor="middle">10<tspan dy="-2.6" class="s">3</tspan></text>
<text transform="translate(423.6 134.6) rotate(-90) scale(.86 1)" class="t" text-anchor="middle">10<tspan dy="-2.6" class="s">3</tspan></text>
<text transform="translate(515.4 204.4) scale(.86 1)" class="t" text-anchor="middle">10<tspan dy="-2.6" class="s">4</tspan></text>
<text transform="translate(423.6 114.3) rotate(-90) scale(.86 1)" class="t" text-anchor="middle">10<tspan dy="-2.6" class="s">4</tspan></text>
<text transform="translate(416.5 166.5) rotate(-90)" class="yl" textLength="22.7" lengthAdjust="spacingAndGlyphs">CD41 PE</text>
<text x="467.9" y="214.0" class="xl" text-anchor="middle">GFP</text>
<text x="495.7" y="129.6" class="pc" text-anchor="middle">19%</text>
<clipPath id="cC5"><rect x="296.3" y="219.4" width="88.20" height="78.60"/></clipPath>
<g clip-path="url(#cC5)">
<polygon points="314.0,276.5 315.7,276.4 317.2,276.8 318.5,277.6 319.5,278.7 320.1,280.1 320.3,281.7 320.3,306.0 320.1,307.6 319.5,309.2 318.5,310.7 317.2,311.9 315.7,312.8 314.0,313.3 290.6,317.3 288.9,317.3 287.4,317.0 286.1,316.2 285.1,315.1 284.5,313.7 284.3,312.1 284.3,287.8 284.5,286.1 285.1,284.5 286.1,283.1 287.4,281.8 288.9,281.0 290.6,280.5" fill="#000" filter="url(#b)"/>
<path class="d" transform="scale(.5)" d="M635 568zm-26 4zm-2 1zm19 2zm-22 2z" stroke="#fff" opacity=".75"/>
<path class="d" transform="scale(.5)" d="M639 456zm3 0zm1 0zm23 4zm18 7zm-45 2zm48 0zm10 0zm-55 1zm8 0zm-18 3zm24 1zm37 0zm-55 1zm62 0zm-32 1zm-46 1zm90 0zm-68 1zm4 0zm-11 1zm4 0zm75 1zm-94 1zm9 0zm56 0zm-68 1zm2 0zm33 0zm-28 1zm10 0zm52 0zm15 1zm-77 1zm2 0zm9 0zm7 0zm57 0zm-60 1zm63 0zm-69 1zm10 1zm59 0zm-93 1zm33 0zm3 0zm49 0zm28 0zm-101 1zm11 0zm17 0zm45 0zm8 0zm-65 1zm64 0zm2 0zm14 0zm-106 1zm7 0zm7 0zm13 0zm-19 1zm5 0zm7 0zm18 0zm54 0zm21 0zm-99 1zm2 0zm6 0zm49 0zm-63 1zm4 0zm30 0zm37 0zm6 0zm9 0zm-87 1zm12 0zm72 0zm9 0zm5 0zm-74 1zm5 0zm-32 1zm14 0zm17 0zm48 0zm11 0zm-70 1zm5 0zm32 0zm17 0zm12 0zm-69 1zm74 0zm-103 1zm34 0zm10 0zm-18 1zm69 0zm-69 1zm8 0zm4 0zm-31 1zm17 0zm10 0zm10 0zm-12 1zm4 0zm48 1zm-55 1zm3 0zm14 0zm51 0zm4 0zm-86 1zm8 0zm12 0zm73 0zm-72 1zm8 0zm-13 1zm74 0zm-72 1zm9 0zm61 0zm-69 1zm69 0zm7 0zm-91 1zm10 0zm17 0zm39 0zm8 0zm-71 1zm-6 1zm1 0zm77 1zm5 0zm7 0zm-62 1zm-13 1zm4 0zm68 0zm-84 1zm24 0zm43 1zm3 1zm-51 1zm-1 1zm12 0zm47 0zm-72 1zm4 0zm70 0zm-49 1zm-7 2zm10 1zm6 1zm1 0zm-18 1zm16 0zm6 0zm35 0zm-80 1zm18 0zm16 0zm2 0zm-10 1zm2 0zm3 0zm3 0zm2 0zm-2 1zm-32 1zm4 0zm18 0zm6 0zm5 0zm1 0zm4 0zm1 0zm-39 1zm15 0zm9 0zm6 0zm6 0zm16 0zm-72 1zm7 0zm17 0zm19 0zm5 0zm2 0zm2 0zm2 0zm1 0zm1 0zm5 0zm42 0zm-86 1zm23 0zm2 0zm1 0zm2 0zm1 0zm1 0zm2 0zm2 0zm1 0zm6 0zm-48 1zm8 0zm5 0zm1 0zm10 0zm2 0zm1 0zm1 0zm6 0zm3 0zm5 0zm3 0zm-52 1zm6 0zm6 0zm1 0zm22 0zm3 0zm1 0zm1 0zm2 0zm1 0zm2 0zm3 0zm2 0zm47 0zm-105 1zm12 0zm3 0zm5 0zm1 0zm2 0zm1 0zm1 0zm3 0zm5 0zm7 0zm1 0zm2 0zm1 0zm4 0zm3 0zm1 0zm1 0zm1 0zm2 0zm1 0zm3 0zm1 0zm1 0zm4 0zm1 0zm-53 1zm3 0zm16 0zm13 0zm4 0zm1 0zm1 0zm2 0zm1 0zm1 0zm4 0zm3 0zm1 0zm-71 1zm26 0zm4 0zm14 0zm7 0zm1 0zm3 0zm2 0zm2 0zm1 0zm1 0zm5 0zm3 0zm2 0zm-57 1zm5 0zm5 0zm10 0zm2 0zm6 0zm2 0zm1 0zm1 0zm1 0zm1 0zm1 0zm1 0zm1 0zm3 0zm2 0zm1 0zm1 0zm2 0zm2 0zm1 0zm6 0zm42 0zm-104 1zm13 0zm2 0zm4 0zm4 0zm10 0zm3 0zm1 0zm6 0zm1 0zm3 0zm1 0zm1 0zm1 0zm1 0zm2 0zm1 0zm1 0zm7 0zm-55 1zm4 0zm1 0zm5 0zm2 0zm7 0zm3 0zm7 0zm1 0zm3 0zm2 0zm1 0zm1 0zm1 0zm1 0zm2 0zm2 0zm1 0zm2 0zm1 0zm4 0zm-60 1zm10 0zm1 0zm3 0zm3 0zm2 0zm3 0zm3 0zm4 0zm4 0zm1 0zm1 0zm1 0zm1 0zm1 0zm5 0zm2 0zm2 0zm1 0zm1 0zm1 0zm1 0zm1 0zm1 0zm1 0zm2 0zm1 0zm7 0zm19 0zm-88 1zm5 0zm7 0zm1 0zm1 0zm10 0zm1 0zm1 0zm2 0zm4 0zm7 0zm4 0zm3 0zm1 0zm1 0zm1 0zm1 0zm3 0zm1 0zm1 0zm1 0zm1 0zm2 0zm2 0zm1 0zm3 0zm1 0zm1 0zm2 0zm1 0zm26 0zm-86 1zm1 0zm1 0zm7 0zm1 0zm3 0zm1 0zm3 0zm2 0zm1 0zm1 0zm2 0zm2 0zm3 0zm3 0zm3 0zm2 0zm1 0zm2 0zm2 0zm1 0zm2 0zm1 0zm1 0zm1 0zm1 0zm1 0zm4 0zm3 0zm-66 1zm4 0zm4 0zm9 0zm2 0zm3 0zm2 0zm3 0zm1 0zm5 0zm7 0zm1 0zm1 0zm1 0zm2 0zm1 0zm1 0zm1 0zm1 0zm2 0zm1 0zm4 0zm1 0zm1 0zm3 0zm11 0zm-72 1zm4 0zm3 0zm1 0zm5 0zm1 0zm9 0zm1 0zm3 0zm1 0zm1 0zm1 0zm4 0zm1 0zm1 0zm3 0zm6 0zm2 0zm1 0zm2 0zm3 0zm1 0zm1 0zm1 0zm1 0zm1 0zm-58 1zm5 0zm1 0zm3 0zm2 0zm1 0zm3 0zm1 0zm4 0zm2 0zm1 0zm5 0zm1 0zm1 0zm3 0zm1 0zm2 0zm1 0zm3 0zm1 0zm1 0zm1 0zm2 0zm2 0zm1 0zm1 0zm4 0zm1 0zm3 0zm1 0zm1 0zm1 0zm1 0zm2 0zm-63 1zm1 0zm3 0zm1 0zm5 0zm1 0zm1 0zm3 0zm3 0zm2 0zm1 0zm1 0zm3 0zm1 0zm1 0zm1 0zm2 0zm2 0zm1 0zm1 0zm1 0zm1 0zm1 0zm1 0zm1 0zm1 0zm3 0zm3 0zm2 0zm1 0zm1 0zm1 0zm1 0zm2 0zm2 0zm2 0zm2 0zm5 0zm14 0zm48 0zm-127 1zm4 0zm2 0zm2 0zm2 0zm2 0zm2 0zm1 0zm1 0zm4 0zm2 0zm1 0zm1 0zm1 0zm1 0zm2 0zm1 0zm1 0zm1 0zm1 0zm1 0zm2 0zm1 0zm1 0zm4 0zm1 0zm1 0zm1 0zm1 0zm1 0zm1 0zm4 0zm1 0zm1 0zm1 0zm1 0zm5 0zm2 0zm1 0zm3 0zm-66 1zm8 0zm1 0zm1 0zm2 0zm1 0zm2 0zm1 0zm2 0zm2 0zm2 0zm1 0zm1 0zm1 0zm1 0zm1 0zm1 0zm1 0zm1 0zm2 0zm1 0zm1 0zm1 0zm1 0zm1 0zm1 0zm1 0zm3 0zm2 0zm1 0zm3 0zm1 0zm1 0zm1 0zm1 0zm1 0zm1 0zm1 0zm2 0zm3 0zm1 0zm-61 1zm1 0zm1 0zm6 0zm1 0zm1 0zm1 0zm1 0zm1 0zm2 0zm1 0zm1 0zm1 0zm1 0zm1 0zm1 0zm1 0zm2 0zm2 0zm1 0zm1 0zm1 0zm1 0zm1 0zm1 0zm1 0zm1 0zm1 0zm4 0zm1 0zm1 0zm1 0zm1 0zm1 0zm1 0zm1 0zm3 0zm1 0zm2 0zm1 0zm1 0zm1 0zm2 0zm2 0zm-59 1zm1 0zm2 0zm1 0zm1 0zm1 0zm1 0zm1 0zm1 0zm1 0zm1 0zm2 0zm1 0zm2 0zm3 0zm2 0zm1 0zm1 0zm1 0zm1 0zm1 0zm1 0zm1 0zm1 0zm12 0zm2 0zm1 0zm2 0zm2 0zm3 0zm6 0zm6 0zm16 0zm40 0zm-119 1zm3 0zm1 0zm1 0zm1 0zm2 0zm1 0zm1 0zm1 0zm1 0zm1 0zm1 0zm1 0zm1 0zm3 0zm1 0zm1 0zm1 0zm1 0zm20 0zm1 0zm1 0zm1 0zm2 0zm1 0zm1 0zm2 0zm1 0zm4 0zm-57 1zm1 0zm3 0zm2 0zm1 0zm2 0zm1 0zm1 0zm2 0zm1 0zm2 0zm28 0zm4 0zm1 0zm1 0zm1 0zm1 0zm6 0zm23 0zm19 0zm14 0zm15 0zm-129 1zm1 0zm1 0zm3 0zm1 0zm1 0zm1 0zm1 0zm1 0zm1 0zm34 0zm1 0zm1 0zm2 0zm2 0zm1 0zm1 0zm1 0zm3 0zm13 0zm32 0zm5 0zm18 0zm18 0zm8 0zm-151 1zm1 0zm1 0zm1 0zm1 0zm41 0zm1 0zm1 0zm1 0zm1 0zm2 0zm3 0zm3 0zm2 0zm5 0zm34 0zm-98 1zm1 0zm1 0zm44 0zm1 0zm1 0zm2 0zm1 0zm1 0zm4 0zm3 0zm5 0zm21 0zm-39 1zm2 0zm2 0zm3 0zm2 0zm1 0zm23 0zm25 0zm5 0zm16 0zm-77 1zm1 0zm3 0zm31 0zm1 0zm28 0zm21 0zm-86 1zm1 0zm2 0zm3 0zm1 0zm1 0zm13 0zm42 0zm2 0zm14 0zm43 0zm-122 1zm1 0zm1 0zm9 0zm25 0zm39 0zm-76 1zm1 0zm1 0zm2 0zm1 0zm2 0zm31 0zm1 0zm1 0zm3 0zm2 0zm8 0zm8 0zm8 0zm27 0zm-96 1zm2 0zm1 0zm2 0zm1 0zm1 0zm3 0zm3 0zm5 0zm1 0zm21 0zm3 0zm10 0zm5 0zm7 0zm1 0zm14 0zm-81 1zm1 0zm1 0zm2 0zm2 0zm1 0zm1 0zm2 0zm6 0zm22 0zm21 0zm10 0zm2 0zm1 0zm4 0zm-75 1zm1 0zm1 0zm1 0zm3 0zm3 0zm1 0zm31 0zm13 0zm1 0zm1 0zm5 0zm22 0zm2 0zm-85 1zm1 0zm1 0zm1 0zm1 0zm1 0zm1 0zm4 0zm26 0zm1 0zm4 0zm4 0zm16 0zm1 0zm2 0zm2 0zm7 0zm4 0zm-77 1zm1 0zm1 0zm2 0zm3 0zm29 0zm4 0zm2 0zm16 0zm5 0zm2 0zm4 0zm8 0zm2 0zm1 0zm8 0zm13 0zm27 0zm-128 1zm1 0zm2 0zm1 0zm2 0zm1 0zm20 0zm12 0zm4 0zm6 0zm3 0zm5 0zm6 0zm5 0zm4 0zm-72 1zm1 0zm2 0zm4 0zm1 0zm15 0zm24 0zm5 0zm17 0zm1 0zm1 0zm-71 1zm1 0zm2 0zm1 0zm3 0zm27 0zm3 0zm5 0zm5 0zm11 0zm1 0zm1 0zm1 0zm4 0zm5 0zm6 0zm2 0zm1 0zm2 0zm-81 1zm1 0zm3 0zm7 0zm23 0zm8 0zm3 0zm2 0zm5 0zm5 0zm9 0zm14 0zm9 0zm-90 1zm1 0zm1 0zm1 0zm2 0zm2 0zm1 0zm2 0zm1 0zm8 0zm18 0zm10 0zm2 0zm4 0zm3 0zm3 0zm1 0zm2 0zm3 0zm4 0zm5 0zm3 0zm9 0zm1 0zm2 0zm38 0zm-127 1zm2 0zm2 0zm1 0zm1 0zm1 0zm1 0zm3 0zm17 0zm4 0zm10 0zm7 0zm5 0zm1 0zm7 0zm1 0zm3 0zm3 0zm1 0zm5 0zm1 0zm1 0zm14 0zm-90 1zm2 0zm1 0zm1 0zm1 0zm2 0zm1 0zm1 0zm19 0zm7 0zm5 0zm6 0zm2 0zm5 0zm14 0zm2 0zm3 0zm1 0zm1 0zm16 0zm2 0zm22 0zm-114 1zm1 0zm1 0zm2 0zm8 0zm16 0zm8 0zm5 0zm5 0zm16 0zm1 0zm5 0zm4 0zm8 0zm11 0zm3 0zm-94 1zm1 0zm1 0zm1 0zm1 0zm1 0zm4 0zm6 0zm5 0zm21 0zm12 0zm2 0zm22 0zm4 0zm-81 1zm1 0zm2 0zm1 0zm8 0zm9 0zm11 0zm1 0zm7 0zm4 0zm2 0zm10 0zm7 0zm1 0zm2 0zm10 0zm8 0zm-84 1zm1 0zm3 0zm1 0zm2 0zm32 0zm1 0zm11 0zm8 0zm4 0zm3 0zm10 0zm19 0zm-95 1zm2 0zm2 0zm4 0zm32 0zm5 0zm4 0zm3 0zm3 0zm1 0zm1 0zm7 0zm12 0zm16 0zm-92 1zm1 0zm1 0zm1 0zm1 0zm2 0zm7 0zm10 0zm5 0zm5 0zm2 0zm7 0zm6 0zm7 0zm10 0zm4 0zm7 0zm3 0zm2 0zm4 0zm1 0zm1 0zm-87 1zm2 0zm3 0zm2 0zm11 0zm12 0zm12 0zm8 0zm1 0zm7 0zm8 0zm9 0zm10 0zm-85 1zm1 0zm1 0zm1 0zm1 0zm1 0zm1 0zm23 0zm5 0zm4 0zm4 0zm24 0zm1 0zm3 0zm3 0zm9 0zm1 0zm1 0zm5 0zm14 0zm-103 1zm1 0zm1 0zm1 0zm1 0zm2 0zm11 0zm8 0zm19 0zm4 0zm24 0zm4 0zm19 0zm-95 1zm1 0zm1 0zm1 0zm1 0zm1 0zm29 0zm23 0zm11 0zm1 0zm60 0zm-129 1zm1 0zm4 0zm1 0zm57 0zm1 0zm11 0zm5 0zm-80 1zm2 0zm1 0zm1 0zm1 0zm23 0zm17 0zm7 0zm5 0zm2 0zm5 0zm2 0zm7 0zm12 0zm-86 1zm1 0zm1 0zm1 0zm1 0zm1 0zm2 0zm2 0zm46 0zm8 0zm3 0zm1 0zm16 0zm16 0zm-98 1zm2 0zm1 0zm1 0zm4 0zm2 0zm34 0zm6 0zm1 0zm2 0zm5 0zm22 0zm2 0zm-82 1zm1 0zm1 0zm2 0zm4 0zm2 0zm4 0zm44 0zm39 0zm-97 1zm4 0zm3 0zm1 0zm64 0zm1 0zm3 0zm14 0zm7 0zm-98 1zm1 0zm1 0zm1 0zm1 0zm1 0zm1 0zm1 0zm1 0zm1 0zm1 0zm1 0zm1 0zm2 0zm3 0zm13 0zm3 0zm1 0zm6 0zm2 0zm1 0zm7 0zm1 0zm1 0zm2 0zm3 0zm1 0zm3 0zm1 0zm2 0zm1 0zm1 0zm6 0zm2 0zm3 0zm1 0zm6 0zm3 0zm4 0zm2 0zm27 0z" stroke="#000"/>
</g>
<rect x="296.3" y="219.4" width="88.20" height="78.60" fill="none" stroke="#1a1a1a" stroke-width="1.3"/>
<path d="M329.4 219.4V298M296.3 267.4H384.5" stroke="#1a1a1a" stroke-width="1.3" fill="none"/>
<path d="M296.3 298v2.6M296.3 298.0h-2.6M302.9 298v1.5M296.3 292.1h-1.5M306.8 298v1.5M296.3 288.6h-1.5M309.6 298v1.5M296.3 286.2h-1.5M311.7 298v1.5M296.3 284.3h-1.5M313.5 298v1.5M296.3 282.7h-1.5M314.9 298v1.5M296.3 281.4h-1.5M316.2 298v1.5M296.3 280.3h-1.5M317.3 298v1.5M296.3 279.2h-1.5M318.4 298v2.6M296.3 278.4h-2.6M325.0 298v1.5M296.3 272.4h-1.5M328.9 298v1.5M296.3 269.0h-1.5M331.6 298v1.5M296.3 266.5h-1.5M333.8 298v1.5M296.3 264.6h-1.5M335.5 298v1.5M296.3 263.1h-1.5M337.0 298v1.5M296.3 261.7h-1.5M338.3 298v1.5M296.3 260.6h-1.5M339.4 298v1.5M296.3 259.6h-1.5M340.4 298v2.6M296.3 258.7h-2.6M347.0 298v1.5M296.3 252.8h-1.5M350.9 298v1.5M296.3 249.3h-1.5M353.7 298v1.5M296.3 246.9h-1.5M355.8 298v1.5M296.3 245.0h-1.5M357.6 298v1.5M296.3 243.4h-1.5M359.0 298v1.5M296.3 242.1h-1.5M360.3 298v1.5M296.3 241.0h-1.5M361.4 298v1.5M296.3 239.9h-1.5M362.4 298v2.6M296.3 239.1h-2.6M369.1 298v1.5M296.3 233.1h-1.5M373.0 298v1.5M296.3 229.7h-1.5M375.7 298v1.5M296.3 227.2h-1.5M377.9 298v1.5M296.3 225.3h-1.5M379.6 298v1.5M296.3 223.8h-1.5M381.1 298v1.5M296.3 222.4h-1.5M382.4 298v1.5M296.3 221.3h-1.5M383.5 298v1.5M296.3 220.3h-1.5M384.5 298v2.6M296.3 219.4h-2.6" stroke="#111" stroke-width="0.7" fill="none"/>
<text transform="translate(296.4 307.2) scale(.86 1)" class="t" text-anchor="middle">10<tspan dy="-2.6" class="s">0</tspan></text>
<text transform="translate(292.7 298.5) rotate(-90) scale(.86 1)" class="t" text-anchor="middle">10<tspan dy="-2.6" class="s">0</tspan></text>
<text transform="translate(318.5 307.2) scale(.86 1)" class="t" text-anchor="middle">10<tspan dy="-2.6" class="s">1</tspan></text>
<text transform="translate(292.7 278.9) rotate(-90) scale(.86 1)" class="t" text-anchor="middle">10<tspan dy="-2.6" class="s">1</tspan></text>
<text transform="translate(340.5 307.2) scale(.86 1)" class="t" text-anchor="middle">10<tspan dy="-2.6" class="s">2</tspan></text>
<text transform="translate(292.7 259.2) rotate(-90) scale(.86 1)" class="t" text-anchor="middle">10<tspan dy="-2.6" class="s">2</tspan></text>
<text transform="translate(362.6 307.2) scale(.86 1)" class="t" text-anchor="middle">10<tspan dy="-2.6" class="s">3</tspan></text>
<text transform="translate(292.7 239.6) rotate(-90) scale(.86 1)" class="t" text-anchor="middle">10<tspan dy="-2.6" class="s">3</tspan></text>
<text transform="translate(384.6 307.2) scale(.86 1)" class="t" text-anchor="middle">10<tspan dy="-2.6" class="s">4</tspan></text>
<text transform="translate(292.7 219.9) rotate(-90) scale(.86 1)" class="t" text-anchor="middle">10<tspan dy="-2.6" class="s">4</tspan></text>
<text transform="translate(285.6 269.2) rotate(-90)" class="yl" textLength="20.2" lengthAdjust="spacingAndGlyphs">CD14 PE</text>
<text x="337.0" y="316.8" class="xl" text-anchor="middle">GFP</text>
<text x="367.7" y="236.1" class="pc" text-anchor="middle">23%</text>
<clipPath id="cC6"><rect x="426.5" y="220.5" width="88.80" height="80.60"/></clipPath>
<g clip-path="url(#cC6)">
<polygon points="443.4,284.0 444.8,284.2 446.1,284.7 447.2,285.6 448.1,286.7 448.6,288.0 448.8,289.4 448.8,310.9 448.6,312.3 448.1,313.6 447.2,314.7 446.1,315.6 444.8,316.1 443.4,316.3 419.9,316.3 418.5,316.1 417.2,315.6 416.1,314.7 415.2,313.6 414.7,312.3 414.5,310.9 414.5,289.4 414.7,288.0 415.2,286.7 416.1,285.6 417.2,284.7 418.5,284.2 419.9,284.0" fill="#000" filter="url(#b)"/>
<path class="d" transform="scale(.5)" d="M893 571zm-36 5zm3 3zm11 8z" stroke="#fff" opacity=".75"/>
<path class="d" transform="scale(.5)" d="M884 496zm24 14zm-11 4zm10 2zm7 0zm-41 1zm-7 1zm5 1zm0 3zm39 0zm-32 1zm19 0zm37 0zm-34 1zm-31 1zm24 0zm6 0zm17 0zm-34 1zm9 0zm2 0zm11 0zm16 0zm-56 1zm65 0zm-39 1zm1 0zm40 0zm-60 1zm9 0zm18 0zm26 0zm4 0zm2 0zm2 0zm-5 1zm-33 1zm4 0zm2 2zm7 0zm8 0zm0 1zm12 0zm-12 1zm18 0zm-21 1zm-13 1zm25 0zm-7 1zm11 0zm3 0zm-8 1zm-14 1zm6 0zm16 0zm-72 1zm26 0zm29 0zm2 0zm-13 2zm7 0zm6 0zm-10 1zm-39 1zm8 0zm30 0zm2 0zm4 0zm2 0zm4 0zm-57 1zm24 0zm7 0zm4 0zm2 0zm2 0zm1 0zm3 0zm3 0zm2 0zm2 0zm3 0zm-54 1zm9 0zm1 0zm22 0zm1 0zm12 0zm3 0zm1 0zm2 0zm2 0zm1 0zm1 0zm4 0zm-43 1zm1 0zm1 0zm13 0zm12 0zm1 0zm2 0zm1 0zm6 0zm3 0zm5 0zm-60 1zm35 0zm3 0zm1 0zm6 0zm1 0zm1 0zm1 0zm1 0zm3 0zm2 0zm1 0zm1 0zm-40 1zm1 0zm1 0zm10 0zm4 0zm9 0zm8 0zm2 0zm1 0zm2 0zm7 0zm-57 1zm11 0zm5 0zm12 0zm3 0zm1 0zm2 0zm2 0zm1 0zm2 0zm1 0zm1 0zm1 0zm1 0zm5 0zm7 0zm-60 1zm9 0zm8 0zm4 0zm3 0zm4 0zm18 0zm1 0zm3 0zm1 0zm1 0zm-57 1zm11 0zm12 0zm6 0zm9 0zm6 0zm1 0zm5 0zm1 0zm1 0zm1 0zm4 0zm8 0zm-65 1zm21 0zm4 0zm2 0zm5 0zm2 0zm8 0zm2 0zm1 0zm1 0zm2 0zm4 0zm1 0zm3 0zm1 0zm3 0zm7 0zm-51 1zm6 0zm2 0zm10 0zm13 0zm2 0zm2 0zm3 0zm1 0zm1 0zm2 0zm5 0zm1 0zm-64 1zm11 0zm4 0zm3 0zm2 0zm4 0zm10 0zm7 0zm2 0zm4 0zm1 0zm3 0zm1 0zm3 0zm6 0zm-61 1zm26 0zm3 0zm10 0zm2 0zm2 0zm3 0zm2 0zm1 0zm2 0zm3 0zm-54 1zm14 0zm13 0zm4 0zm3 0zm6 0zm2 0zm1 0zm2 0zm1 0zm3 0zm1 0zm4 0zm-54 1zm1 0zm3 0zm7 0zm2 0zm3 0zm1 0zm3 0zm3 0zm1 0zm5 0zm4 0zm1 0zm4 0zm1 0zm2 0zm2 0zm1 0zm1 0zm1 0zm4 0zm1 0zm1 0zm2 0zm3 0zm1 0zm-58 1zm4 0zm1 0zm6 0zm1 0zm4 0zm4 0zm2 0zm1 0zm3 0zm11 0zm2 0zm1 0zm1 0zm5 0zm1 0zm3 0zm1 0zm2 0zm1 0zm-54 1zm2 0zm4 0zm7 0zm1 0zm1 0zm3 0zm2 0zm13 0zm1 0zm1 0zm5 0zm9 0zm2 0zm5 0zm4 0zm-60 1zm3 0zm4 0zm7 0zm4 0zm2 0zm3 0zm1 0zm3 0zm3 0zm3 0zm2 0zm1 0zm5 0zm9 0zm3 0zm-53 1zm2 0zm1 0zm5 0zm2 0zm2 0zm1 0zm1 0zm2 0zm2 0zm4 0zm1 0zm1 0zm5 0zm2 0zm1 0zm1 0zm2 0zm3 0zm1 0zm1 0zm4 0zm3 0zm2 0zm1 0zm4 0zm-54 1zm2 0zm5 0zm1 0zm1 0zm1 0zm1 0zm1 0zm7 0zm2 0zm1 0zm4 0zm1 0zm2 0zm2 0zm5 0zm9 0zm21 0zm51 0zm-117 1zm9 0zm1 0zm2 0zm1 0zm1 0zm2 0zm2 0zm1 0zm1 0zm5 0zm1 0zm1 0zm1 0zm1 0zm1 0zm5 0zm3 0zm2 0zm1 0zm6 0zm2 0zm7 0zm4 0zm-60 1zm1 0zm1 0zm1 0zm1 0zm1 0zm1 0zm1 0zm1 0zm1 0zm2 0zm2 0zm1 0zm1 0zm2 0zm1 0zm1 0zm1 0zm1 0zm2 0zm2 0zm2 0zm1 0zm3 0zm3 0zm2 0zm1 0zm3 0zm1 0zm33 0zm-74 1zm1 0zm6 0zm1 0zm1 0zm1 0zm2 0zm1 0zm1 0zm1 0zm1 0zm1 0zm4 0zm1 0zm1 0zm1 0zm1 0zm3 0zm1 0zm3 0zm1 0zm1 0zm5 0zm1 0zm8 0zm6 0zm-54 1zm1 0zm1 0zm1 0zm1 0zm1 0zm1 0zm1 0zm1 0zm1 0zm1 0zm1 0zm1 0zm3 0zm1 0zm1 0zm1 0zm1 0zm2 0zm1 0zm1 0zm1 0zm2 0zm2 0zm1 0zm1 0zm1 0zm1 0zm2 0zm2 0zm1 0zm2 0zm3 0zm2 0zm6 0zm-50 1zm1 0zm1 0zm1 0zm1 0zm1 0zm1 0zm1 0zm1 0zm1 0zm3 0zm1 0zm1 0zm1 0zm1 0zm1 0zm1 0zm1 0zm1 0zm2 0zm1 0zm1 0zm1 0zm1 0zm1 0zm1 0zm2 0zm2 0zm1 0zm1 0zm1 0zm1 0zm1 0zm1 0zm3 0zm2 0zm4 0zm-47 1zm2 0zm2 0zm1 0zm1 0zm1 0zm3 0zm1 0zm1 0zm4 0zm1 0zm1 0zm2 0zm1 0zm1 0zm1 0zm1 0zm1 0zm1 0zm1 0zm2 0zm1 0zm4 0zm1 0zm2 0zm3 0zm3 0zm3 0zm3 0zm64 0zm-76 1zm1 0zm1 0zm1 0zm1 0zm1 0zm1 0zm1 0zm2 0zm-8 1zm1 0zm1 0zm1 0zm1 0zm1 0zm3 0zm1 0zm52 0zm-60 1zm1 0zm1 0zm7 0zm11 0zm22 0zm6 0zm15 0zm-62 1zm2 0zm2 0zm2 0zm18 0zm19 0zm7 0zm22 0zm-71 1zm2 0zm1 0zm1 0zm9 0zm32 0zm4 0zm3 0zm-52 1zm6 0zm44 0zm1 0zm8 0zm27 0zm-84 1zm1 0zm1 0zm1 0zm3 0zm11 0zm29 0zm21 0zm22 0zm-90 1zm2 0zm27 0zm3 0zm8 0zm3 0zm12 0zm19 0zm3 0zm10 0zm-86 1zm1 0zm1 0zm3 0zm2 0zm3 0zm27 0zm13 0zm2 0zm6 0zm21 0zm-80 1zm1 0zm1 0zm1 0zm8 0zm19 0zm16 0zm4 0zm2 0zm1 0zm6 0zm6 0zm20 0zm19 0zm-104 1zm1 0zm2 0zm1 0zm1 0zm1 0zm1 0zm3 0zm38 0zm6 0zm5 0zm15 0zm5 0zm7 0zm-86 1zm1 0zm1 0zm2 0zm1 0zm1 0zm22 0zm13 0zm18 0zm7 0zm-66 1zm1 0zm1 0zm4 0zm2 0zm9 0zm18 0zm3 0zm22 0zm6 0zm1 0zm9 0zm2 0zm3 0zm6 0zm11 0zm2 0zm-100 1zm1 0zm2 0zm1 0zm5 0zm23 0zm9 0zm10 0zm3 0zm6 0zm10 0zm-69 1zm1 0zm1 0zm1 0zm1 0zm6 0zm44 0zm5 0zm7 0zm3 0zm7 0zm7 0zm-84 1zm3 0zm1 0zm4 0zm12 0zm20 0zm3 0zm1 0zm10 0zm8 0zm2 0zm6 0zm3 0zm-73 1zm3 0zm1 0zm1 0zm1 0zm34 0zm10 0zm1 0zm1 0zm3 0zm8 0zm2 0zm14 0zm4 0zm-83 1zm3 0zm1 0zm29 0zm10 0zm6 0zm6 0zm7 0zm12 0zm2 0zm-76 1zm1 0zm2 0zm3 0zm39 0zm2 0zm9 0zm18 0zm15 0zm-89 1zm1 0zm1 0zm3 0zm1 0zm8 0zm12 0zm4 0zm19 0zm7 0zm3 0zm3 0zm1 0zm6 0zm1 0zm11 0zm2 0zm8 0zm1 0zm7 0zm-99 1zm1 0zm5 0zm1 0zm46 0zm3 0zm1 0zm1 0zm1 0zm15 0zm-74 1zm1 0zm1 0zm1 0zm1 0zm3 0zm12 0zm41 0zm-61 1zm1 0zm2 0zm1 0zm1 0zm1 0zm3 0zm1 0zm1 0zm1 0zm19 0zm6 0zm3 0zm20 0zm22 0zm-81 1zm1 0zm2 0zm1 0zm3 0zm23 0zm27 0zm-58 1zm5 0zm3 0zm3 0zm7 0zm20 0zm7 0zm-43 1zm1 0zm1 0zm2 0zm4 0zm1 0zm34 0zm17 0zm11 0zm1 0zm-73 1zm1 0zm4 0zm9 0zm16 0zm15 0zm27 0zm10 0zm-77 1zm1 0zm1 0zm27 0zm32 0zm6 0zm-72 1zm1 0zm1 0zm1 0zm1 0zm1 0zm2 0zm1 0zm30 0zm7 0zm19 0zm2 0zm3 0zm-69 1zm1 0zm1 0zm1 0zm4 0zm21 0zm42 0zm20 0zm-91 1zm1 0zm1 0zm1 0zm1 0zm1 0zm1 0zm1 0zm1 0zm1 0zm1 0zm1 0zm2 0zm34 0zm10 0zm11 0z" stroke="#000"/>
</g>
<rect x="426.5" y="220.5" width="88.80" height="80.60" fill="none" stroke="#1a1a1a" stroke-width="1.3"/>
<path d="M458 220.5V301.1M426.5 270.4H515.3" stroke="#1a1a1a" stroke-width="1.3" fill="none"/>
<path d="M426.5 301.1v2.6M426.5 301.1h-2.6M433.2 301.1v1.5M426.5 295.0h-1.5M437.1 301.1v1.5M426.5 291.5h-1.5M439.9 301.1v1.5M426.5 289.0h-1.5M442.0 301.1v1.5M426.5 287.0h-1.5M443.8 301.1v1.5M426.5 285.4h-1.5M445.3 301.1v1.5M426.5 284.1h-1.5M446.5 301.1v1.5M426.5 282.9h-1.5M447.7 301.1v1.5M426.5 281.9h-1.5M448.7 301.1v2.6M426.5 281.0h-2.6M455.4 301.1v1.5M426.5 274.9h-1.5M459.3 301.1v1.5M426.5 271.3h-1.5M462.1 301.1v1.5M426.5 268.8h-1.5M464.2 301.1v1.5M426.5 266.9h-1.5M466.0 301.1v1.5M426.5 265.3h-1.5M467.5 301.1v1.5M426.5 263.9h-1.5M468.7 301.1v1.5M426.5 262.8h-1.5M469.9 301.1v1.5M426.5 261.7h-1.5M470.9 301.1v2.6M426.5 260.8h-2.6M477.6 301.1v1.5M426.5 254.7h-1.5M481.5 301.1v1.5M426.5 251.2h-1.5M484.3 301.1v1.5M426.5 248.7h-1.5M486.4 301.1v1.5M426.5 246.7h-1.5M488.2 301.1v1.5M426.5 245.1h-1.5M489.7 301.1v1.5M426.5 243.8h-1.5M490.9 301.1v1.5M426.5 242.6h-1.5M492.1 301.1v1.5M426.5 241.6h-1.5M493.1 301.1v2.6M426.5 240.7h-2.6M499.8 301.1v1.5M426.5 234.6h-1.5M503.7 301.1v1.5M426.5 231.0h-1.5M506.5 301.1v1.5M426.5 228.5h-1.5M508.6 301.1v1.5M426.5 226.6h-1.5M510.4 301.1v1.5M426.5 225.0h-1.5M511.9 301.1v1.5M426.5 223.6h-1.5M513.1 301.1v1.5M426.5 222.5h-1.5M514.3 301.1v1.5M426.5 221.4h-1.5M515.3 301.1v2.6M426.5 220.5h-2.6" stroke="#111" stroke-width="0.7" fill="none"/>
<text transform="translate(426.6 310.3) scale(.86 1)" class="t" text-anchor="middle">10<tspan dy="-2.6" class="s">0</tspan></text>
<text transform="translate(422.9 301.6) rotate(-90) scale(.86 1)" class="t" text-anchor="middle">10<tspan dy="-2.6" class="s">0</tspan></text>
<text transform="translate(448.8 310.3) scale(.86 1)" class="t" text-anchor="middle">10<tspan dy="-2.6" class="s">1</tspan></text>
<text transform="translate(422.9 281.5) rotate(-90) scale(.86 1)" class="t" text-anchor="middle">10<tspan dy="-2.6" class="s">1</tspan></text>
<text transform="translate(471.0 310.3) scale(.86 1)" class="t" text-anchor="middle">10<tspan dy="-2.6" class="s">2</tspan></text>
<text transform="translate(422.9 261.3) rotate(-90) scale(.86 1)" class="t" text-anchor="middle">10<tspan dy="-2.6" class="s">2</tspan></text>
<text transform="translate(493.2 310.3) scale(.86 1)" class="t" text-anchor="middle">10<tspan dy="-2.6" class="s">3</tspan></text>
<text transform="translate(422.9 241.2) rotate(-90) scale(.86 1)" class="t" text-anchor="middle">10<tspan dy="-2.6" class="s">3</tspan></text>
<text transform="translate(515.4 310.3) scale(.86 1)" class="t" text-anchor="middle">10<tspan dy="-2.6" class="s">4</tspan></text>
<text transform="translate(422.9 221.0) rotate(-90) scale(.86 1)" class="t" text-anchor="middle">10<tspan dy="-2.6" class="s">4</tspan></text>
<text transform="translate(415.8 273.0) rotate(-90)" class="yl" textLength="25.7" lengthAdjust="spacingAndGlyphs">GLYCO PE</text>
<text x="467.5" y="319.9" class="xl" text-anchor="middle">GFP</text>
<text x="495.7" y="236.3" class="pc" text-anchor="middle">7%</text>
<text x="0.3" y="11" class="pl">A</text>
<text x="-0.1" y="121.8" class="pl">B</text>
<text x="261.3" y="11.4" class="pl">C</text>
</svg>
</body></html>
